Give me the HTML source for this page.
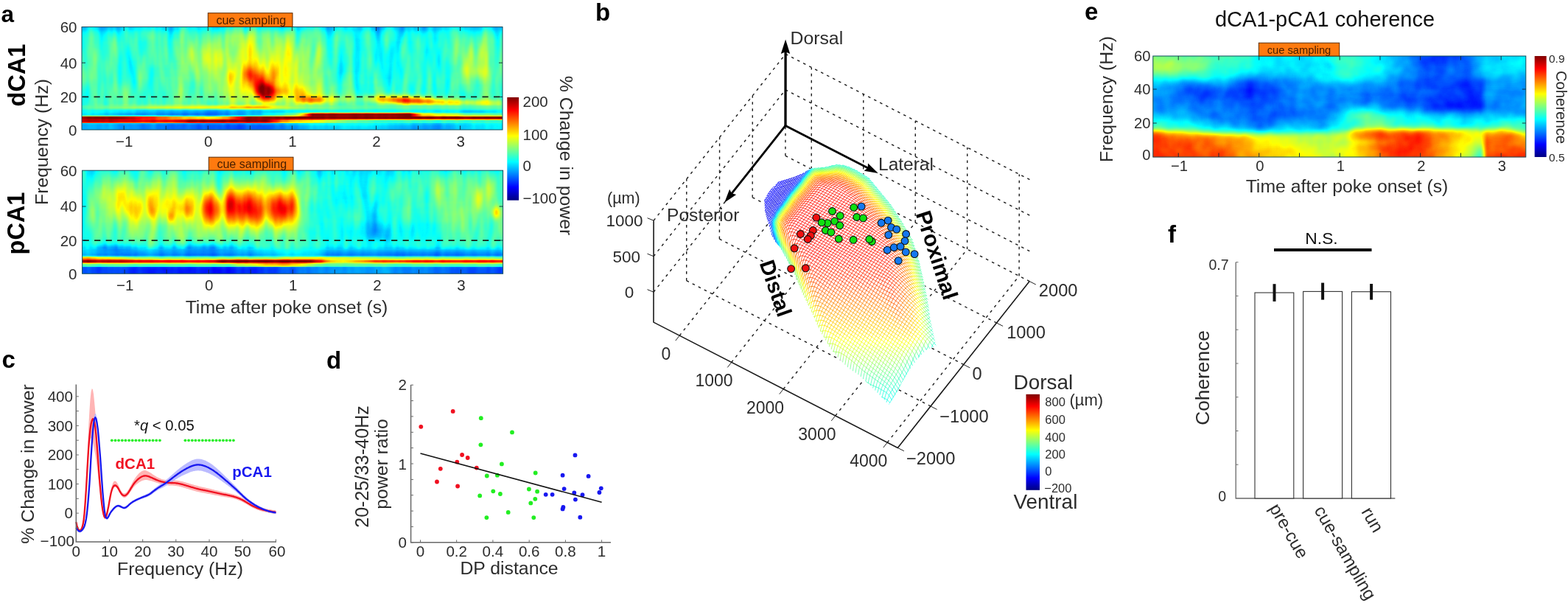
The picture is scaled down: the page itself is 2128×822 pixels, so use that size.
<!DOCTYPE html>
<html lang="en"><head><meta charset="utf-8"><title>Figure</title>
<style>
html,body{margin:0;padding:0;background:#fff}
svg{display:block}
</style></head><body>
<svg width="2128" height="822" viewBox="0 0 2128 822" font-family="'Liberation Sans', sans-serif" fill="#2c2c2c">
<defs>
<linearGradient id="haaT" gradientUnits="userSpaceOnUse" x1="111" x2="682" y1="0" y2="0"/>
<linearGradient id="haa0" href="#haaT"><stop offset=".003" stop-color="#565656"/><stop offset=".15" stop-color="#535353"/><stop offset=".283" stop-color="#5f5f5f"/><stop offset=".409" stop-color="#6a6a6a"/><stop offset=".535" stop-color="#5c5c5c"/><stop offset=".703" stop-color="#4c4c4c"/><stop offset=".864" stop-color="#515151"/><stop offset=".962" stop-color="#5e5e5e"/><stop offset=".997" stop-color="#545454"/></linearGradient>
<linearGradient id="haa1" href="#haaT"><stop offset=".003" stop-color="#5f5f5f"/><stop offset=".15" stop-color="#5d5d5d"/><stop offset=".283" stop-color="#696969"/><stop offset=".409" stop-color="#757575"/><stop offset=".528" stop-color="#686868"/><stop offset=".647" stop-color="#595959"/><stop offset=".822" stop-color="#575757"/><stop offset=".892" stop-color="#606060"/><stop offset=".962" stop-color="#696969"/><stop offset=".997" stop-color="#5e5e5e"/></linearGradient>
<linearGradient id="haa2" href="#haaT"><stop offset=".003" stop-color="#666"/><stop offset=".115" stop-color="#646464"/><stop offset=".255" stop-color="#6c6c6c"/><stop offset=".409" stop-color="#7d7d7d"/><stop offset=".479" stop-color="#767676"/><stop offset=".5" stop-color="#747474"/><stop offset=".626" stop-color="#616161"/><stop offset=".773" stop-color="#5d5d5d"/><stop offset=".864" stop-color="#626262"/><stop offset=".962" stop-color="#707070"/><stop offset=".997" stop-color="#646464"/></linearGradient>
<linearGradient id="haa3" href="#haaT"><stop offset=".003" stop-color="#696969"/><stop offset=".108" stop-color="#676767"/><stop offset=".255" stop-color="#717171"/><stop offset=".402" stop-color="#858585"/><stop offset=".472" stop-color="#7a7a7a"/><stop offset=".493" stop-color="#7d7d7d"/><stop offset=".514" stop-color="#767676"/><stop offset=".633" stop-color="#646464"/><stop offset=".78" stop-color="#616161"/><stop offset=".864" stop-color="#666"/><stop offset=".934" stop-color="#707070"/><stop offset=".962" stop-color="#747474"/><stop offset=".997" stop-color="#686868"/></linearGradient>
<linearGradient id="haa4" href="#haaT"><stop offset=".003" stop-color="#6c6c6c"/><stop offset=".108" stop-color="#6a6a6a"/><stop offset=".129" stop-color="#6c6c6c"/><stop offset=".227" stop-color="#6f6f6f"/><stop offset=".388" stop-color="#868686"/><stop offset=".402" stop-color="#8b8b8b"/><stop offset=".437" stop-color="#818181"/><stop offset=".479" stop-color="#7f7f7f"/><stop offset=".493" stop-color="#828282"/><stop offset=".514" stop-color="#7a7a7a"/><stop offset=".535" stop-color="#757575"/><stop offset=".633" stop-color="#676767"/><stop offset=".773" stop-color="#636363"/><stop offset=".857" stop-color="#666"/><stop offset=".927" stop-color="#747474"/><stop offset=".962" stop-color="#787878"/><stop offset=".997" stop-color="#6a6a6a"/></linearGradient>
<linearGradient id="haa5" href="#haaT"><stop offset=".003" stop-color="#6d6d6d"/><stop offset=".101" stop-color="#6a6a6a"/><stop offset=".122" stop-color="#717171"/><stop offset=".157" stop-color="#6c6c6c"/><stop offset=".248" stop-color="#757575"/><stop offset=".269" stop-color="#797979"/><stop offset=".388" stop-color="#898989"/><stop offset=".402" stop-color="#909090"/><stop offset=".423" stop-color="#858585"/><stop offset=".479" stop-color="#828282"/><stop offset=".493" stop-color="#868686"/><stop offset=".507" stop-color="#7c7c7c"/><stop offset=".528" stop-color="#7e7e7e"/><stop offset=".549" stop-color="#747474"/><stop offset=".661" stop-color="#666"/><stop offset=".85" stop-color="#666"/><stop offset=".878" stop-color="#6f6f6f"/><stop offset=".927" stop-color="#767676"/><stop offset=".948" stop-color="#767676"/><stop offset=".962" stop-color="#7b7b7b"/><stop offset=".997" stop-color="#6c6c6c"/></linearGradient>
<linearGradient id="haa6" href="#haaT"><stop offset=".003" stop-color="#6e6e6e"/><stop offset=".101" stop-color="#6c6c6c"/><stop offset=".122" stop-color="#747474"/><stop offset=".15" stop-color="#6c6c6c"/><stop offset=".248" stop-color="#777"/><stop offset=".262" stop-color="#7e7e7e"/><stop offset=".283" stop-color="#7c7c7c"/><stop offset=".304" stop-color="#818181"/><stop offset=".381" stop-color="#888"/><stop offset=".402" stop-color="#949494"/><stop offset=".423" stop-color="#878787"/><stop offset=".472" stop-color="#828282"/><stop offset=".493" stop-color="#8a8a8a"/><stop offset=".507" stop-color="#7e7e7e"/><stop offset=".528" stop-color="#818181"/><stop offset=".542" stop-color="#777"/><stop offset=".563" stop-color="#777"/><stop offset=".591" stop-color="#6d6d6d"/><stop offset=".745" stop-color="#656565"/><stop offset=".857" stop-color="#696969"/><stop offset=".878" stop-color="#707070"/><stop offset=".906" stop-color="#747474"/><stop offset=".927" stop-color="#787878"/><stop offset=".948" stop-color="#787878"/><stop offset=".962" stop-color="#7d7d7d"/><stop offset=".99" stop-color="#6f6f6f"/><stop offset=".997" stop-color="#6d6d6d"/></linearGradient>
<linearGradient id="haa7" href="#haaT"><stop offset=".003" stop-color="#6f6f6f"/><stop offset=".101" stop-color="#6c6c6c"/><stop offset=".122" stop-color="#777"/><stop offset=".15" stop-color="#6d6d6d"/><stop offset=".241" stop-color="#757575"/><stop offset=".262" stop-color="#828282"/><stop offset=".283" stop-color="#7e7e7e"/><stop offset=".297" stop-color="#858585"/><stop offset=".353" stop-color="#868686"/><stop offset=".388" stop-color="#8e8e8e"/><stop offset=".402" stop-color="#989898"/><stop offset=".423" stop-color="#898989"/><stop offset=".472" stop-color="#838383"/><stop offset=".486" stop-color="#8d8d8d"/><stop offset=".493" stop-color="#8c8c8c"/><stop offset=".507" stop-color="#808080"/><stop offset=".521" stop-color="#878787"/><stop offset=".542" stop-color="#787878"/><stop offset=".563" stop-color="#7a7a7a"/><stop offset=".584" stop-color="#6f6f6f"/><stop offset=".738" stop-color="#666"/><stop offset=".857" stop-color="#6b6b6b"/><stop offset=".878" stop-color="#727272"/><stop offset=".906" stop-color="#757575"/><stop offset=".927" stop-color="#7a7a7a"/><stop offset=".948" stop-color="#797979"/><stop offset=".962" stop-color="#808080"/><stop offset=".983" stop-color="#717171"/><stop offset=".997" stop-color="#6d6d6d"/></linearGradient>
<linearGradient id="haa8" href="#haaT"><stop offset=".003" stop-color="#6f6f6f"/><stop offset=".101" stop-color="#6d6d6d"/><stop offset=".122" stop-color="#787878"/><stop offset=".15" stop-color="#6e6e6e"/><stop offset=".241" stop-color="#767676"/><stop offset=".262" stop-color="#878787"/><stop offset=".276" stop-color="#7e7e7e"/><stop offset=".297" stop-color="#888"/><stop offset=".318" stop-color="#848484"/><stop offset=".381" stop-color="#8b8b8b"/><stop offset=".402" stop-color="#9a9a9a"/><stop offset=".423" stop-color="#8a8a8a"/><stop offset=".472" stop-color="#858585"/><stop offset=".486" stop-color="#8f8f8f"/><stop offset=".493" stop-color="#8e8e8e"/><stop offset=".507" stop-color="#818181"/><stop offset=".521" stop-color="#898989"/><stop offset=".528" stop-color="#878787"/><stop offset=".542" stop-color="#797979"/><stop offset=".563" stop-color="#7d7d7d"/><stop offset=".584" stop-color="#707070"/><stop offset=".738" stop-color="#666"/><stop offset=".857" stop-color="#6b6b6b"/><stop offset=".878" stop-color="#737373"/><stop offset=".899" stop-color="#737373"/><stop offset=".92" stop-color="#7d7d7d"/><stop offset=".941" stop-color="#777"/><stop offset=".962" stop-color="#828282"/><stop offset=".983" stop-color="#727272"/><stop offset=".997" stop-color="#6e6e6e"/></linearGradient>
<linearGradient id="haa9" href="#haaT"><stop offset=".003" stop-color="#707070"/><stop offset=".101" stop-color="#6d6d6d"/><stop offset=".122" stop-color="#797979"/><stop offset=".15" stop-color="#6e6e6e"/><stop offset=".241" stop-color="#777"/><stop offset=".255" stop-color="#888"/><stop offset=".262" stop-color="#8c8c8c"/><stop offset=".276" stop-color="#7f7f7f"/><stop offset=".297" stop-color="#8c8c8c"/><stop offset=".318" stop-color="#868686"/><stop offset=".332" stop-color="#8c8c8c"/><stop offset=".367" stop-color="#8a8a8a"/><stop offset=".388" stop-color="#919191"/><stop offset=".402" stop-color="#9c9c9c"/><stop offset=".423" stop-color="#8b8b8b"/><stop offset=".472" stop-color="#868686"/><stop offset=".486" stop-color="#909090"/><stop offset=".493" stop-color="#909090"/><stop offset=".507" stop-color="#828282"/><stop offset=".521" stop-color="#8c8c8c"/><stop offset=".528" stop-color="#898989"/><stop offset=".542" stop-color="#7a7a7a"/><stop offset=".563" stop-color="#7f7f7f"/><stop offset=".584" stop-color="#707070"/><stop offset=".738" stop-color="#666"/><stop offset=".85" stop-color="#696969"/><stop offset=".871" stop-color="#747474"/><stop offset=".899" stop-color="#737373"/><stop offset=".92" stop-color="#7f7f7f"/><stop offset=".941" stop-color="#787878"/><stop offset=".962" stop-color="#838383"/><stop offset=".983" stop-color="#727272"/><stop offset=".997" stop-color="#6e6e6e"/></linearGradient>
<linearGradient id="haa10" href="#haaT"><stop offset=".003" stop-color="#707070"/><stop offset=".101" stop-color="#6d6d6d"/><stop offset=".122" stop-color="#787878"/><stop offset=".15" stop-color="#6e6e6e"/><stop offset=".241" stop-color="#777"/><stop offset=".255" stop-color="#8b8b8b"/><stop offset=".262" stop-color="#909090"/><stop offset=".276" stop-color="#808080"/><stop offset=".297" stop-color="#8f8f8f"/><stop offset=".311" stop-color="#868686"/><stop offset=".332" stop-color="#909090"/><stop offset=".353" stop-color="#8a8a8a"/><stop offset=".388" stop-color="#929292"/><stop offset=".402" stop-color="#9c9c9c"/><stop offset=".423" stop-color="#8d8d8d"/><stop offset=".472" stop-color="#878787"/><stop offset=".486" stop-color="#919191"/><stop offset=".493" stop-color="#909090"/><stop offset=".507" stop-color="#838383"/><stop offset=".521" stop-color="#8d8d8d"/><stop offset=".528" stop-color="#8b8b8b"/><stop offset=".542" stop-color="#7b7b7b"/><stop offset=".563" stop-color="#818181"/><stop offset=".577" stop-color="#737373"/><stop offset=".731" stop-color="#666"/><stop offset=".85" stop-color="#696969"/><stop offset=".871" stop-color="#757575"/><stop offset=".899" stop-color="#747474"/><stop offset=".92" stop-color="#818181"/><stop offset=".941" stop-color="#787878"/><stop offset=".962" stop-color="#858585"/><stop offset=".983" stop-color="#727272"/><stop offset=".997" stop-color="#6e6e6e"/></linearGradient>
<linearGradient id="haa11" href="#haaT"><stop offset=".003" stop-color="#707070"/><stop offset=".101" stop-color="#6d6d6d"/><stop offset=".122" stop-color="#777"/><stop offset=".15" stop-color="#6e6e6e"/><stop offset=".241" stop-color="#787878"/><stop offset=".255" stop-color="#8e8e8e"/><stop offset=".262" stop-color="#929292"/><stop offset=".276" stop-color="#818181"/><stop offset=".283" stop-color="#848484"/><stop offset=".297" stop-color="#929292"/><stop offset=".311" stop-color="#888"/><stop offset=".332" stop-color="#949494"/><stop offset=".353" stop-color="#8b8b8b"/><stop offset=".388" stop-color="#939393"/><stop offset=".402" stop-color="#9c9c9c"/><stop offset=".423" stop-color="#8e8e8e"/><stop offset=".472" stop-color="#888"/><stop offset=".486" stop-color="#919191"/><stop offset=".493" stop-color="#909090"/><stop offset=".507" stop-color="#848484"/><stop offset=".521" stop-color="#8e8e8e"/><stop offset=".528" stop-color="#8b8b8b"/><stop offset=".542" stop-color="#7b7b7b"/><stop offset=".563" stop-color="#828282"/><stop offset=".577" stop-color="#737373"/><stop offset=".724" stop-color="#666"/><stop offset=".85" stop-color="#6a6a6a"/><stop offset=".871" stop-color="#767676"/><stop offset=".899" stop-color="#747474"/><stop offset=".92" stop-color="#828282"/><stop offset=".941" stop-color="#787878"/><stop offset=".962" stop-color="#868686"/><stop offset=".983" stop-color="#727272"/><stop offset=".997" stop-color="#6e6e6e"/></linearGradient>
<linearGradient id="haa12" href="#haaT"><stop offset=".003" stop-color="#707070"/><stop offset=".101" stop-color="#6d6d6d"/><stop offset=".122" stop-color="#757575"/><stop offset=".157" stop-color="#6f6f6f"/><stop offset=".241" stop-color="#787878"/><stop offset=".255" stop-color="#8f8f8f"/><stop offset=".262" stop-color="#939393"/><stop offset=".276" stop-color="#828282"/><stop offset=".283" stop-color="#848484"/><stop offset=".297" stop-color="#949494"/><stop offset=".311" stop-color="#888"/><stop offset=".332" stop-color="#979797"/><stop offset=".346" stop-color="#8c8c8c"/><stop offset=".388" stop-color="#949494"/><stop offset=".402" stop-color="#9c9c9c"/><stop offset=".423" stop-color="#8f8f8f"/><stop offset=".479" stop-color="#8c8c8c"/><stop offset=".493" stop-color="#909090"/><stop offset=".507" stop-color="#858585"/><stop offset=".521" stop-color="#8e8e8e"/><stop offset=".528" stop-color="#8b8b8b"/><stop offset=".542" stop-color="#7c7c7c"/><stop offset=".563" stop-color="#838383"/><stop offset=".577" stop-color="#737373"/><stop offset=".724" stop-color="#666"/><stop offset=".85" stop-color="#6a6a6a"/><stop offset=".871" stop-color="#777"/><stop offset=".899" stop-color="#747474"/><stop offset=".92" stop-color="#838383"/><stop offset=".941" stop-color="#797979"/><stop offset=".962" stop-color="#868686"/><stop offset=".983" stop-color="#727272"/><stop offset=".997" stop-color="#6e6e6e"/></linearGradient>
<linearGradient id="haa13" href="#haaT"><stop offset=".003" stop-color="#707070"/><stop offset=".101" stop-color="#6d6d6d"/><stop offset=".122" stop-color="#737373"/><stop offset=".164" stop-color="#6f6f6f"/><stop offset=".241" stop-color="#787878"/><stop offset=".255" stop-color="#8e8e8e"/><stop offset=".262" stop-color="#929292"/><stop offset=".276" stop-color="#828282"/><stop offset=".283" stop-color="#858585"/><stop offset=".297" stop-color="#949494"/><stop offset=".311" stop-color="#898989"/><stop offset=".318" stop-color="#8c8c8c"/><stop offset=".325" stop-color="#969696"/><stop offset=".332" stop-color="#999"/><stop offset=".346" stop-color="#8d8d8d"/><stop offset=".388" stop-color="#969696"/><stop offset=".402" stop-color="#9d9d9d"/><stop offset=".423" stop-color="#919191"/><stop offset=".479" stop-color="#8d8d8d"/><stop offset=".493" stop-color="#8f8f8f"/><stop offset=".507" stop-color="#858585"/><stop offset=".521" stop-color="#8d8d8d"/><stop offset=".528" stop-color="#8a8a8a"/><stop offset=".542" stop-color="#7c7c7c"/><stop offset=".563" stop-color="#838383"/><stop offset=".577" stop-color="#747474"/><stop offset=".724" stop-color="#666"/><stop offset=".85" stop-color="#6a6a6a"/><stop offset=".871" stop-color="#787878"/><stop offset=".899" stop-color="#747474"/><stop offset=".92" stop-color="#848484"/><stop offset=".941" stop-color="#797979"/><stop offset=".962" stop-color="#868686"/><stop offset=".983" stop-color="#727272"/><stop offset=".997" stop-color="#6e6e6e"/></linearGradient>
<linearGradient id="haa14" href="#haaT"><stop offset=".003" stop-color="#707070"/><stop offset=".108" stop-color="#6e6e6e"/><stop offset=".234" stop-color="#767676"/><stop offset=".248" stop-color="#7f7f7f"/><stop offset=".255" stop-color="#8c8c8c"/><stop offset=".262" stop-color="#909090"/><stop offset=".276" stop-color="#818181"/><stop offset=".283" stop-color="#848484"/><stop offset=".297" stop-color="#939393"/><stop offset=".311" stop-color="#898989"/><stop offset=".332" stop-color="#999"/><stop offset=".346" stop-color="#8d8d8d"/><stop offset=".381" stop-color="#959595"/><stop offset=".395" stop-color="#a0a0a0"/><stop offset=".402" stop-color="#a1a1a1"/><stop offset=".423" stop-color="#949494"/><stop offset=".465" stop-color="#939393"/><stop offset=".479" stop-color="#8e8e8e"/><stop offset=".493" stop-color="#8f8f8f"/><stop offset=".507" stop-color="#868686"/><stop offset=".521" stop-color="#8c8c8c"/><stop offset=".542" stop-color="#7c7c7c"/><stop offset=".563" stop-color="#828282"/><stop offset=".577" stop-color="#747474"/><stop offset=".724" stop-color="#666"/><stop offset=".85" stop-color="#6a6a6a"/><stop offset=".871" stop-color="#787878"/><stop offset=".899" stop-color="#747474"/><stop offset=".92" stop-color="#848484"/><stop offset=".941" stop-color="#797979"/><stop offset=".962" stop-color="#868686"/><stop offset=".983" stop-color="#727272"/><stop offset=".997" stop-color="#6f6f6f"/></linearGradient>
<linearGradient id="haa15" href="#haaT"><stop offset=".003" stop-color="#707070"/><stop offset=".108" stop-color="#6e6e6e"/><stop offset=".241" stop-color="#787878"/><stop offset=".255" stop-color="#888"/><stop offset=".262" stop-color="#8c8c8c"/><stop offset=".276" stop-color="#818181"/><stop offset=".297" stop-color="#909090"/><stop offset=".311" stop-color="#888"/><stop offset=".332" stop-color="#989898"/><stop offset=".346" stop-color="#8e8e8e"/><stop offset=".381" stop-color="#999"/><stop offset=".395" stop-color="#a8a8a8"/><stop offset=".402" stop-color="#a8a8a8"/><stop offset=".423" stop-color="#979797"/><stop offset=".451" stop-color="#979797"/><stop offset=".458" stop-color="#9c9c9c"/><stop offset=".479" stop-color="#909090"/><stop offset=".5" stop-color="#8b8b8b"/><stop offset=".514" stop-color="#888"/><stop offset=".528" stop-color="#888"/><stop offset=".542" stop-color="#7d7d7d"/><stop offset=".563" stop-color="#818181"/><stop offset=".584" stop-color="#717171"/><stop offset=".738" stop-color="#676767"/><stop offset=".85" stop-color="#6a6a6a"/><stop offset=".871" stop-color="#787878"/><stop offset=".899" stop-color="#747474"/><stop offset=".92" stop-color="#858585"/><stop offset=".941" stop-color="#7b7b7b"/><stop offset=".962" stop-color="#868686"/><stop offset=".983" stop-color="#737373"/><stop offset=".997" stop-color="#6f6f6f"/></linearGradient>
<linearGradient id="haa16" href="#haaT"><stop offset=".003" stop-color="#707070"/><stop offset=".115" stop-color="#6e6e6e"/><stop offset=".241" stop-color="#777"/><stop offset=".262" stop-color="#888"/><stop offset=".276" stop-color="#808080"/><stop offset=".297" stop-color="#8d8d8d"/><stop offset=".311" stop-color="#878787"/><stop offset=".332" stop-color="#959595"/><stop offset=".346" stop-color="#8e8e8e"/><stop offset=".374" stop-color="#979797"/><stop offset=".388" stop-color="#a8a8a8"/><stop offset=".395" stop-color="#b3b3b3"/><stop offset=".402" stop-color="#b3b3b3"/><stop offset=".416" stop-color="#9f9f9f"/><stop offset=".444" stop-color="#989898"/><stop offset=".458" stop-color="#a4a4a4"/><stop offset=".479" stop-color="#929292"/><stop offset=".514" stop-color="#888"/><stop offset=".528" stop-color="#878787"/><stop offset=".542" stop-color="#7d7d7d"/><stop offset=".563" stop-color="#7f7f7f"/><stop offset=".584" stop-color="#717171"/><stop offset=".738" stop-color="#676767"/><stop offset=".85" stop-color="#6a6a6a"/><stop offset=".871" stop-color="#787878"/><stop offset=".892" stop-color="#727272"/><stop offset=".92" stop-color="#868686"/><stop offset=".941" stop-color="#7f7f7f"/><stop offset=".962" stop-color="#878787"/><stop offset=".983" stop-color="#737373"/><stop offset=".997" stop-color="#6f6f6f"/></linearGradient>
<linearGradient id="haa17" href="#haaT"><stop offset=".003" stop-color="#707070"/><stop offset=".143" stop-color="#6e6e6e"/><stop offset=".241" stop-color="#777"/><stop offset=".262" stop-color="#848484"/><stop offset=".276" stop-color="#7f7f7f"/><stop offset=".297" stop-color="#8a8a8a"/><stop offset=".318" stop-color="#898989"/><stop offset=".332" stop-color="#919191"/><stop offset=".346" stop-color="#8f8f8f"/><stop offset=".374" stop-color="#999"/><stop offset=".381" stop-color="#a2a2a2"/><stop offset=".395" stop-color="#c1c1c1"/><stop offset=".402" stop-color="#c1c1c1"/><stop offset=".416" stop-color="#a7a7a7"/><stop offset=".437" stop-color="#9c9c9c"/><stop offset=".444" stop-color="#9c9c9c"/><stop offset=".458" stop-color="#acacac"/><stop offset=".465" stop-color="#a7a7a7"/><stop offset=".472" stop-color="#9a9a9a"/><stop offset=".514" stop-color="#898989"/><stop offset=".549" stop-color="#7d7d7d"/><stop offset=".563" stop-color="#7d7d7d"/><stop offset=".584" stop-color="#717171"/><stop offset=".738" stop-color="#676767"/><stop offset=".85" stop-color="#6a6a6a"/><stop offset=".871" stop-color="#787878"/><stop offset=".892" stop-color="#737373"/><stop offset=".92" stop-color="#888"/><stop offset=".948" stop-color="#858585"/><stop offset=".962" stop-color="#898989"/><stop offset=".983" stop-color="#747474"/><stop offset=".997" stop-color="#6f6f6f"/></linearGradient>
<linearGradient id="haa18" href="#haaT"><stop offset=".003" stop-color="#707070"/><stop offset=".143" stop-color="#6e6e6e"/><stop offset=".248" stop-color="#797979"/><stop offset=".262" stop-color="#808080"/><stop offset=".283" stop-color="#808080"/><stop offset=".297" stop-color="#878787"/><stop offset=".318" stop-color="#878787"/><stop offset=".346" stop-color="#929292"/><stop offset=".353" stop-color="#9a9a9a"/><stop offset=".367" stop-color="#969696"/><stop offset=".381" stop-color="#a6a6a6"/><stop offset=".395" stop-color="#cdcdcd"/><stop offset=".402" stop-color="#cfcfcf"/><stop offset=".416" stop-color="#b1b1b1"/><stop offset=".437" stop-color="#a2a2a2"/><stop offset=".444" stop-color="#a1a1a1"/><stop offset=".458" stop-color="#b3b3b3"/><stop offset=".465" stop-color="#adadad"/><stop offset=".472" stop-color="#9e9e9e"/><stop offset=".5" stop-color="#8f8f8f"/><stop offset=".549" stop-color="#7d7d7d"/><stop offset=".57" stop-color="#777"/><stop offset=".626" stop-color="#6c6c6c"/><stop offset=".759" stop-color="#676767"/><stop offset=".85" stop-color="#6a6a6a"/><stop offset=".871" stop-color="#777"/><stop offset=".892" stop-color="#737373"/><stop offset=".913" stop-color="#838383"/><stop offset=".927" stop-color="#8b8b8b"/><stop offset=".962" stop-color="#8a8a8a"/><stop offset=".983" stop-color="#747474"/><stop offset=".997" stop-color="#6f6f6f"/></linearGradient>
<linearGradient id="haa19" href="#haaT"><stop offset=".003" stop-color="#707070"/><stop offset=".143" stop-color="#6e6e6e"/><stop offset=".248" stop-color="#787878"/><stop offset=".304" stop-color="#858585"/><stop offset=".339" stop-color="#8c8c8c"/><stop offset=".353" stop-color="#a1a1a1"/><stop offset=".367" stop-color="#979797"/><stop offset=".374" stop-color="#9c9c9c"/><stop offset=".381" stop-color="#a9a9a9"/><stop offset=".395" stop-color="#d5d5d5"/><stop offset=".402" stop-color="#d8d8d8"/><stop offset=".416" stop-color="#bcbcbc"/><stop offset=".437" stop-color="#a9a9a9"/><stop offset=".444" stop-color="#a6a6a6"/><stop offset=".458" stop-color="#b8b8b8"/><stop offset=".465" stop-color="#b1b1b1"/><stop offset=".472" stop-color="#a1a1a1"/><stop offset=".493" stop-color="#949494"/><stop offset=".549" stop-color="#7d7d7d"/><stop offset=".612" stop-color="#6e6e6e"/><stop offset=".752" stop-color="#676767"/><stop offset=".85" stop-color="#6a6a6a"/><stop offset=".871" stop-color="#767676"/><stop offset=".899" stop-color="#767676"/><stop offset=".927" stop-color="#8b8b8b"/><stop offset=".962" stop-color="#898989"/><stop offset=".983" stop-color="#747474"/><stop offset=".997" stop-color="#6f6f6f"/></linearGradient>
<linearGradient id="haa20" href="#haaT"><stop offset=".003" stop-color="#707070"/><stop offset=".143" stop-color="#6e6e6e"/><stop offset=".248" stop-color="#777"/><stop offset=".339" stop-color="#8b8b8b"/><stop offset=".353" stop-color="#a5a5a5"/><stop offset=".367" stop-color="#979797"/><stop offset=".374" stop-color="#9c9c9c"/><stop offset=".381" stop-color="#a8a8a8"/><stop offset=".395" stop-color="#d5d5d5"/><stop offset=".402" stop-color="#dcdcdc"/><stop offset=".43" stop-color="#b8b8b8"/><stop offset=".444" stop-color="#adadad"/><stop offset=".458" stop-color="#b9b9b9"/><stop offset=".465" stop-color="#b2b2b2"/><stop offset=".472" stop-color="#a3a3a3"/><stop offset=".5" stop-color="#939393"/><stop offset=".584" stop-color="#727272"/><stop offset=".731" stop-color="#676767"/><stop offset=".85" stop-color="#6a6a6a"/><stop offset=".871" stop-color="#767676"/><stop offset=".899" stop-color="#757575"/><stop offset=".927" stop-color="#868686"/><stop offset=".962" stop-color="#868686"/><stop offset=".983" stop-color="#747474"/><stop offset=".997" stop-color="#6f6f6f"/></linearGradient>
<linearGradient id="haa21" href="#haaT"><stop offset=".003" stop-color="#707070"/><stop offset=".143" stop-color="#6e6e6e"/><stop offset=".269" stop-color="#7b7b7b"/><stop offset=".339" stop-color="#8a8a8a"/><stop offset=".353" stop-color="#a5a5a5"/><stop offset=".367" stop-color="#969696"/><stop offset=".374" stop-color="#9a9a9a"/><stop offset=".381" stop-color="#a6a6a6"/><stop offset=".395" stop-color="#cfcfcf"/><stop offset=".402" stop-color="#dadada"/><stop offset=".43" stop-color="#c5c5c5"/><stop offset=".444" stop-color="#b4b4b4"/><stop offset=".458" stop-color="#b9b9b9"/><stop offset=".479" stop-color="#9e9e9e"/><stop offset=".584" stop-color="#727272"/><stop offset=".724" stop-color="#666"/><stop offset=".85" stop-color="#6a6a6a"/><stop offset=".871" stop-color="#757575"/><stop offset=".899" stop-color="#747474"/><stop offset=".927" stop-color="#818181"/><stop offset=".962" stop-color="#818181"/><stop offset=".99" stop-color="#717171"/><stop offset=".997" stop-color="#6f6f6f"/></linearGradient>
<linearGradient id="haa22" href="#haaT"><stop offset=".003" stop-color="#707070"/><stop offset=".143" stop-color="#6d6d6d"/><stop offset=".276" stop-color="#7b7b7b"/><stop offset=".339" stop-color="#898989"/><stop offset=".353" stop-color="#a0a0a0"/><stop offset=".367" stop-color="#949494"/><stop offset=".381" stop-color="#a2a2a2"/><stop offset=".395" stop-color="#c6c6c6"/><stop offset=".402" stop-color="#d3d3d3"/><stop offset=".423" stop-color="#d8d8d8"/><stop offset=".451" stop-color="#b9b9b9"/><stop offset=".458" stop-color="#b8b8b8"/><stop offset=".479" stop-color="#a0a0a0"/><stop offset=".591" stop-color="#717171"/><stop offset=".731" stop-color="#676767"/><stop offset=".857" stop-color="#6c6c6c"/><stop offset=".878" stop-color="#737373"/><stop offset=".906" stop-color="#767676"/><stop offset=".934" stop-color="#7b7b7b"/><stop offset=".962" stop-color="#7d7d7d"/><stop offset=".997" stop-color="#6f6f6f"/></linearGradient>
<linearGradient id="haa23" href="#haaT"><stop offset=".003" stop-color="#707070"/><stop offset=".143" stop-color="#6d6d6d"/><stop offset=".276" stop-color="#7a7a7a"/><stop offset=".339" stop-color="#878787"/><stop offset=".353" stop-color="#989898"/><stop offset=".367" stop-color="#929292"/><stop offset=".381" stop-color="#9e9e9e"/><stop offset=".409" stop-color="#d4d4d4"/><stop offset=".423" stop-color="#e3e3e3"/><stop offset=".43" stop-color="#e2e2e2"/><stop offset=".458" stop-color="#bababa"/><stop offset=".479" stop-color="#a3a3a3"/><stop offset=".598" stop-color="#717171"/><stop offset=".731" stop-color="#676767"/><stop offset=".857" stop-color="#6c6c6c"/><stop offset=".878" stop-color="#737373"/><stop offset=".913" stop-color="#777"/><stop offset=".962" stop-color="#7b7b7b"/><stop offset=".997" stop-color="#6f6f6f"/></linearGradient>
<linearGradient id="haa24" href="#haaT"><stop offset=".003" stop-color="#707070"/><stop offset=".15" stop-color="#6e6e6e"/><stop offset=".276" stop-color="#7a7a7a"/><stop offset=".339" stop-color="#868686"/><stop offset=".353" stop-color="#919191"/><stop offset=".374" stop-color="#939393"/><stop offset=".388" stop-color="#a3a3a3"/><stop offset=".423" stop-color="#f0f0f0"/><stop offset=".43" stop-color="#f6f6f6"/><stop offset=".437" stop-color="#f1f1f1"/><stop offset=".458" stop-color="#c0c0c0"/><stop offset=".472" stop-color="#acacac"/><stop offset=".514" stop-color="#9a9a9a"/><stop offset=".591" stop-color="#747474"/><stop offset=".703" stop-color="#666"/><stop offset=".857" stop-color="#6b6b6b"/><stop offset=".878" stop-color="#727272"/><stop offset=".969" stop-color="#777"/><stop offset=".997" stop-color="#6f6f6f"/></linearGradient>
<linearGradient id="haa25" href="#haaT"><stop offset=".003" stop-color="#707070"/><stop offset=".15" stop-color="#6e6e6e"/><stop offset=".276" stop-color="#797979"/><stop offset=".346" stop-color="#888"/><stop offset=".381" stop-color="#969696"/><stop offset=".395" stop-color="#a7a7a7"/><stop offset=".409" stop-color="#c9c9c9"/><stop offset=".423" stop-color="#fdfdfd"/><stop offset=".437" stop-color="#fff"/><stop offset=".444" stop-color="#fafafa"/><stop offset=".458" stop-color="#ccc"/><stop offset=".472" stop-color="#b4b4b4"/><stop offset=".5" stop-color="#a1a1a1"/><stop offset=".528" stop-color="#9d9d9d"/><stop offset=".563" stop-color="#828282"/><stop offset=".619" stop-color="#6e6e6e"/><stop offset=".745" stop-color="#676767"/><stop offset=".857" stop-color="#6b6b6b"/><stop offset=".885" stop-color="#717171"/><stop offset=".962" stop-color="#797979"/><stop offset=".997" stop-color="#6f6f6f"/></linearGradient>
<linearGradient id="haa26" href="#haaT"><stop offset=".003" stop-color="#707070"/><stop offset=".15" stop-color="#6e6e6e"/><stop offset=".283" stop-color="#7a7a7a"/><stop offset=".374" stop-color="#8e8e8e"/><stop offset=".395" stop-color="#a0a0a0"/><stop offset=".402" stop-color="#adadad"/><stop offset=".409" stop-color="#c3c3c3"/><stop offset=".423" stop-color="#fff"/><stop offset=".444" stop-color="#fff"/><stop offset=".451" stop-color="#f1f1f1"/><stop offset=".458" stop-color="#d9d9d9"/><stop offset=".472" stop-color="#bfbfbf"/><stop offset=".5" stop-color="#a3a3a3"/><stop offset=".521" stop-color="#a8a8a8"/><stop offset=".535" stop-color="#9b9b9b"/><stop offset=".556" stop-color="#878787"/><stop offset=".605" stop-color="#717171"/><stop offset=".724" stop-color="#676767"/><stop offset=".857" stop-color="#6a6a6a"/><stop offset=".92" stop-color="#767676"/><stop offset=".969" stop-color="#767676"/><stop offset=".997" stop-color="#6f6f6f"/></linearGradient>
<linearGradient id="haa27" href="#haaT"><stop offset=".003" stop-color="#707070"/><stop offset=".15" stop-color="#6d6d6d"/><stop offset=".283" stop-color="#797979"/><stop offset=".374" stop-color="#8c8c8c"/><stop offset=".395" stop-color="#9a9a9a"/><stop offset=".402" stop-color="#a5a5a5"/><stop offset=".409" stop-color="#b9b9b9"/><stop offset=".423" stop-color="#fdfdfd"/><stop offset=".444" stop-color="#fff"/><stop offset=".451" stop-color="#f2f2f2"/><stop offset=".458" stop-color="#dadada"/><stop offset=".472" stop-color="#c1c1c1"/><stop offset=".5" stop-color="#a3a3a3"/><stop offset=".514" stop-color="#a8a8a8"/><stop offset=".521" stop-color="#aeaeae"/><stop offset=".528" stop-color="#ababab"/><stop offset=".549" stop-color="#8e8e8e"/><stop offset=".598" stop-color="#747474"/><stop offset=".682" stop-color="#6b6b6b"/><stop offset=".857" stop-color="#6a6a6a"/><stop offset=".955" stop-color="#787878"/><stop offset=".997" stop-color="#6f6f6f"/></linearGradient>
<linearGradient id="haa28" href="#haaT"><stop offset=".003" stop-color="#707070"/><stop offset=".15" stop-color="#6d6d6d"/><stop offset=".283" stop-color="#797979"/><stop offset=".381" stop-color="#8c8c8c"/><stop offset=".395" stop-color="#949494"/><stop offset=".402" stop-color="#9d9d9d"/><stop offset=".409" stop-color="#adadad"/><stop offset=".43" stop-color="#fff"/><stop offset=".444" stop-color="#fbfbfb"/><stop offset=".458" stop-color="#cfcfcf"/><stop offset=".472" stop-color="#b6b6b6"/><stop offset=".493" stop-color="#a1a1a1"/><stop offset=".507" stop-color="#a1a1a1"/><stop offset=".521" stop-color="#b2b2b2"/><stop offset=".528" stop-color="#b1b1b1"/><stop offset=".549" stop-color="#969696"/><stop offset=".591" stop-color="#7c7c7c"/><stop offset=".654" stop-color="#737373"/><stop offset=".745" stop-color="#7d7d7d"/><stop offset=".857" stop-color="#6c6c6c"/><stop offset=".962" stop-color="#787878"/><stop offset=".997" stop-color="#6f6f6f"/></linearGradient>
<linearGradient id="haa29" href="#haaT"><stop offset=".003" stop-color="#707070"/><stop offset=".15" stop-color="#6d6d6d"/><stop offset=".283" stop-color="#787878"/><stop offset=".388" stop-color="#8c8c8c"/><stop offset=".402" stop-color="#969696"/><stop offset=".409" stop-color="#a2a2a2"/><stop offset=".43" stop-color="#e5e5e5"/><stop offset=".437" stop-color="#eee"/><stop offset=".444" stop-color="#e7e7e7"/><stop offset=".465" stop-color="#b3b3b3"/><stop offset=".479" stop-color="#a1a1a1"/><stop offset=".5" stop-color="#9a9a9a"/><stop offset=".507" stop-color="#a0a0a0"/><stop offset=".521" stop-color="#bababa"/><stop offset=".528" stop-color="#bfbfbf"/><stop offset=".563" stop-color="#a3a3a3"/><stop offset=".591" stop-color="#8a8a8a"/><stop offset=".654" stop-color="#7c7c7c"/><stop offset=".696" stop-color="#8f8f8f"/><stop offset=".738" stop-color="#a4a4a4"/><stop offset=".773" stop-color="#a0a0a0"/><stop offset=".85" stop-color="#757575"/><stop offset=".969" stop-color="#767676"/><stop offset=".997" stop-color="#6f6f6f"/></linearGradient>
<linearGradient id="haa30" href="#haaT"><stop offset=".003" stop-color="#707070"/><stop offset=".15" stop-color="#6d6d6d"/><stop offset=".283" stop-color="#787878"/><stop offset=".395" stop-color="#8c8c8c"/><stop offset=".409" stop-color="#989898"/><stop offset=".43" stop-color="#cacaca"/><stop offset=".437" stop-color="#d3d3d3"/><stop offset=".444" stop-color="#d1d1d1"/><stop offset=".472" stop-color="#9d9d9d"/><stop offset=".486" stop-color="#949494"/><stop offset=".5" stop-color="#979797"/><stop offset=".507" stop-color="#9f9f9f"/><stop offset=".521" stop-color="#bebebe"/><stop offset=".528" stop-color="#c9c9c9"/><stop offset=".549" stop-color="#cacaca"/><stop offset=".563" stop-color="#bababa"/><stop offset=".584" stop-color="#9a9a9a"/><stop offset=".64" stop-color="#7f7f7f"/><stop offset=".661" stop-color="#7e7e7e"/><stop offset=".696" stop-color="#989898"/><stop offset=".745" stop-color="#cacaca"/><stop offset=".766" stop-color="#d1d1d1"/><stop offset=".794" stop-color="#c5c5c5"/><stop offset=".857" stop-color="#8b8b8b"/><stop offset=".906" stop-color="#818181"/><stop offset=".969" stop-color="#7d7d7d"/><stop offset=".997" stop-color="#737373"/></linearGradient>
<linearGradient id="haa31" href="#haaT"><stop offset=".003" stop-color="#707070"/><stop offset=".15" stop-color="#6d6d6d"/><stop offset=".29" stop-color="#787878"/><stop offset=".402" stop-color="#8b8b8b"/><stop offset=".423" stop-color="#9f9f9f"/><stop offset=".437" stop-color="#adadad"/><stop offset=".451" stop-color="#a8a8a8"/><stop offset=".479" stop-color="#8e8e8e"/><stop offset=".5" stop-color="#909090"/><stop offset=".514" stop-color="#a1a1a1"/><stop offset=".528" stop-color="#b8b8b8"/><stop offset=".542" stop-color="#bfbfbf"/><stop offset=".556" stop-color="#b8b8b8"/><stop offset=".591" stop-color="#898989"/><stop offset=".647" stop-color="#757575"/><stop offset=".675" stop-color="#7a7a7a"/><stop offset=".71" stop-color="#969696"/><stop offset=".759" stop-color="#cbcbcb"/><stop offset=".787" stop-color="#d5d5d5"/><stop offset=".815" stop-color="#cacaca"/><stop offset=".864" stop-color="#a8a8a8"/><stop offset=".962" stop-color="#999"/><stop offset=".997" stop-color="#848484"/></linearGradient>
<linearGradient id="haa32" href="#haaT"><stop offset=".003" stop-color="#717171"/><stop offset=".192" stop-color="#6f6f6f"/><stop offset=".381" stop-color="#7f7f7f"/><stop offset=".43" stop-color="#949494"/><stop offset=".472" stop-color="#898989"/><stop offset=".507" stop-color="#838383"/><stop offset=".542" stop-color="#8d8d8d"/><stop offset=".577" stop-color="#7e7e7e"/><stop offset=".626" stop-color="#717171"/><stop offset=".689" stop-color="#727272"/><stop offset=".794" stop-color="#9a9a9a"/><stop offset=".92" stop-color="#989898"/><stop offset=".969" stop-color="#939393"/><stop offset=".997" stop-color="#858585"/></linearGradient>
<linearGradient id="haa33" href="#haaT"><stop offset=".003" stop-color="#757575"/><stop offset=".115" stop-color="#828282"/><stop offset=".185" stop-color="#919191"/><stop offset=".346" stop-color="#a5a5a5"/><stop offset=".409" stop-color="#b9b9b9"/><stop offset=".423" stop-color="#b8b8b8"/><stop offset=".458" stop-color="#9c9c9c"/><stop offset=".507" stop-color="#878787"/><stop offset=".619" stop-color="#777"/><stop offset=".997" stop-color="#757575"/></linearGradient>
<filter id="haFa" filterUnits="userSpaceOnUse" x="105" y="30.5" width="583" height="124.4" color-interpolation-filters="sRGB"><feGaussianBlur in="SourceGraphic" stdDeviation="1 1.5" result="b"/><feTurbulence type="fractalNoise" baseFrequency="0.075 0.018" numOctaves="2" seed="4" result="n"/><feColorMatrix in="n" type="matrix" values="1 0 0 0 0 1 0 0 0 0 1 0 0 0 0 0 0 0 0 1" result="m"/><feComposite in="b" in2="m" operator="arithmetic" k1="0" k2="1" k3="0.25" k4="-0.125" result="s"/><feComponentTransfer in="s"><feFuncR type="table" tableValues="0 0 0 0 .5 1 1 1 .5"/><feFuncG type="table" tableValues="0 0 .5 1 1 1 .5 0 0"/><feFuncB type="table" tableValues=".5 1 1 1 .5 0 0 0 0"/></feComponentTransfer></filter>
<clipPath id="haCa"><rect x="111" y="36.5" width="571" height="106.7"/></clipPath>
<linearGradient id="habT" gradientUnits="userSpaceOnUse" x1="111" x2="682" y1="0" y2="0"/>
<linearGradient id="hab0" href="#habT"><stop offset=".003" stop-color="#707070"/><stop offset=".164" stop-color="#6e6e6e"/><stop offset=".325" stop-color="#7b7b7b"/><stop offset=".402" stop-color="#898989"/><stop offset=".437" stop-color="#9b9b9b"/><stop offset=".465" stop-color="#909090"/><stop offset=".493" stop-color="#878787"/><stop offset=".514" stop-color="#929292"/><stop offset=".535" stop-color="#a3a3a3"/><stop offset=".556" stop-color="#9f9f9f"/><stop offset=".591" stop-color="#7d7d7d"/><stop offset=".654" stop-color="#707070"/><stop offset=".696" stop-color="#7b7b7b"/><stop offset=".773" stop-color="#b4b4b4"/><stop offset=".808" stop-color="#bbb"/><stop offset=".871" stop-color="#a8a8a8"/><stop offset=".962" stop-color="#a1a1a1"/><stop offset=".997" stop-color="#8a8a8a"/></linearGradient>
<linearGradient id="hab1" href="#habT"><stop offset=".003" stop-color="#747474"/><stop offset=".129" stop-color="#7c7c7c"/><stop offset=".36" stop-color="#979797"/><stop offset=".423" stop-color="#a8a8a8"/><stop offset=".5" stop-color="#848484"/><stop offset=".633" stop-color="#747474"/><stop offset=".759" stop-color="#787878"/><stop offset=".969" stop-color="#7e7e7e"/><stop offset=".997" stop-color="#797979"/></linearGradient>
<linearGradient id="hab2" href="#habT"><stop offset=".003" stop-color="#757575"/><stop offset=".115" stop-color="#828282"/><stop offset=".185" stop-color="#919191"/><stop offset=".346" stop-color="#a5a5a5"/><stop offset=".409" stop-color="#b9b9b9"/><stop offset=".423" stop-color="#b8b8b8"/><stop offset=".458" stop-color="#9d9d9d"/><stop offset=".507" stop-color="#878787"/><stop offset=".619" stop-color="#777"/><stop offset=".997" stop-color="#757575"/></linearGradient>
<linearGradient id="hab3" href="#habT"><stop offset=".003" stop-color="#747474"/><stop offset=".115" stop-color="#808080"/><stop offset=".192" stop-color="#8e8e8e"/><stop offset=".346" stop-color="#a0a0a0"/><stop offset=".409" stop-color="#b3b3b3"/><stop offset=".423" stop-color="#b3b3b3"/><stop offset=".458" stop-color="#999"/><stop offset=".514" stop-color="#848484"/><stop offset=".626" stop-color="#767676"/><stop offset=".997" stop-color="#747474"/></linearGradient>
<linearGradient id="hab4" href="#habT"><stop offset=".003" stop-color="#6f6f6f"/><stop offset=".129" stop-color="#6f6f6f"/><stop offset=".346" stop-color="#7f7f7f"/><stop offset=".423" stop-color="#8b8b8b"/><stop offset=".514" stop-color="#777"/><stop offset=".71" stop-color="#6c6c6c"/><stop offset=".997" stop-color="#6c6c6c"/></linearGradient>
<linearGradient id="hab5" href="#habT"><stop offset=".003" stop-color="#686868"/><stop offset=".178" stop-color="#555"/><stop offset=".332" stop-color="#565656"/><stop offset=".556" stop-color="#666"/><stop offset=".906" stop-color="#5e5e5e"/><stop offset=".948" stop-color="#5a5a5a"/><stop offset=".997" stop-color="#616161"/></linearGradient>
<linearGradient id="hab6" href="#habT"><stop offset=".003" stop-color="#666"/><stop offset=".185" stop-color="#4c4c4c"/><stop offset=".318" stop-color="#474747"/><stop offset=".612" stop-color="#676767"/><stop offset=".892" stop-color="#5a5a5a"/><stop offset=".948" stop-color="#515151"/><stop offset=".997" stop-color="#5c5c5c"/></linearGradient>
<linearGradient id="hab7" href="#habT"><stop offset=".003" stop-color="#656565"/><stop offset=".171" stop-color="#4a4a4a"/><stop offset=".318" stop-color="#444"/><stop offset=".486" stop-color="#5d5d5d"/><stop offset=".528" stop-color="#6b6b6b"/><stop offset=".556" stop-color="#797979"/><stop offset=".682" stop-color="#7b7b7b"/><stop offset=".78" stop-color="#787878"/><stop offset=".815" stop-color="#696969"/><stop offset=".906" stop-color="#5c5c5c"/><stop offset=".948" stop-color="#555"/><stop offset=".997" stop-color="#5f5f5f"/></linearGradient>
<linearGradient id="hab8" href="#habT"><stop offset=".003" stop-color="#616161"/><stop offset=".115" stop-color="#494949"/><stop offset=".269" stop-color="#3d3d3d"/><stop offset=".332" stop-color="#414141"/><stop offset=".423" stop-color="#555"/><stop offset=".493" stop-color="#717171"/><stop offset=".507" stop-color="#797979"/><stop offset=".521" stop-color="#949494"/><stop offset=".528" stop-color="#a7a7a7"/><stop offset=".542" stop-color="#dbdbdb"/><stop offset=".549" stop-color="#efefef"/><stop offset=".78" stop-color="#f2f2f2"/><stop offset=".801" stop-color="#b3b3b3"/><stop offset=".808" stop-color="#a0a0a0"/><stop offset=".934" stop-color="#787878"/><stop offset=".997" stop-color="#727272"/></linearGradient>
<linearGradient id="hab9" href="#habT"><stop offset=".003" stop-color="#616161"/><stop offset=".115" stop-color="#494949"/><stop offset=".262" stop-color="#3d3d3d"/><stop offset=".318" stop-color="#3f3f3f"/><stop offset=".416" stop-color="#545454"/><stop offset=".486" stop-color="#707070"/><stop offset=".507" stop-color="#7e7e7e"/><stop offset=".521" stop-color="#9c9c9c"/><stop offset=".528" stop-color="#b1b1b1"/><stop offset=".542" stop-color="#ebebeb"/><stop offset=".549" stop-color="#fff"/><stop offset=".78" stop-color="#fff"/><stop offset=".787" stop-color="#ececec"/><stop offset=".808" stop-color="#a9a9a9"/><stop offset=".927" stop-color="#7f7f7f"/><stop offset=".997" stop-color="#777"/></linearGradient>
<linearGradient id="hab10" href="#habT"><stop offset=".003" stop-color="#858585"/><stop offset=".241" stop-color="#585858"/><stop offset=".311" stop-color="#565656"/><stop offset=".367" stop-color="#686868"/><stop offset=".423" stop-color="#7d7d7d"/><stop offset=".5" stop-color="#969696"/><stop offset=".514" stop-color="#a2a2a2"/><stop offset=".528" stop-color="#bdbdbd"/><stop offset=".549" stop-color="#f5f5f5"/><stop offset=".78" stop-color="#f8f8f8"/><stop offset=".808" stop-color="#b7b7b7"/><stop offset=".941" stop-color="#989898"/><stop offset=".997" stop-color="#949494"/></linearGradient>
<linearGradient id="hab11" href="#habT"><stop offset=".003" stop-color="#fbfbfb"/><stop offset=".094" stop-color="#f5f5f5"/><stop offset=".15" stop-color="#d4d4d4"/><stop offset=".255" stop-color="#a6a6a6"/><stop offset=".297" stop-color="#9f9f9f"/><stop offset=".332" stop-color="#a8a8a8"/><stop offset=".36" stop-color="#c5c5c5"/><stop offset=".381" stop-color="#eaeaea"/><stop offset=".402" stop-color="#fbfbfb"/><stop offset=".997" stop-color="#fbfbfb"/></linearGradient>
<linearGradient id="hab12" href="#habT"><stop offset=".003" stop-color="#fff"/><stop offset=".094" stop-color="#fff"/><stop offset=".15" stop-color="#ddd"/><stop offset=".248" stop-color="#aeaeae"/><stop offset=".297" stop-color="#a5a5a5"/><stop offset=".332" stop-color="#aeaeae"/><stop offset=".36" stop-color="#ccc"/><stop offset=".381" stop-color="#f4f4f4"/><stop offset=".388" stop-color="#fdfdfd"/><stop offset=".997" stop-color="#fff"/></linearGradient>
<linearGradient id="hab13" href="#habT"><stop offset=".003" stop-color="#f5f5f5"/><stop offset=".094" stop-color="#efefef"/><stop offset=".178" stop-color="#cbcbcb"/><stop offset=".241" stop-color="#b9b9b9"/><stop offset=".304" stop-color="#b7b7b7"/><stop offset=".332" stop-color="#bcbcbc"/><stop offset=".367" stop-color="#dbdbdb"/><stop offset=".388" stop-color="#f3f3f3"/><stop offset=".409" stop-color="#f9f9f9"/><stop offset=".444" stop-color="#f7f7f7"/><stop offset=".5" stop-color="#e6e6e6"/><stop offset=".724" stop-color="#d5d5d5"/><stop offset=".997" stop-color="#d5d5d5"/></linearGradient>
<linearGradient id="hab14" href="#habT"><stop offset=".003" stop-color="#f1f1f1"/><stop offset=".192" stop-color="#ddd"/><stop offset=".234" stop-color="#e6e6e6"/><stop offset=".262" stop-color="#fafafa"/><stop offset=".437" stop-color="#fcfcfc"/><stop offset=".451" stop-color="#e5e5e5"/><stop offset=".465" stop-color="#cdcdcd"/><stop offset=".493" stop-color="#afafaf"/><stop offset=".57" stop-color="#9a9a9a"/><stop offset=".633" stop-color="#7d7d7d"/><stop offset=".717" stop-color="#6c6c6c"/><stop offset=".997" stop-color="#6d6d6d"/></linearGradient>
<linearGradient id="hab15" href="#habT"><stop offset=".003" stop-color="#f8f8f8"/><stop offset=".185" stop-color="#e3e3e3"/><stop offset=".234" stop-color="#ededed"/><stop offset=".255" stop-color="#fff"/><stop offset=".437" stop-color="#fff"/><stop offset=".444" stop-color="#fafafa"/><stop offset=".465" stop-color="#d2d2d2"/><stop offset=".493" stop-color="#b1b1b1"/><stop offset=".57" stop-color="#9b9b9b"/><stop offset=".633" stop-color="#7c7c7c"/><stop offset=".71" stop-color="#6b6b6b"/><stop offset=".997" stop-color="#6b6b6b"/></linearGradient>
<linearGradient id="hab16" href="#habT"><stop offset=".003" stop-color="#d2d2d2"/><stop offset=".192" stop-color="#c1c1c1"/><stop offset=".234" stop-color="#c8c8c8"/><stop offset=".262" stop-color="#d8d8d8"/><stop offset=".437" stop-color="#dbdbdb"/><stop offset=".451" stop-color="#c9c9c9"/><stop offset=".472" stop-color="#b0b0b0"/><stop offset=".493" stop-color="#9f9f9f"/><stop offset=".57" stop-color="#909090"/><stop offset=".64" stop-color="#777"/><stop offset=".724" stop-color="#6a6a6a"/><stop offset=".997" stop-color="#6b6b6b"/></linearGradient>
<linearGradient id="hab17" href="#habT"><stop offset=".003" stop-color="#565656"/><stop offset=".332" stop-color="#444"/><stop offset=".479" stop-color="#4f4f4f"/><stop offset=".549" stop-color="#626262"/><stop offset=".675" stop-color="#646464"/><stop offset=".801" stop-color="#535353"/><stop offset=".857" stop-color="#535353"/><stop offset=".941" stop-color="#606060"/><stop offset=".997" stop-color="#636363"/></linearGradient>
<linearGradient id="hab18" href="#habT"><stop offset=".003" stop-color="#4f4f4f"/><stop offset=".255" stop-color="#3c3c3c"/><stop offset=".353" stop-color="#393939"/><stop offset=".451" stop-color="#414141"/><stop offset=".5" stop-color="#4d4d4d"/><stop offset=".549" stop-color="#5e5e5e"/><stop offset=".668" stop-color="#636363"/><stop offset=".787" stop-color="#505050"/><stop offset=".85" stop-color="#4d4d4d"/><stop offset=".934" stop-color="#5b5b5b"/><stop offset=".997" stop-color="#606060"/></linearGradient>
<linearGradient id="hab19" href="#habT"><stop offset=".003" stop-color="#4f4f4f"/><stop offset=".234" stop-color="#3c3c3c"/><stop offset=".339" stop-color="#353535"/><stop offset=".437" stop-color="#3a3a3a"/><stop offset=".493" stop-color="#454545"/><stop offset=".549" stop-color="#585858"/><stop offset=".668" stop-color="#5e5e5e"/><stop offset=".78" stop-color="#4c4c4c"/><stop offset=".85" stop-color="#494949"/><stop offset=".934" stop-color="#595959"/><stop offset=".997" stop-color="#5f5f5f"/></linearGradient>
<linearGradient id="hab20" href="#habT"><stop offset=".003" stop-color="#4f4f4f"/><stop offset=".227" stop-color="#3c3c3c"/><stop offset=".332" stop-color="#333"/><stop offset=".437" stop-color="#383838"/><stop offset=".493" stop-color="#434343"/><stop offset=".549" stop-color="#555"/><stop offset=".668" stop-color="#5b5b5b"/><stop offset=".78" stop-color="#4a4a4a"/><stop offset=".85" stop-color="#484848"/><stop offset=".934" stop-color="#585858"/><stop offset=".997" stop-color="#5e5e5e"/></linearGradient>
<linearGradient id="hab21" href="#habT"><stop offset=".003" stop-color="#4f4f4f"/><stop offset=".22" stop-color="#3d3d3d"/><stop offset=".332" stop-color="#333"/><stop offset=".437" stop-color="#383838"/><stop offset=".493" stop-color="#424242"/><stop offset=".549" stop-color="#555"/><stop offset=".668" stop-color="#5a5a5a"/><stop offset=".78" stop-color="#494949"/><stop offset=".85" stop-color="#474747"/><stop offset=".934" stop-color="#585858"/><stop offset=".997" stop-color="#5e5e5e"/></linearGradient>
<linearGradient id="hab22" href="#habT"><stop offset=".003" stop-color="#4f4f4f"/><stop offset=".22" stop-color="#3d3d3d"/><stop offset=".332" stop-color="#333"/><stop offset=".437" stop-color="#383838"/><stop offset=".493" stop-color="#424242"/><stop offset=".549" stop-color="#555"/><stop offset=".668" stop-color="#5a5a5a"/><stop offset=".78" stop-color="#494949"/><stop offset=".85" stop-color="#474747"/><stop offset=".934" stop-color="#585858"/><stop offset=".997" stop-color="#5e5e5e"/></linearGradient>
<filter id="haFb" filterUnits="userSpaceOnUse" x="105" y="130.9" width="583" height="57.1" color-interpolation-filters="sRGB"><feGaussianBlur in="SourceGraphic" stdDeviation="0.6 0.75" result="b"/><feTurbulence type="fractalNoise" baseFrequency="0.075 0.018" numOctaves="2" seed="4" result="n"/><feColorMatrix in="n" type="matrix" values="1 0 0 0 0 1 0 0 0 0 1 0 0 0 0 0 0 0 0 1" result="m"/><feComposite in="b" in2="m" operator="arithmetic" k1="0" k2="1" k3="0.1" k4="-0.05" result="s"/><feComponentTransfer in="s"><feFuncR type="table" tableValues="0 0 0 0 .5 1 1 1 .5"/><feFuncG type="table" tableValues="0 0 .5 1 1 1 .5 0 0"/><feFuncB type="table" tableValues=".5 1 1 1 .5 0 0 0 0"/></feComponentTransfer></filter>
<clipPath id="haCb"><rect x="111" y="142.9" width="571" height="33.1"/></clipPath>
<linearGradient id="hbaT" gradientUnits="userSpaceOnUse" x1="111.6" x2="682.6" y1="0" y2="0"/>
<linearGradient id="hba0" href="#hbaT"><stop offset=".003" stop-color="#5f5f5f"/><stop offset=".136" stop-color="#6a6a6a"/><stop offset=".423" stop-color="#6b6b6b"/><stop offset=".514" stop-color="#676767"/><stop offset=".584" stop-color="#5b5b5b"/><stop offset=".724" stop-color="#595959"/><stop offset=".843" stop-color="#666"/><stop offset=".983" stop-color="#656565"/><stop offset=".997" stop-color="#636363"/></linearGradient>
<linearGradient id="hba1" href="#hbaT"><stop offset=".003" stop-color="#626262"/><stop offset=".108" stop-color="#6e6e6e"/><stop offset=".367" stop-color="#717171"/><stop offset=".507" stop-color="#6d6d6d"/><stop offset=".577" stop-color="#5e5e5e"/><stop offset=".724" stop-color="#5c5c5c"/><stop offset=".836" stop-color="#686868"/><stop offset=".857" stop-color="#6e6e6e"/><stop offset=".892" stop-color="#6b6b6b"/><stop offset=".976" stop-color="#6c6c6c"/><stop offset=".997" stop-color="#676767"/></linearGradient>
<linearGradient id="hba2" href="#hbaT"><stop offset=".003" stop-color="#656565"/><stop offset=".066" stop-color="#6f6f6f"/><stop offset=".339" stop-color="#767676"/><stop offset=".36" stop-color="#777"/><stop offset=".5" stop-color="#737373"/><stop offset=".57" stop-color="#616161"/><stop offset=".724" stop-color="#5f5f5f"/><stop offset=".829" stop-color="#696969"/><stop offset=".85" stop-color="#757575"/><stop offset=".878" stop-color="#6d6d6d"/><stop offset=".962" stop-color="#707070"/><stop offset=".976" stop-color="#717171"/><stop offset=".997" stop-color="#6a6a6a"/></linearGradient>
<linearGradient id="hba3" href="#hbaT"><stop offset=".003" stop-color="#676767"/><stop offset=".045" stop-color="#6f6f6f"/><stop offset=".059" stop-color="#747474"/><stop offset=".087" stop-color="#747474"/><stop offset=".318" stop-color="#777"/><stop offset=".339" stop-color="#7a7a7a"/><stop offset=".353" stop-color="#7e7e7e"/><stop offset=".381" stop-color="#787878"/><stop offset=".423" stop-color="#777"/><stop offset=".486" stop-color="#787878"/><stop offset=".577" stop-color="#636363"/><stop offset=".724" stop-color="#616161"/><stop offset=".829" stop-color="#6b6b6b"/><stop offset=".85" stop-color="#7c7c7c"/><stop offset=".878" stop-color="#6f6f6f"/><stop offset=".962" stop-color="#747474"/><stop offset=".969" stop-color="#787878"/><stop offset=".997" stop-color="#6b6b6b"/></linearGradient>
<linearGradient id="hba4" href="#hbaT"><stop offset=".003" stop-color="#686868"/><stop offset=".045" stop-color="#727272"/><stop offset=".059" stop-color="#797979"/><stop offset=".08" stop-color="#767676"/><stop offset=".108" stop-color="#797979"/><stop offset=".311" stop-color="#7c7c7c"/><stop offset=".332" stop-color="#7b7b7b"/><stop offset=".353" stop-color="#858585"/><stop offset=".374" stop-color="#7c7c7c"/><stop offset=".402" stop-color="#808080"/><stop offset=".437" stop-color="#797979"/><stop offset=".479" stop-color="#7e7e7e"/><stop offset=".507" stop-color="#787878"/><stop offset=".563" stop-color="#656565"/><stop offset=".717" stop-color="#616161"/><stop offset=".752" stop-color="#666"/><stop offset=".829" stop-color="#6d6d6d"/><stop offset=".85" stop-color="#828282"/><stop offset=".878" stop-color="#717171"/><stop offset=".934" stop-color="#747474"/><stop offset=".948" stop-color="#777"/><stop offset=".962" stop-color="#797979"/><stop offset=".969" stop-color="#7e7e7e"/><stop offset=".99" stop-color="#6e6e6e"/><stop offset=".997" stop-color="#6d6d6d"/></linearGradient>
<linearGradient id="hba5" href="#hbaT"><stop offset=".003" stop-color="#696969"/><stop offset=".045" stop-color="#747474"/><stop offset=".059" stop-color="#7e7e7e"/><stop offset=".08" stop-color="#7a7a7a"/><stop offset=".094" stop-color="#808080"/><stop offset=".15" stop-color="#7d7d7d"/><stop offset=".29" stop-color="#818181"/><stop offset=".311" stop-color="#818181"/><stop offset=".332" stop-color="#7e7e7e"/><stop offset=".346" stop-color="#8c8c8c"/><stop offset=".353" stop-color="#8d8d8d"/><stop offset=".374" stop-color="#818181"/><stop offset=".402" stop-color="#868686"/><stop offset=".437" stop-color="#7c7c7c"/><stop offset=".472" stop-color="#878787"/><stop offset=".507" stop-color="#7c7c7c"/><stop offset=".549" stop-color="#696969"/><stop offset=".71" stop-color="#616161"/><stop offset=".745" stop-color="#6a6a6a"/><stop offset=".794" stop-color="#696969"/><stop offset=".829" stop-color="#6f6f6f"/><stop offset=".85" stop-color="#888"/><stop offset=".871" stop-color="#747474"/><stop offset=".927" stop-color="#747474"/><stop offset=".941" stop-color="#7d7d7d"/><stop offset=".955" stop-color="#797979"/><stop offset=".969" stop-color="#848484"/><stop offset=".976" stop-color="#808080"/><stop offset=".99" stop-color="#6f6f6f"/><stop offset=".997" stop-color="#6e6e6e"/></linearGradient>
<linearGradient id="hba6" href="#hbaT"><stop offset=".003" stop-color="#6a6a6a"/><stop offset=".038" stop-color="#727272"/><stop offset=".052" stop-color="#808080"/><stop offset=".059" stop-color="#828282"/><stop offset=".073" stop-color="#7b7b7b"/><stop offset=".094" stop-color="#878787"/><stop offset=".115" stop-color="#7f7f7f"/><stop offset=".185" stop-color="#818181"/><stop offset=".262" stop-color="#818181"/><stop offset=".29" stop-color="#868686"/><stop offset=".304" stop-color="#8b8b8b"/><stop offset=".325" stop-color="#808080"/><stop offset=".332" stop-color="#818181"/><stop offset=".346" stop-color="#949494"/><stop offset=".353" stop-color="#969696"/><stop offset=".374" stop-color="#888"/><stop offset=".402" stop-color="#8e8e8e"/><stop offset=".43" stop-color="#818181"/><stop offset=".444" stop-color="#858585"/><stop offset=".472" stop-color="#8f8f8f"/><stop offset=".5" stop-color="#878787"/><stop offset=".528" stop-color="#717171"/><stop offset=".577" stop-color="#656565"/><stop offset=".717" stop-color="#636363"/><stop offset=".745" stop-color="#6c6c6c"/><stop offset=".78" stop-color="#686868"/><stop offset=".829" stop-color="#707070"/><stop offset=".85" stop-color="#8d8d8d"/><stop offset=".871" stop-color="#767676"/><stop offset=".927" stop-color="#757575"/><stop offset=".941" stop-color="#838383"/><stop offset=".955" stop-color="#7d7d7d"/><stop offset=".969" stop-color="#8a8a8a"/><stop offset=".976" stop-color="#848484"/><stop offset=".983" stop-color="#777"/><stop offset=".997" stop-color="#6f6f6f"/></linearGradient>
<linearGradient id="hba7" href="#hbaT"><stop offset=".003" stop-color="#6b6b6b"/><stop offset=".038" stop-color="#737373"/><stop offset=".052" stop-color="#848484"/><stop offset=".059" stop-color="#868686"/><stop offset=".073" stop-color="#7f7f7f"/><stop offset=".094" stop-color="#909090"/><stop offset=".115" stop-color="#838383"/><stop offset=".178" stop-color="#868686"/><stop offset=".234" stop-color="#878787"/><stop offset=".255" stop-color="#888"/><stop offset=".283" stop-color="#868686"/><stop offset=".297" stop-color="#929292"/><stop offset=".304" stop-color="#939393"/><stop offset=".325" stop-color="#858585"/><stop offset=".332" stop-color="#858585"/><stop offset=".346" stop-color="#9e9e9e"/><stop offset=".353" stop-color="#a1a1a1"/><stop offset=".367" stop-color="#929292"/><stop offset=".381" stop-color="#8f8f8f"/><stop offset=".395" stop-color="#999"/><stop offset=".402" stop-color="#989898"/><stop offset=".43" stop-color="#858585"/><stop offset=".437" stop-color="#858585"/><stop offset=".451" stop-color="#929292"/><stop offset=".472" stop-color="#9a9a9a"/><stop offset=".486" stop-color="#909090"/><stop offset=".5" stop-color="#909090"/><stop offset=".521" stop-color="#767676"/><stop offset=".57" stop-color="#666"/><stop offset=".717" stop-color="#646464"/><stop offset=".745" stop-color="#6e6e6e"/><stop offset=".773" stop-color="#686868"/><stop offset=".829" stop-color="#717171"/><stop offset=".85" stop-color="#8f8f8f"/><stop offset=".857" stop-color="#8a8a8a"/><stop offset=".871" stop-color="#777"/><stop offset=".927" stop-color="#777"/><stop offset=".941" stop-color="#898989"/><stop offset=".948" stop-color="#898989"/><stop offset=".955" stop-color="#808080"/><stop offset=".969" stop-color="#8e8e8e"/><stop offset=".976" stop-color="#878787"/><stop offset=".983" stop-color="#787878"/><stop offset=".997" stop-color="#6f6f6f"/></linearGradient>
<linearGradient id="hba8" href="#hbaT"><stop offset=".003" stop-color="#6b6b6b"/><stop offset=".038" stop-color="#757575"/><stop offset=".052" stop-color="#878787"/><stop offset=".059" stop-color="#8a8a8a"/><stop offset=".073" stop-color="#838383"/><stop offset=".094" stop-color="#989898"/><stop offset=".108" stop-color="#898989"/><stop offset=".157" stop-color="#8b8b8b"/><stop offset=".171" stop-color="#8e8e8e"/><stop offset=".206" stop-color="#898989"/><stop offset=".234" stop-color="#8c8c8c"/><stop offset=".248" stop-color="#919191"/><stop offset=".276" stop-color="#888"/><stop offset=".29" stop-color="#939393"/><stop offset=".297" stop-color="#9c9c9c"/><stop offset=".304" stop-color="#9e9e9e"/><stop offset=".318" stop-color="#8d8d8d"/><stop offset=".332" stop-color="#8a8a8a"/><stop offset=".346" stop-color="#a9a9a9"/><stop offset=".353" stop-color="#acacac"/><stop offset=".367" stop-color="#9c9c9c"/><stop offset=".381" stop-color="#989898"/><stop offset=".395" stop-color="#a5a5a5"/><stop offset=".402" stop-color="#a4a4a4"/><stop offset=".416" stop-color="#949494"/><stop offset=".437" stop-color="#8a8a8a"/><stop offset=".451" stop-color="#9c9c9c"/><stop offset=".472" stop-color="#a5a5a5"/><stop offset=".486" stop-color="#9a9a9a"/><stop offset=".5" stop-color="#9a9a9a"/><stop offset=".521" stop-color="#787878"/><stop offset=".563" stop-color="#676767"/><stop offset=".717" stop-color="#646464"/><stop offset=".738" stop-color="#707070"/><stop offset=".773" stop-color="#696969"/><stop offset=".829" stop-color="#727272"/><stop offset=".85" stop-color="#909090"/><stop offset=".857" stop-color="#8b8b8b"/><stop offset=".871" stop-color="#797979"/><stop offset=".927" stop-color="#787878"/><stop offset=".941" stop-color="#8f8f8f"/><stop offset=".948" stop-color="#8e8e8e"/><stop offset=".955" stop-color="#848484"/><stop offset=".962" stop-color="#868686"/><stop offset=".969" stop-color="#909090"/><stop offset=".976" stop-color="#898989"/><stop offset=".983" stop-color="#797979"/><stop offset=".997" stop-color="#707070"/></linearGradient>
<linearGradient id="hba9" href="#hbaT"><stop offset=".003" stop-color="#6c6c6c"/><stop offset=".038" stop-color="#767676"/><stop offset=".052" stop-color="#898989"/><stop offset=".059" stop-color="#8c8c8c"/><stop offset=".073" stop-color="#878787"/><stop offset=".094" stop-color="#a0a0a0"/><stop offset=".108" stop-color="#8e8e8e"/><stop offset=".129" stop-color="#8e8e8e"/><stop offset=".157" stop-color="#909090"/><stop offset=".171" stop-color="#949494"/><stop offset=".192" stop-color="#8e8e8e"/><stop offset=".227" stop-color="#8e8e8e"/><stop offset=".248" stop-color="#999"/><stop offset=".269" stop-color="#8b8b8b"/><stop offset=".283" stop-color="#909090"/><stop offset=".297" stop-color="#a8a8a8"/><stop offset=".304" stop-color="#aaa"/><stop offset=".318" stop-color="#959595"/><stop offset=".332" stop-color="#8f8f8f"/><stop offset=".339" stop-color="#9d9d9d"/><stop offset=".346" stop-color="#b3b3b3"/><stop offset=".353" stop-color="#b8b8b8"/><stop offset=".367" stop-color="#a7a7a7"/><stop offset=".381" stop-color="#a2a2a2"/><stop offset=".395" stop-color="#b2b2b2"/><stop offset=".402" stop-color="#b0b0b0"/><stop offset=".416" stop-color="#9e9e9e"/><stop offset=".437" stop-color="#909090"/><stop offset=".451" stop-color="#a8a8a8"/><stop offset=".465" stop-color="#acacac"/><stop offset=".472" stop-color="#b2b2b2"/><stop offset=".486" stop-color="#a4a4a4"/><stop offset=".5" stop-color="#a5a5a5"/><stop offset=".514" stop-color="#848484"/><stop offset=".528" stop-color="#747474"/><stop offset=".57" stop-color="#666"/><stop offset=".717" stop-color="#646464"/><stop offset=".738" stop-color="#717171"/><stop offset=".773" stop-color="#696969"/><stop offset=".829" stop-color="#727272"/><stop offset=".85" stop-color="#8e8e8e"/><stop offset=".871" stop-color="#7a7a7a"/><stop offset=".927" stop-color="#7a7a7a"/><stop offset=".941" stop-color="#939393"/><stop offset=".948" stop-color="#939393"/><stop offset=".955" stop-color="#868686"/><stop offset=".962" stop-color="#878787"/><stop offset=".969" stop-color="#909090"/><stop offset=".976" stop-color="#898989"/><stop offset=".983" stop-color="#7a7a7a"/><stop offset=".997" stop-color="#707070"/></linearGradient>
<linearGradient id="hba10" href="#hbaT"><stop offset=".003" stop-color="#6c6c6c"/><stop offset=".038" stop-color="#787878"/><stop offset=".052" stop-color="#8a8a8a"/><stop offset=".059" stop-color="#8e8e8e"/><stop offset=".073" stop-color="#8b8b8b"/><stop offset=".094" stop-color="#a4a4a4"/><stop offset=".108" stop-color="#939393"/><stop offset=".122" stop-color="#909090"/><stop offset=".136" stop-color="#979797"/><stop offset=".15" stop-color="#919191"/><stop offset=".171" stop-color="#9b9b9b"/><stop offset=".185" stop-color="#929292"/><stop offset=".227" stop-color="#939393"/><stop offset=".241" stop-color="#a0a0a0"/><stop offset=".248" stop-color="#a1a1a1"/><stop offset=".269" stop-color="#8f8f8f"/><stop offset=".283" stop-color="#959595"/><stop offset=".297" stop-color="#b5b5b5"/><stop offset=".304" stop-color="#b7b7b7"/><stop offset=".318" stop-color="#9e9e9e"/><stop offset=".332" stop-color="#959595"/><stop offset=".339" stop-color="#a4a4a4"/><stop offset=".346" stop-color="#bebebe"/><stop offset=".353" stop-color="#c4c4c4"/><stop offset=".367" stop-color="#b3b3b3"/><stop offset=".381" stop-color="#aeaeae"/><stop offset=".395" stop-color="#bfbfbf"/><stop offset=".402" stop-color="#bdbdbd"/><stop offset=".409" stop-color="#b0b0b0"/><stop offset=".423" stop-color="#a7a7a7"/><stop offset=".43" stop-color="#9b9b9b"/><stop offset=".437" stop-color="#979797"/><stop offset=".451" stop-color="#b4b4b4"/><stop offset=".465" stop-color="#b8b8b8"/><stop offset=".472" stop-color="#bebebe"/><stop offset=".486" stop-color="#b0b0b0"/><stop offset=".5" stop-color="#b1b1b1"/><stop offset=".514" stop-color="#898989"/><stop offset=".521" stop-color="#7b7b7b"/><stop offset=".556" stop-color="#686868"/><stop offset=".703" stop-color="#626262"/><stop offset=".724" stop-color="#686868"/><stop offset=".738" stop-color="#727272"/><stop offset=".773" stop-color="#696969"/><stop offset=".829" stop-color="#727272"/><stop offset=".85" stop-color="#8b8b8b"/><stop offset=".871" stop-color="#7a7a7a"/><stop offset=".927" stop-color="#7b7b7b"/><stop offset=".941" stop-color="#969696"/><stop offset=".948" stop-color="#959595"/><stop offset=".955" stop-color="#878787"/><stop offset=".962" stop-color="#868686"/><stop offset=".969" stop-color="#8d8d8d"/><stop offset=".976" stop-color="#878787"/><stop offset=".983" stop-color="#797979"/><stop offset=".997" stop-color="#707070"/></linearGradient>
<linearGradient id="hba11" href="#hbaT"><stop offset=".003" stop-color="#6d6d6d"/><stop offset=".038" stop-color="#797979"/><stop offset=".052" stop-color="#8b8b8b"/><stop offset=".059" stop-color="#8f8f8f"/><stop offset=".073" stop-color="#8f8f8f"/><stop offset=".094" stop-color="#a6a6a6"/><stop offset=".115" stop-color="#949494"/><stop offset=".136" stop-color="#9e9e9e"/><stop offset=".15" stop-color="#969696"/><stop offset=".164" stop-color="#a0a0a0"/><stop offset=".171" stop-color="#a0a0a0"/><stop offset=".185" stop-color="#969696"/><stop offset=".22" stop-color="#959595"/><stop offset=".241" stop-color="#a7a7a7"/><stop offset=".248" stop-color="#a9a9a9"/><stop offset=".262" stop-color="#979797"/><stop offset=".276" stop-color="#929292"/><stop offset=".283" stop-color="#9a9a9a"/><stop offset=".297" stop-color="#c1c1c1"/><stop offset=".304" stop-color="#c4c4c4"/><stop offset=".318" stop-color="#a7a7a7"/><stop offset=".325" stop-color="#a4a4a4"/><stop offset=".332" stop-color="#9b9b9b"/><stop offset=".339" stop-color="#ababab"/><stop offset=".346" stop-color="#c7c7c7"/><stop offset=".353" stop-color="#cecece"/><stop offset=".367" stop-color="#bfbfbf"/><stop offset=".381" stop-color="#b9b9b9"/><stop offset=".395" stop-color="#cbcbcb"/><stop offset=".402" stop-color="#c9c9c9"/><stop offset=".409" stop-color="#bbb"/><stop offset=".423" stop-color="#b3b3b3"/><stop offset=".43" stop-color="#a4a4a4"/><stop offset=".437" stop-color="#9e9e9e"/><stop offset=".451" stop-color="#c0c0c0"/><stop offset=".458" stop-color="#bebebe"/><stop offset=".472" stop-color="#c9c9c9"/><stop offset=".486" stop-color="#bababa"/><stop offset=".5" stop-color="#bdbdbd"/><stop offset=".507" stop-color="#a8a8a8"/><stop offset=".514" stop-color="#8d8d8d"/><stop offset=".521" stop-color="#7d7d7d"/><stop offset=".549" stop-color="#6b6b6b"/><stop offset=".633" stop-color="#626262"/><stop offset=".717" stop-color="#646464"/><stop offset=".738" stop-color="#727272"/><stop offset=".773" stop-color="#696969"/><stop offset=".829" stop-color="#727272"/><stop offset=".85" stop-color="#878787"/><stop offset=".878" stop-color="#7b7b7b"/><stop offset=".927" stop-color="#7c7c7c"/><stop offset=".941" stop-color="#969696"/><stop offset=".948" stop-color="#969696"/><stop offset=".955" stop-color="#878787"/><stop offset=".962" stop-color="#848484"/><stop offset=".969" stop-color="#898989"/><stop offset=".976" stop-color="#848484"/><stop offset=".99" stop-color="#727272"/><stop offset=".997" stop-color="#707070"/></linearGradient>
<linearGradient id="hba12" href="#hbaT"><stop offset=".003" stop-color="#6d6d6d"/><stop offset=".038" stop-color="#7a7a7a"/><stop offset=".059" stop-color="#8f8f8f"/><stop offset=".073" stop-color="#939393"/><stop offset=".094" stop-color="#a6a6a6"/><stop offset=".115" stop-color="#989898"/><stop offset=".122" stop-color="#989898"/><stop offset=".136" stop-color="#a4a4a4"/><stop offset=".15" stop-color="#999"/><stop offset=".164" stop-color="#a5a5a5"/><stop offset=".171" stop-color="#a5a5a5"/><stop offset=".185" stop-color="#9a9a9a"/><stop offset=".199" stop-color="#9d9d9d"/><stop offset=".22" stop-color="#999"/><stop offset=".241" stop-color="#aeaeae"/><stop offset=".248" stop-color="#b0b0b0"/><stop offset=".262" stop-color="#9a9a9a"/><stop offset=".276" stop-color="#959595"/><stop offset=".283" stop-color="#9e9e9e"/><stop offset=".297" stop-color="#ccc"/><stop offset=".304" stop-color="#cfcfcf"/><stop offset=".311" stop-color="#bdbdbd"/><stop offset=".318" stop-color="#b1b1b1"/><stop offset=".325" stop-color="#afafaf"/><stop offset=".332" stop-color="#a1a1a1"/><stop offset=".339" stop-color="#b1b1b1"/><stop offset=".346" stop-color="#cfcfcf"/><stop offset=".353" stop-color="#d6d6d6"/><stop offset=".367" stop-color="#cbcbcb"/><stop offset=".381" stop-color="#c4c4c4"/><stop offset=".388" stop-color="#cacaca"/><stop offset=".395" stop-color="#d6d6d6"/><stop offset=".402" stop-color="#d3d3d3"/><stop offset=".409" stop-color="#c5c5c5"/><stop offset=".423" stop-color="#bfbfbf"/><stop offset=".43" stop-color="#aeaeae"/><stop offset=".437" stop-color="#a5a5a5"/><stop offset=".451" stop-color="#cbcbcb"/><stop offset=".458" stop-color="#c8c8c8"/><stop offset=".472" stop-color="#d3d3d3"/><stop offset=".486" stop-color="#c5c5c5"/><stop offset=".5" stop-color="#c7c7c7"/><stop offset=".507" stop-color="#b1b1b1"/><stop offset=".514" stop-color="#929292"/><stop offset=".521" stop-color="#7e7e7e"/><stop offset=".542" stop-color="#6e6e6e"/><stop offset=".584" stop-color="#646464"/><stop offset=".717" stop-color="#646464"/><stop offset=".738" stop-color="#717171"/><stop offset=".773" stop-color="#696969"/><stop offset=".829" stop-color="#727272"/><stop offset=".85" stop-color="#838383"/><stop offset=".878" stop-color="#7c7c7c"/><stop offset=".927" stop-color="#7d7d7d"/><stop offset=".941" stop-color="#959595"/><stop offset=".948" stop-color="#949494"/><stop offset=".955" stop-color="#858585"/><stop offset=".962" stop-color="#818181"/><stop offset=".969" stop-color="#858585"/><stop offset=".99" stop-color="#737373"/><stop offset=".997" stop-color="#717171"/></linearGradient>
<linearGradient id="hba13" href="#hbaT"><stop offset=".003" stop-color="#6d6d6d"/><stop offset=".038" stop-color="#7b7b7b"/><stop offset=".059" stop-color="#8e8e8e"/><stop offset=".066" stop-color="#8f8f8f"/><stop offset=".08" stop-color="#a1a1a1"/><stop offset=".101" stop-color="#a4a4a4"/><stop offset=".122" stop-color="#9a9a9a"/><stop offset=".136" stop-color="#a9a9a9"/><stop offset=".15" stop-color="#9c9c9c"/><stop offset=".164" stop-color="#aaa"/><stop offset=".171" stop-color="#aaa"/><stop offset=".185" stop-color="#9d9d9d"/><stop offset=".199" stop-color="#a1a1a1"/><stop offset=".213" stop-color="#9b9b9b"/><stop offset=".234" stop-color="#a9a9a9"/><stop offset=".241" stop-color="#b2b2b2"/><stop offset=".248" stop-color="#b5b5b5"/><stop offset=".262" stop-color="#9e9e9e"/><stop offset=".269" stop-color="#989898"/><stop offset=".276" stop-color="#989898"/><stop offset=".283" stop-color="#a2a2a2"/><stop offset=".297" stop-color="#d6d6d6"/><stop offset=".304" stop-color="#d9d9d9"/><stop offset=".311" stop-color="#c5c5c5"/><stop offset=".318" stop-color="#bababa"/><stop offset=".325" stop-color="#b8b8b8"/><stop offset=".332" stop-color="#a6a6a6"/><stop offset=".339" stop-color="#b5b5b5"/><stop offset=".346" stop-color="#d4d4d4"/><stop offset=".353" stop-color="#dcdcdc"/><stop offset=".367" stop-color="#d3d3d3"/><stop offset=".381" stop-color="#cdcdcd"/><stop offset=".395" stop-color="#e0e0e0"/><stop offset=".402" stop-color="#dcdcdc"/><stop offset=".409" stop-color="#cecece"/><stop offset=".423" stop-color="#c9c9c9"/><stop offset=".43" stop-color="#b6b6b6"/><stop offset=".437" stop-color="#ababab"/><stop offset=".451" stop-color="#d3d3d3"/><stop offset=".458" stop-color="#cfcfcf"/><stop offset=".472" stop-color="#dbdbdb"/><stop offset=".486" stop-color="#cdcdcd"/><stop offset=".5" stop-color="#d0d0d0"/><stop offset=".507" stop-color="#b7b7b7"/><stop offset=".514" stop-color="#959595"/><stop offset=".521" stop-color="#7f7f7f"/><stop offset=".535" stop-color="#717171"/><stop offset=".577" stop-color="#646464"/><stop offset=".71" stop-color="#626262"/><stop offset=".745" stop-color="#707070"/><stop offset=".773" stop-color="#696969"/><stop offset=".829" stop-color="#727272"/><stop offset=".85" stop-color="#808080"/><stop offset=".927" stop-color="#7d7d7d"/><stop offset=".941" stop-color="#919191"/><stop offset=".948" stop-color="#909090"/><stop offset=".955" stop-color="#838383"/><stop offset=".962" stop-color="#7e7e7e"/><stop offset=".976" stop-color="#7f7f7f"/><stop offset=".997" stop-color="#717171"/></linearGradient>
<linearGradient id="hba14" href="#hbaT"><stop offset=".003" stop-color="#6d6d6d"/><stop offset=".038" stop-color="#7b7b7b"/><stop offset=".066" stop-color="#909090"/><stop offset=".08" stop-color="#a4a4a4"/><stop offset=".108" stop-color="#a4a4a4"/><stop offset=".122" stop-color="#9c9c9c"/><stop offset=".136" stop-color="#acacac"/><stop offset=".15" stop-color="#9e9e9e"/><stop offset=".164" stop-color="#afafaf"/><stop offset=".171" stop-color="#afafaf"/><stop offset=".185" stop-color="#a0a0a0"/><stop offset=".199" stop-color="#a4a4a4"/><stop offset=".213" stop-color="#9d9d9d"/><stop offset=".248" stop-color="#b9b9b9"/><stop offset=".262" stop-color="#a1a1a1"/><stop offset=".269" stop-color="#999"/><stop offset=".276" stop-color="#9a9a9a"/><stop offset=".283" stop-color="#a5a5a5"/><stop offset=".297" stop-color="#dcdcdc"/><stop offset=".304" stop-color="#dfdfdf"/><stop offset=".311" stop-color="#cbcbcb"/><stop offset=".318" stop-color="#c1c1c1"/><stop offset=".325" stop-color="#c0c0c0"/><stop offset=".332" stop-color="#aaa"/><stop offset=".339" stop-color="#b8b8b8"/><stop offset=".346" stop-color="#d8d8d8"/><stop offset=".353" stop-color="#e0e0e0"/><stop offset=".36" stop-color="#dadada"/><stop offset=".374" stop-color="#dadada"/><stop offset=".381" stop-color="#d4d4d4"/><stop offset=".395" stop-color="#e8e8e8"/><stop offset=".402" stop-color="#e2e2e2"/><stop offset=".409" stop-color="#d4d4d4"/><stop offset=".423" stop-color="#d1d1d1"/><stop offset=".43" stop-color="#bdbdbd"/><stop offset=".437" stop-color="#b0b0b0"/><stop offset=".451" stop-color="#d8d8d8"/><stop offset=".458" stop-color="#d4d4d4"/><stop offset=".472" stop-color="#e0e0e0"/><stop offset=".486" stop-color="#d4d4d4"/><stop offset=".5" stop-color="#d5d5d5"/><stop offset=".507" stop-color="#bcbcbc"/><stop offset=".514" stop-color="#989898"/><stop offset=".521" stop-color="#808080"/><stop offset=".535" stop-color="#727272"/><stop offset=".57" stop-color="#646464"/><stop offset=".703" stop-color="#616161"/><stop offset=".745" stop-color="#6e6e6e"/><stop offset=".773" stop-color="#696969"/><stop offset=".836" stop-color="#767676"/><stop offset=".857" stop-color="#7e7e7e"/><stop offset=".927" stop-color="#7d7d7d"/><stop offset=".941" stop-color="#8c8c8c"/><stop offset=".948" stop-color="#8b8b8b"/><stop offset=".955" stop-color="#808080"/><stop offset=".962" stop-color="#7c7c7c"/><stop offset=".983" stop-color="#818181"/><stop offset=".997" stop-color="#737373"/></linearGradient>
<linearGradient id="hba15" href="#hbaT"><stop offset=".003" stop-color="#6d6d6d"/><stop offset=".038" stop-color="#7c7c7c"/><stop offset=".066" stop-color="#909090"/><stop offset=".08" stop-color="#a4a4a4"/><stop offset=".094" stop-color="#9f9f9f"/><stop offset=".108" stop-color="#a6a6a6"/><stop offset=".122" stop-color="#9d9d9d"/><stop offset=".136" stop-color="#aeaeae"/><stop offset=".15" stop-color="#9f9f9f"/><stop offset=".157" stop-color="#a6a6a6"/><stop offset=".164" stop-color="#b4b4b4"/><stop offset=".171" stop-color="#b4b4b4"/><stop offset=".178" stop-color="#a7a7a7"/><stop offset=".185" stop-color="#a0a0a0"/><stop offset=".199" stop-color="#a6a6a6"/><stop offset=".213" stop-color="#a0a0a0"/><stop offset=".248" stop-color="#bbb"/><stop offset=".255" stop-color="#b4b4b4"/><stop offset=".262" stop-color="#a3a3a3"/><stop offset=".269" stop-color="#9a9a9a"/><stop offset=".276" stop-color="#9a9a9a"/><stop offset=".283" stop-color="#a6a6a6"/><stop offset=".297" stop-color="#e0e0e0"/><stop offset=".304" stop-color="#e3e3e3"/><stop offset=".311" stop-color="#cfcfcf"/><stop offset=".318" stop-color="#c4c4c4"/><stop offset=".325" stop-color="#c4c4c4"/><stop offset=".332" stop-color="#acacac"/><stop offset=".339" stop-color="#b9b9b9"/><stop offset=".346" stop-color="#d9d9d9"/><stop offset=".353" stop-color="#e1e1e1"/><stop offset=".36" stop-color="#dcdcdc"/><stop offset=".374" stop-color="#dedede"/><stop offset=".381" stop-color="#d8d8d8"/><stop offset=".395" stop-color="#ededed"/><stop offset=".402" stop-color="#e6e6e6"/><stop offset=".409" stop-color="#d7d7d7"/><stop offset=".423" stop-color="#d7d7d7"/><stop offset=".437" stop-color="#b3b3b3"/><stop offset=".451" stop-color="#dadada"/><stop offset=".458" stop-color="#d6d6d6"/><stop offset=".472" stop-color="#e3e3e3"/><stop offset=".486" stop-color="#d8d8d8"/><stop offset=".5" stop-color="#d7d7d7"/><stop offset=".507" stop-color="#bebebe"/><stop offset=".514" stop-color="#999"/><stop offset=".521" stop-color="#818181"/><stop offset=".535" stop-color="#717171"/><stop offset=".57" stop-color="#646464"/><stop offset=".696" stop-color="#606060"/><stop offset=".731" stop-color="#696969"/><stop offset=".752" stop-color="#6b6b6b"/><stop offset=".815" stop-color="#6f6f6f"/><stop offset=".871" stop-color="#7e7e7e"/><stop offset=".913" stop-color="#7f7f7f"/><stop offset=".927" stop-color="#7d7d7d"/><stop offset=".941" stop-color="#888"/><stop offset=".948" stop-color="#868686"/><stop offset=".962" stop-color="#797979"/><stop offset=".969" stop-color="#7c7c7c"/><stop offset=".983" stop-color="#8f8f8f"/><stop offset=".99" stop-color="#868686"/><stop offset=".997" stop-color="#767676"/></linearGradient>
<linearGradient id="hba16" href="#hbaT"><stop offset=".003" stop-color="#6d6d6d"/><stop offset=".045" stop-color="#808080"/><stop offset=".066" stop-color="#8f8f8f"/><stop offset=".08" stop-color="#a3a3a3"/><stop offset=".094" stop-color="#9d9d9d"/><stop offset=".108" stop-color="#a6a6a6"/><stop offset=".122" stop-color="#9c9c9c"/><stop offset=".136" stop-color="#acacac"/><stop offset=".15" stop-color="#9e9e9e"/><stop offset=".157" stop-color="#a7a7a7"/><stop offset=".164" stop-color="#b7b7b7"/><stop offset=".171" stop-color="#b8b8b8"/><stop offset=".178" stop-color="#a8a8a8"/><stop offset=".185" stop-color="#a0a0a0"/><stop offset=".206" stop-color="#a5a5a5"/><stop offset=".22" stop-color="#a4a4a4"/><stop offset=".248" stop-color="#b9b9b9"/><stop offset=".255" stop-color="#b5b5b5"/><stop offset=".262" stop-color="#a3a3a3"/><stop offset=".269" stop-color="#9a9a9a"/><stop offset=".276" stop-color="#9a9a9a"/><stop offset=".283" stop-color="#a6a6a6"/><stop offset=".297" stop-color="#e0e0e0"/><stop offset=".304" stop-color="#e3e3e3"/><stop offset=".311" stop-color="#cfcfcf"/><stop offset=".318" stop-color="#c5c5c5"/><stop offset=".325" stop-color="#c4c4c4"/><stop offset=".332" stop-color="#acacac"/><stop offset=".339" stop-color="#b8b8b8"/><stop offset=".346" stop-color="#d7d7d7"/><stop offset=".353" stop-color="#e0e0e0"/><stop offset=".36" stop-color="#dcdcdc"/><stop offset=".374" stop-color="#dfdfdf"/><stop offset=".381" stop-color="#d8d8d8"/><stop offset=".395" stop-color="#ededed"/><stop offset=".402" stop-color="#e6e6e6"/><stop offset=".409" stop-color="#d8d8d8"/><stop offset=".423" stop-color="#d9d9d9"/><stop offset=".437" stop-color="#b4b4b4"/><stop offset=".451" stop-color="#dadada"/><stop offset=".458" stop-color="#d5d5d5"/><stop offset=".472" stop-color="#e2e2e2"/><stop offset=".486" stop-color="#d7d7d7"/><stop offset=".5" stop-color="#d7d7d7"/><stop offset=".507" stop-color="#bebebe"/><stop offset=".514" stop-color="#989898"/><stop offset=".521" stop-color="#808080"/><stop offset=".535" stop-color="#717171"/><stop offset=".57" stop-color="#636363"/><stop offset=".689" stop-color="#606060"/><stop offset=".745" stop-color="#6b6b6b"/><stop offset=".801" stop-color="#6d6d6d"/><stop offset=".899" stop-color="#818181"/><stop offset=".934" stop-color="#7f7f7f"/><stop offset=".948" stop-color="#828282"/><stop offset=".962" stop-color="#787878"/><stop offset=".969" stop-color="#7b7b7b"/><stop offset=".983" stop-color="#a0a0a0"/><stop offset=".99" stop-color="#939393"/><stop offset=".997" stop-color="#7a7a7a"/></linearGradient>
<linearGradient id="hba17" href="#hbaT"><stop offset=".003" stop-color="#6d6d6d"/><stop offset=".045" stop-color="#7f7f7f"/><stop offset=".066" stop-color="#8e8e8e"/><stop offset=".08" stop-color="#9f9f9f"/><stop offset=".094" stop-color="#9a9a9a"/><stop offset=".108" stop-color="#a3a3a3"/><stop offset=".122" stop-color="#9b9b9b"/><stop offset=".136" stop-color="#a9a9a9"/><stop offset=".15" stop-color="#9d9d9d"/><stop offset=".157" stop-color="#a5a5a5"/><stop offset=".164" stop-color="#b6b6b6"/><stop offset=".171" stop-color="#b6b6b6"/><stop offset=".178" stop-color="#a6a6a6"/><stop offset=".185" stop-color="#9e9e9e"/><stop offset=".206" stop-color="#ababab"/><stop offset=".22" stop-color="#a4a4a4"/><stop offset=".241" stop-color="#acacac"/><stop offset=".248" stop-color="#b4b4b4"/><stop offset=".255" stop-color="#b1b1b1"/><stop offset=".262" stop-color="#a1a1a1"/><stop offset=".269" stop-color="#989898"/><stop offset=".276" stop-color="#999"/><stop offset=".283" stop-color="#a5a5a5"/><stop offset=".297" stop-color="#ddd"/><stop offset=".304" stop-color="#e0e0e0"/><stop offset=".311" stop-color="#ccc"/><stop offset=".318" stop-color="#c2c2c2"/><stop offset=".325" stop-color="#c1c1c1"/><stop offset=".332" stop-color="#aaa"/><stop offset=".339" stop-color="#b5b5b5"/><stop offset=".346" stop-color="#d3d3d3"/><stop offset=".353" stop-color="#dcdcdc"/><stop offset=".36" stop-color="#d9d9d9"/><stop offset=".374" stop-color="#ddd"/><stop offset=".381" stop-color="#d6d6d6"/><stop offset=".395" stop-color="#e8e8e8"/><stop offset=".402" stop-color="#e3e3e3"/><stop offset=".409" stop-color="#d6d6d6"/><stop offset=".423" stop-color="#d9d9d9"/><stop offset=".437" stop-color="#b2b2b2"/><stop offset=".451" stop-color="#d6d6d6"/><stop offset=".458" stop-color="#d2d2d2"/><stop offset=".472" stop-color="#dedede"/><stop offset=".486" stop-color="#d2d2d2"/><stop offset=".5" stop-color="#d3d3d3"/><stop offset=".507" stop-color="#bbb"/><stop offset=".514" stop-color="#979797"/><stop offset=".521" stop-color="#808080"/><stop offset=".535" stop-color="#717171"/><stop offset=".57" stop-color="#636363"/><stop offset=".682" stop-color="#5f5f5f"/><stop offset=".752" stop-color="#696969"/><stop offset=".836" stop-color="#747474"/><stop offset=".899" stop-color="#818181"/><stop offset=".934" stop-color="#7e7e7e"/><stop offset=".948" stop-color="#7e7e7e"/><stop offset=".962" stop-color="#777"/><stop offset=".969" stop-color="#7a7a7a"/><stop offset=".983" stop-color="#a9a9a9"/><stop offset=".99" stop-color="#9a9a9a"/><stop offset=".997" stop-color="#7c7c7c"/></linearGradient>
<linearGradient id="hba18" href="#hbaT"><stop offset=".003" stop-color="#6d6d6d"/><stop offset=".045" stop-color="#7e7e7e"/><stop offset=".073" stop-color="#939393"/><stop offset=".08" stop-color="#9a9a9a"/><stop offset=".094" stop-color="#969696"/><stop offset=".108" stop-color="#9e9e9e"/><stop offset=".122" stop-color="#989898"/><stop offset=".136" stop-color="#a4a4a4"/><stop offset=".15" stop-color="#9a9a9a"/><stop offset=".157" stop-color="#a1a1a1"/><stop offset=".164" stop-color="#aeaeae"/><stop offset=".171" stop-color="#afafaf"/><stop offset=".178" stop-color="#a1a1a1"/><stop offset=".185" stop-color="#9b9b9b"/><stop offset=".199" stop-color="#a3a3a3"/><stop offset=".206" stop-color="#b1b1b1"/><stop offset=".213" stop-color="#b1b1b1"/><stop offset=".22" stop-color="#a3a3a3"/><stop offset=".241" stop-color="#a5a5a5"/><stop offset=".248" stop-color="#ababab"/><stop offset=".255" stop-color="#a9a9a9"/><stop offset=".269" stop-color="#969696"/><stop offset=".276" stop-color="#979797"/><stop offset=".283" stop-color="#a2a2a2"/><stop offset=".297" stop-color="#d7d7d7"/><stop offset=".304" stop-color="#dadada"/><stop offset=".311" stop-color="#c7c7c7"/><stop offset=".318" stop-color="#bcbcbc"/><stop offset=".325" stop-color="#bababa"/><stop offset=".332" stop-color="#a5a5a5"/><stop offset=".339" stop-color="#b0b0b0"/><stop offset=".346" stop-color="#cdcdcd"/><stop offset=".353" stop-color="#d6d6d6"/><stop offset=".36" stop-color="#d4d4d4"/><stop offset=".374" stop-color="#d8d8d8"/><stop offset=".381" stop-color="#d1d1d1"/><stop offset=".388" stop-color="#d4d4d4"/><stop offset=".395" stop-color="#dfdfdf"/><stop offset=".402" stop-color="#dcdcdc"/><stop offset=".409" stop-color="#d1d1d1"/><stop offset=".423" stop-color="#d6d6d6"/><stop offset=".437" stop-color="#afafaf"/><stop offset=".451" stop-color="#d0d0d0"/><stop offset=".458" stop-color="#ccc"/><stop offset=".472" stop-color="#d6d6d6"/><stop offset=".486" stop-color="#cacaca"/><stop offset=".5" stop-color="#cdcdcd"/><stop offset=".507" stop-color="#b5b5b5"/><stop offset=".514" stop-color="#949494"/><stop offset=".521" stop-color="#7f7f7f"/><stop offset=".535" stop-color="#717171"/><stop offset=".577" stop-color="#626262"/><stop offset=".696" stop-color="#5f5f5f"/><stop offset=".836" stop-color="#747474"/><stop offset=".899" stop-color="#818181"/><stop offset=".955" stop-color="#787878"/><stop offset=".969" stop-color="#797979"/><stop offset=".983" stop-color="#a4a4a4"/><stop offset=".99" stop-color="#979797"/><stop offset=".997" stop-color="#7b7b7b"/></linearGradient>
<linearGradient id="hba19" href="#hbaT"><stop offset=".003" stop-color="#6d6d6d"/><stop offset=".052" stop-color="#818181"/><stop offset=".08" stop-color="#949494"/><stop offset=".094" stop-color="#939393"/><stop offset=".108" stop-color="#989898"/><stop offset=".122" stop-color="#959595"/><stop offset=".136" stop-color="#9e9e9e"/><stop offset=".15" stop-color="#969696"/><stop offset=".164" stop-color="#a4a4a4"/><stop offset=".171" stop-color="#a4a4a4"/><stop offset=".185" stop-color="#979797"/><stop offset=".199" stop-color="#9f9f9f"/><stop offset=".206" stop-color="#b1b1b1"/><stop offset=".213" stop-color="#b2b2b2"/><stop offset=".22" stop-color="#a0a0a0"/><stop offset=".241" stop-color="#9e9e9e"/><stop offset=".255" stop-color="#9f9f9f"/><stop offset=".269" stop-color="#939393"/><stop offset=".276" stop-color="#949494"/><stop offset=".283" stop-color="#9e9e9e"/><stop offset=".297" stop-color="#cecece"/><stop offset=".304" stop-color="#d2d2d2"/><stop offset=".311" stop-color="#bfbfbf"/><stop offset=".318" stop-color="#b3b3b3"/><stop offset=".325" stop-color="#b1b1b1"/><stop offset=".332" stop-color="#a0a0a0"/><stop offset=".339" stop-color="#aaa"/><stop offset=".346" stop-color="#c5c5c5"/><stop offset=".353" stop-color="#cecece"/><stop offset=".36" stop-color="#ccc"/><stop offset=".374" stop-color="#d1d1d1"/><stop offset=".381" stop-color="#c9c9c9"/><stop offset=".388" stop-color="#cacaca"/><stop offset=".395" stop-color="#d5d5d5"/><stop offset=".402" stop-color="#d3d3d3"/><stop offset=".409" stop-color="#cacaca"/><stop offset=".423" stop-color="#d0d0d0"/><stop offset=".437" stop-color="#aaa"/><stop offset=".451" stop-color="#c7c7c7"/><stop offset=".458" stop-color="#c3c3c3"/><stop offset=".472" stop-color="#ccc"/><stop offset=".486" stop-color="#c0c0c0"/><stop offset=".5" stop-color="#c4c4c4"/><stop offset=".507" stop-color="#aeaeae"/><stop offset=".514" stop-color="#909090"/><stop offset=".521" stop-color="#7d7d7d"/><stop offset=".542" stop-color="#6c6c6c"/><stop offset=".584" stop-color="#616161"/><stop offset=".703" stop-color="#5f5f5f"/><stop offset=".843" stop-color="#757575"/><stop offset=".906" stop-color="#7f7f7f"/><stop offset=".969" stop-color="#777"/><stop offset=".983" stop-color="#949494"/><stop offset=".99" stop-color="#8b8b8b"/><stop offset=".997" stop-color="#787878"/></linearGradient>
<linearGradient id="hba20" href="#hbaT"><stop offset=".003" stop-color="#6d6d6d"/><stop offset=".059" stop-color="#828282"/><stop offset=".08" stop-color="#8f8f8f"/><stop offset=".129" stop-color="#949494"/><stop offset=".136" stop-color="#989898"/><stop offset=".15" stop-color="#929292"/><stop offset=".171" stop-color="#9a9a9a"/><stop offset=".185" stop-color="#929292"/><stop offset=".199" stop-color="#999"/><stop offset=".206" stop-color="#aaa"/><stop offset=".213" stop-color="#aaa"/><stop offset=".22" stop-color="#9a9a9a"/><stop offset=".255" stop-color="#969696"/><stop offset=".276" stop-color="#919191"/><stop offset=".283" stop-color="#999"/><stop offset=".297" stop-color="#c3c3c3"/><stop offset=".304" stop-color="#c6c6c6"/><stop offset=".318" stop-color="#aaa"/><stop offset=".325" stop-color="#a7a7a7"/><stop offset=".332" stop-color="#9a9a9a"/><stop offset=".339" stop-color="#a4a4a4"/><stop offset=".346" stop-color="#bbb"/><stop offset=".353" stop-color="#c4c4c4"/><stop offset=".374" stop-color="#c7c7c7"/><stop offset=".381" stop-color="#bfbfbf"/><stop offset=".388" stop-color="#c0c0c0"/><stop offset=".395" stop-color="#c9c9c9"/><stop offset=".409" stop-color="#c1c1c1"/><stop offset=".423" stop-color="#c8c8c8"/><stop offset=".437" stop-color="#a3a3a3"/><stop offset=".451" stop-color="#bcbcbc"/><stop offset=".465" stop-color="#bababa"/><stop offset=".472" stop-color="#c0c0c0"/><stop offset=".486" stop-color="#b5b5b5"/><stop offset=".5" stop-color="#b9b9b9"/><stop offset=".514" stop-color="#8b8b8b"/><stop offset=".521" stop-color="#7b7b7b"/><stop offset=".549" stop-color="#686868"/><stop offset=".619" stop-color="#5d5d5d"/><stop offset=".724" stop-color="#616161"/><stop offset=".85" stop-color="#767676"/><stop offset=".906" stop-color="#7e7e7e"/><stop offset=".969" stop-color="#757575"/><stop offset=".983" stop-color="#838383"/><stop offset=".997" stop-color="#747474"/></linearGradient>
<linearGradient id="hba21" href="#hbaT"><stop offset=".003" stop-color="#6d6d6d"/><stop offset=".066" stop-color="#838383"/><stop offset=".101" stop-color="#8c8c8c"/><stop offset=".143" stop-color="#8f8f8f"/><stop offset=".178" stop-color="#8f8f8f"/><stop offset=".199" stop-color="#929292"/><stop offset=".206" stop-color="#9d9d9d"/><stop offset=".213" stop-color="#9e9e9e"/><stop offset=".22" stop-color="#939393"/><stop offset=".276" stop-color="#8e8e8e"/><stop offset=".283" stop-color="#949494"/><stop offset=".297" stop-color="#b7b7b7"/><stop offset=".304" stop-color="#bababa"/><stop offset=".318" stop-color="#a0a0a0"/><stop offset=".332" stop-color="#939393"/><stop offset=".339" stop-color="#9d9d9d"/><stop offset=".346" stop-color="#b1b1b1"/><stop offset=".353" stop-color="#b8b8b8"/><stop offset=".374" stop-color="#bbb"/><stop offset=".381" stop-color="#b4b4b4"/><stop offset=".388" stop-color="#b4b4b4"/><stop offset=".395" stop-color="#bdbdbd"/><stop offset=".409" stop-color="#b6b6b6"/><stop offset=".423" stop-color="#bdbdbd"/><stop offset=".437" stop-color="#9c9c9c"/><stop offset=".451" stop-color="#b0b0b0"/><stop offset=".465" stop-color="#afafaf"/><stop offset=".472" stop-color="#b4b4b4"/><stop offset=".486" stop-color="#a9a9a9"/><stop offset=".5" stop-color="#adadad"/><stop offset=".514" stop-color="#878787"/><stop offset=".521" stop-color="#797979"/><stop offset=".556" stop-color="#656565"/><stop offset=".654" stop-color="#5a5a5a"/><stop offset=".745" stop-color="#626262"/><stop offset=".864" stop-color="#787878"/><stop offset=".913" stop-color="#7c7c7c"/><stop offset=".976" stop-color="#767676"/><stop offset=".99" stop-color="#767676"/><stop offset=".997" stop-color="#727272"/></linearGradient>
<linearGradient id="hba22" href="#hbaT"><stop offset=".003" stop-color="#6c6c6c"/><stop offset=".101" stop-color="#888"/><stop offset=".199" stop-color="#8c8c8c"/><stop offset=".213" stop-color="#929292"/><stop offset=".234" stop-color="#8b8b8b"/><stop offset=".276" stop-color="#8a8a8a"/><stop offset=".283" stop-color="#8f8f8f"/><stop offset=".297" stop-color="#ababab"/><stop offset=".304" stop-color="#adadad"/><stop offset=".318" stop-color="#979797"/><stop offset=".332" stop-color="#8e8e8e"/><stop offset=".339" stop-color="#969696"/><stop offset=".346" stop-color="#a6a6a6"/><stop offset=".353" stop-color="#acacac"/><stop offset=".374" stop-color="#aeaeae"/><stop offset=".381" stop-color="#a8a8a8"/><stop offset=".388" stop-color="#a9a9a9"/><stop offset=".395" stop-color="#b0b0b0"/><stop offset=".409" stop-color="#aaa"/><stop offset=".423" stop-color="#b1b1b1"/><stop offset=".437" stop-color="#959595"/><stop offset=".451" stop-color="#a4a4a4"/><stop offset=".465" stop-color="#a3a3a3"/><stop offset=".472" stop-color="#a7a7a7"/><stop offset=".486" stop-color="#9e9e9e"/><stop offset=".5" stop-color="#a0a0a0"/><stop offset=".521" stop-color="#777"/><stop offset=".563" stop-color="#616161"/><stop offset=".675" stop-color="#575757"/><stop offset=".822" stop-color="#6b6b6b"/><stop offset=".906" stop-color="#7b7b7b"/><stop offset=".997" stop-color="#717171"/></linearGradient>
<linearGradient id="hba23" href="#hbaT"><stop offset=".003" stop-color="#6c6c6c"/><stop offset=".101" stop-color="#848484"/><stop offset=".255" stop-color="#878787"/><stop offset=".283" stop-color="#8b8b8b"/><stop offset=".297" stop-color="#9f9f9f"/><stop offset=".304" stop-color="#a1a1a1"/><stop offset=".318" stop-color="#8f8f8f"/><stop offset=".332" stop-color="#898989"/><stop offset=".346" stop-color="#9c9c9c"/><stop offset=".353" stop-color="#a1a1a1"/><stop offset=".374" stop-color="#a2a2a2"/><stop offset=".388" stop-color="#9e9e9e"/><stop offset=".402" stop-color="#a3a3a3"/><stop offset=".409" stop-color="#9f9f9f"/><stop offset=".423" stop-color="#a5a5a5"/><stop offset=".437" stop-color="#8f8f8f"/><stop offset=".451" stop-color="#999"/><stop offset=".472" stop-color="#9c9c9c"/><stop offset=".486" stop-color="#949494"/><stop offset=".5" stop-color="#959595"/><stop offset=".521" stop-color="#757575"/><stop offset=".57" stop-color="#5f5f5f"/><stop offset=".682" stop-color="#545454"/><stop offset=".829" stop-color="#6b6b6b"/><stop offset=".906" stop-color="#7a7a7a"/><stop offset=".997" stop-color="#707070"/></linearGradient>
<linearGradient id="hba24" href="#hbaT"><stop offset=".003" stop-color="#6c6c6c"/><stop offset=".108" stop-color="#818181"/><stop offset=".283" stop-color="#878787"/><stop offset=".297" stop-color="#959595"/><stop offset=".304" stop-color="#969696"/><stop offset=".325" stop-color="#878787"/><stop offset=".332" stop-color="#858585"/><stop offset=".353" stop-color="#979797"/><stop offset=".388" stop-color="#949494"/><stop offset=".402" stop-color="#989898"/><stop offset=".416" stop-color="#989898"/><stop offset=".423" stop-color="#9a9a9a"/><stop offset=".437" stop-color="#898989"/><stop offset=".458" stop-color="#8e8e8e"/><stop offset=".479" stop-color="#8f8f8f"/><stop offset=".5" stop-color="#8c8c8c"/><stop offset=".521" stop-color="#737373"/><stop offset=".57" stop-color="#5e5e5e"/><stop offset=".689" stop-color="#525252"/><stop offset=".836" stop-color="#6b6b6b"/><stop offset=".906" stop-color="#787878"/><stop offset=".997" stop-color="#707070"/></linearGradient>
<linearGradient id="hba25" href="#hbaT"><stop offset=".003" stop-color="#6c6c6c"/><stop offset=".115" stop-color="#7e7e7e"/><stop offset=".283" stop-color="#838383"/><stop offset=".304" stop-color="#8e8e8e"/><stop offset=".325" stop-color="#828282"/><stop offset=".339" stop-color="#868686"/><stop offset=".353" stop-color="#8f8f8f"/><stop offset=".388" stop-color="#8c8c8c"/><stop offset=".423" stop-color="#909090"/><stop offset=".437" stop-color="#848484"/><stop offset=".479" stop-color="#888"/><stop offset=".5" stop-color="#848484"/><stop offset=".528" stop-color="#6e6e6e"/><stop offset=".577" stop-color="#5d5d5d"/><stop offset=".696" stop-color="#505050"/><stop offset=".906" stop-color="#777"/><stop offset=".997" stop-color="#707070"/></linearGradient>
<linearGradient id="hba26" href="#hbaT"><stop offset=".003" stop-color="#6c6c6c"/><stop offset=".122" stop-color="#7c7c7c"/><stop offset=".283" stop-color="#808080"/><stop offset=".304" stop-color="#878787"/><stop offset=".332" stop-color="#7f7f7f"/><stop offset=".353" stop-color="#888"/><stop offset=".423" stop-color="#888"/><stop offset=".437" stop-color="#808080"/><stop offset=".479" stop-color="#828282"/><stop offset=".507" stop-color="#7a7a7a"/><stop offset=".563" stop-color="#606060"/><stop offset=".689" stop-color="#515151"/><stop offset=".829" stop-color="#686868"/><stop offset=".913" stop-color="#757575"/><stop offset=".997" stop-color="#707070"/></linearGradient>
<linearGradient id="hba27" href="#hbaT"><stop offset=".003" stop-color="#6c6c6c"/><stop offset=".129" stop-color="#7a7a7a"/><stop offset=".29" stop-color="#808080"/><stop offset=".311" stop-color="#808080"/><stop offset=".339" stop-color="#7f7f7f"/><stop offset=".374" stop-color="#828282"/><stop offset=".43" stop-color="#808080"/><stop offset=".5" stop-color="#7b7b7b"/><stop offset=".57" stop-color="#606060"/><stop offset=".703" stop-color="#535353"/><stop offset=".913" stop-color="#757575"/><stop offset=".997" stop-color="#707070"/></linearGradient>
<linearGradient id="hba28" href="#hbaT"><stop offset=".003" stop-color="#6c6c6c"/><stop offset=".143" stop-color="#787878"/><stop offset=".318" stop-color="#7b7b7b"/><stop offset=".43" stop-color="#7c7c7c"/><stop offset=".507" stop-color="#767676"/><stop offset=".577" stop-color="#616161"/><stop offset=".71" stop-color="#585858"/><stop offset=".913" stop-color="#747474"/><stop offset=".997" stop-color="#707070"/></linearGradient>
<linearGradient id="hba29" href="#hbaT"><stop offset=".003" stop-color="#6b6b6b"/><stop offset=".206" stop-color="#757575"/><stop offset=".5" stop-color="#757575"/><stop offset=".584" stop-color="#636363"/><stop offset=".717" stop-color="#5d5d5d"/><stop offset=".92" stop-color="#727272"/><stop offset=".997" stop-color="#6f6f6f"/></linearGradient>
<linearGradient id="hba30" href="#hbaT"><stop offset=".003" stop-color="#6a6a6a"/><stop offset=".094" stop-color="#696969"/><stop offset=".178" stop-color="#727272"/><stop offset=".325" stop-color="#6a6a6a"/><stop offset=".472" stop-color="#747474"/><stop offset=".535" stop-color="#6c6c6c"/><stop offset=".654" stop-color="#616161"/><stop offset=".773" stop-color="#656565"/><stop offset=".927" stop-color="#707070"/><stop offset=".997" stop-color="#6d6d6d"/></linearGradient>
<linearGradient id="hba31" href="#hbaT"><stop offset=".003" stop-color="#676767"/><stop offset=".08" stop-color="#555"/><stop offset=".157" stop-color="#6d6d6d"/><stop offset=".304" stop-color="#575757"/><stop offset=".437" stop-color="#717171"/><stop offset=".514" stop-color="#707070"/><stop offset=".598" stop-color="#626262"/><stop offset=".738" stop-color="#616161"/><stop offset=".927" stop-color="#6e6e6e"/><stop offset=".997" stop-color="#6b6b6b"/></linearGradient>
<linearGradient id="hba32" href="#hbaT"><stop offset=".003" stop-color="#616161"/><stop offset=".073" stop-color="#444"/><stop offset=".101" stop-color="#494949"/><stop offset=".143" stop-color="#616161"/><stop offset=".178" stop-color="#5e5e5e"/><stop offset=".297" stop-color="#464646"/><stop offset=".353" stop-color="#515151"/><stop offset=".437" stop-color="#6a6a6a"/><stop offset=".507" stop-color="#6e6e6e"/><stop offset=".598" stop-color="#5d5d5d"/><stop offset=".752" stop-color="#5b5b5b"/><stop offset=".934" stop-color="#656565"/><stop offset=".997" stop-color="#636363"/></linearGradient>
<linearGradient id="hba33" href="#hbaT"><stop offset=".003" stop-color="#575757"/><stop offset=".087" stop-color="#414141"/><stop offset=".115" stop-color="#474747"/><stop offset=".15" stop-color="#515151"/><stop offset=".297" stop-color="#424242"/><stop offset=".388" stop-color="#4f4f4f"/><stop offset=".507" stop-color="#646464"/><stop offset=".556" stop-color="#5c5c5c"/><stop offset=".584" stop-color="#4e4e4e"/><stop offset=".836" stop-color="#494949"/><stop offset=".997" stop-color="#4d4d4d"/></linearGradient>
<filter id="hbFa" filterUnits="userSpaceOnUse" x="105.6" y="225.2" width="583" height="124.4" color-interpolation-filters="sRGB"><feGaussianBlur in="SourceGraphic" stdDeviation="1 1.5" result="b"/><feTurbulence type="fractalNoise" baseFrequency="0.075 0.018" numOctaves="2" seed="9" result="n"/><feColorMatrix in="n" type="matrix" values="1 0 0 0 0 1 0 0 0 0 1 0 0 0 0 0 0 0 0 1" result="m"/><feComposite in="b" in2="m" operator="arithmetic" k1="0" k2="1" k3="0.22" k4="-0.11" result="s"/><feComponentTransfer in="s"><feFuncR type="table" tableValues="0 0 0 0 .5 1 1 1 .5"/><feFuncG type="table" tableValues="0 0 .5 1 1 1 .5 0 0"/><feFuncB type="table" tableValues=".5 1 1 1 .5 0 0 0 0"/></feComponentTransfer></filter>
<clipPath id="hbCa"><rect x="111.6" y="231.2" width="571" height="106.7"/></clipPath>
<linearGradient id="hbbT" gradientUnits="userSpaceOnUse" x1="111.6" x2="682.6" y1="0" y2="0"/>
<linearGradient id="hbb0" href="#hbbT"><stop offset=".003" stop-color="#646464"/><stop offset=".073" stop-color="#4a4a4a"/><stop offset=".101" stop-color="#505050"/><stop offset=".15" stop-color="#676767"/><stop offset=".241" stop-color="#565656"/><stop offset=".297" stop-color="#4b4b4b"/><stop offset=".353" stop-color="#575757"/><stop offset=".43" stop-color="#6d6d6d"/><stop offset=".507" stop-color="#707070"/><stop offset=".605" stop-color="#5f5f5f"/><stop offset=".745" stop-color="#5e5e5e"/><stop offset=".927" stop-color="#6a6a6a"/><stop offset=".997" stop-color="#686868"/></linearGradient>
<linearGradient id="hbb1" href="#hbbT"><stop offset=".003" stop-color="#5b5b5b"/><stop offset=".08" stop-color="#404040"/><stop offset=".108" stop-color="#474747"/><stop offset=".143" stop-color="#585858"/><stop offset=".304" stop-color="#434343"/><stop offset=".402" stop-color="#595959"/><stop offset=".507" stop-color="#696969"/><stop offset=".556" stop-color="#606060"/><stop offset=".591" stop-color="#555"/><stop offset=".815" stop-color="#525252"/><stop offset=".955" stop-color="#585858"/><stop offset=".997" stop-color="#575757"/></linearGradient>
<linearGradient id="hbb2" href="#hbbT"><stop offset=".003" stop-color="#585858"/><stop offset=".08" stop-color="#414141"/><stop offset=".108" stop-color="#454545"/><stop offset=".143" stop-color="#535353"/><stop offset=".304" stop-color="#424242"/><stop offset=".395" stop-color="#525252"/><stop offset=".507" stop-color="#656565"/><stop offset=".556" stop-color="#5d5d5d"/><stop offset=".584" stop-color="#505050"/><stop offset=".836" stop-color="#4c4c4c"/><stop offset=".997" stop-color="#505050"/></linearGradient>
<linearGradient id="hbb3" href="#hbbT"><stop offset=".003" stop-color="#565656"/><stop offset=".087" stop-color="#404040"/><stop offset=".115" stop-color="#464646"/><stop offset=".15" stop-color="#4f4f4f"/><stop offset=".297" stop-color="#414141"/><stop offset=".388" stop-color="#4d4d4d"/><stop offset=".507" stop-color="#636363"/><stop offset=".556" stop-color="#5b5b5b"/><stop offset=".584" stop-color="#4c4c4c"/><stop offset=".836" stop-color="#464646"/><stop offset=".997" stop-color="#4b4b4b"/></linearGradient>
<linearGradient id="hbb4" href="#hbbT"><stop offset=".003" stop-color="#545454"/><stop offset=".094" stop-color="#3f3f3f"/><stop offset=".15" stop-color="#4c4c4c"/><stop offset=".297" stop-color="#404040"/><stop offset=".388" stop-color="#4a4a4a"/><stop offset=".507" stop-color="#616161"/><stop offset=".556" stop-color="#595959"/><stop offset=".584" stop-color="#494949"/><stop offset=".829" stop-color="#414141"/><stop offset=".997" stop-color="#474747"/></linearGradient>
<linearGradient id="hbb5" href="#hbbT"><stop offset=".003" stop-color="#505050"/><stop offset=".094" stop-color="#3c3c3c"/><stop offset=".15" stop-color="#484848"/><stop offset=".297" stop-color="#3c3c3c"/><stop offset=".388" stop-color="#464646"/><stop offset=".507" stop-color="#5d5d5d"/><stop offset=".549" stop-color="#5a5a5a"/><stop offset=".584" stop-color="#454545"/><stop offset=".829" stop-color="#3d3d3d"/><stop offset=".997" stop-color="#424242"/></linearGradient>
<linearGradient id="hbb6" href="#hbbT"><stop offset=".003" stop-color="#4f4f4f"/><stop offset=".101" stop-color="#3a3a3a"/><stop offset=".143" stop-color="#474747"/><stop offset=".297" stop-color="#3b3b3b"/><stop offset=".388" stop-color="#444"/><stop offset=".507" stop-color="#5c5c5c"/><stop offset=".549" stop-color="#595959"/><stop offset=".584" stop-color="#444"/><stop offset=".829" stop-color="#3b3b3b"/><stop offset=".997" stop-color="#404040"/></linearGradient>
<linearGradient id="hbb7" href="#hbbT"><stop offset=".003" stop-color="#636363"/><stop offset=".101" stop-color="#4e4e4e"/><stop offset=".15" stop-color="#565656"/><stop offset=".311" stop-color="#4e4e4e"/><stop offset=".423" stop-color="#595959"/><stop offset=".514" stop-color="#686868"/><stop offset=".556" stop-color="#636363"/><stop offset=".591" stop-color="#565656"/><stop offset=".822" stop-color="#4c4c4c"/><stop offset=".997" stop-color="#505050"/></linearGradient>
<linearGradient id="hbb8" href="#hbbT"><stop offset=".003" stop-color="#adadad"/><stop offset=".108" stop-color="#868686"/><stop offset=".241" stop-color="#7c7c7c"/><stop offset=".458" stop-color="#818181"/><stop offset=".507" stop-color="#959595"/><stop offset=".57" stop-color="#9a9a9a"/><stop offset=".661" stop-color="#8b8b8b"/><stop offset=".71" stop-color="#7f7f7f"/><stop offset=".997" stop-color="#7c7c7c"/></linearGradient>
<linearGradient id="hbb9" href="#hbbT"><stop offset=".003" stop-color="#b7b7b7"/><stop offset=".108" stop-color="#8d8d8d"/><stop offset=".227" stop-color="#818181"/><stop offset=".458" stop-color="#878787"/><stop offset=".507" stop-color="#9c9c9c"/><stop offset=".57" stop-color="#a3a3a3"/><stop offset=".661" stop-color="#929292"/><stop offset=".71" stop-color="#868686"/><stop offset=".997" stop-color="#818181"/></linearGradient>
<linearGradient id="hbb10" href="#hbbT"><stop offset=".003" stop-color="#d1d1d1"/><stop offset=".171" stop-color="#b1b1b1"/><stop offset=".29" stop-color="#ababab"/><stop offset=".346" stop-color="#c1c1c1"/><stop offset=".479" stop-color="#c7c7c7"/><stop offset=".542" stop-color="#ccc"/><stop offset=".57" stop-color="#b9b9b9"/><stop offset=".591" stop-color="#a3a3a3"/><stop offset=".626" stop-color="#9b9b9b"/><stop offset=".717" stop-color="#a7a7a7"/><stop offset=".997" stop-color="#acacac"/></linearGradient>
<linearGradient id="hbb11" href="#hbbT"><stop offset=".003" stop-color="#f7f7f7"/><stop offset=".136" stop-color="#e6e6e6"/><stop offset=".29" stop-color="#d7d7d7"/><stop offset=".339" stop-color="#fff"/><stop offset=".542" stop-color="#fff"/><stop offset=".57" stop-color="#d8d8d8"/><stop offset=".591" stop-color="#b1b1b1"/><stop offset=".619" stop-color="#a3a3a3"/><stop offset=".668" stop-color="#b7b7b7"/><stop offset=".696" stop-color="#cbcbcb"/><stop offset=".787" stop-color="#d4d4d4"/><stop offset=".997" stop-color="#d9d9d9"/></linearGradient>
<linearGradient id="hbb12" href="#hbbT"><stop offset=".003" stop-color="#f8f8f8"/><stop offset=".136" stop-color="#e6e6e6"/><stop offset=".29" stop-color="#d8d8d8"/><stop offset=".332" stop-color="#fcfcfc"/><stop offset=".542" stop-color="#fff"/><stop offset=".563" stop-color="#e5e5e5"/><stop offset=".591" stop-color="#b1b1b1"/><stop offset=".619" stop-color="#a3a3a3"/><stop offset=".668" stop-color="#b8b8b8"/><stop offset=".696" stop-color="#cbcbcb"/><stop offset=".787" stop-color="#d5d5d5"/><stop offset=".997" stop-color="#dadada"/></linearGradient>
<linearGradient id="hbb13" href="#hbbT"><stop offset=".003" stop-color="#c0c0c0"/><stop offset=".29" stop-color="#afafaf"/><stop offset=".346" stop-color="#c8c8c8"/><stop offset=".472" stop-color="#d8d8d8"/><stop offset=".535" stop-color="#d0d0d0"/><stop offset=".57" stop-color="#afafaf"/><stop offset=".591" stop-color="#989898"/><stop offset=".626" stop-color="#909090"/><stop offset=".675" stop-color="#9d9d9d"/><stop offset=".71" stop-color="#a5a5a5"/><stop offset=".92" stop-color="#adadad"/><stop offset=".997" stop-color="#afafaf"/></linearGradient>
<linearGradient id="hbb14" href="#hbbT"><stop offset=".003" stop-color="#787878"/><stop offset=".339" stop-color="#767676"/><stop offset=".437" stop-color="#acacac"/><stop offset=".465" stop-color="#b4b4b4"/><stop offset=".5" stop-color="#b0b0b0"/><stop offset=".542" stop-color="#909090"/><stop offset=".563" stop-color="#7e7e7e"/><stop offset=".738" stop-color="#737373"/><stop offset=".997" stop-color="#757575"/></linearGradient>
<linearGradient id="hbb15" href="#hbbT"><stop offset=".003" stop-color="#777"/><stop offset=".339" stop-color="#757575"/><stop offset=".437" stop-color="#aeaeae"/><stop offset=".465" stop-color="#b6b6b6"/><stop offset=".5" stop-color="#b1b1b1"/><stop offset=".542" stop-color="#919191"/><stop offset=".563" stop-color="#7f7f7f"/><stop offset=".738" stop-color="#737373"/><stop offset=".997" stop-color="#757575"/></linearGradient>
<linearGradient id="hbb16" href="#hbbT"><stop offset=".003" stop-color="#676767"/><stop offset=".346" stop-color="#676767"/><stop offset=".451" stop-color="#8e8e8e"/><stop offset=".507" stop-color="#8c8c8c"/><stop offset=".563" stop-color="#707070"/><stop offset=".808" stop-color="#676767"/><stop offset=".997" stop-color="#666"/></linearGradient>
<linearGradient id="hbb17" href="#hbbT"><stop offset=".003" stop-color="#373737"/><stop offset=".332" stop-color="#292929"/><stop offset=".423" stop-color="#313131"/><stop offset=".577" stop-color="#4a4a4a"/><stop offset=".731" stop-color="#494949"/><stop offset=".934" stop-color="#383838"/><stop offset=".997" stop-color="#383838"/></linearGradient>
<linearGradient id="hbb18" href="#hbbT"><stop offset=".003" stop-color="#333"/><stop offset=".325" stop-color="#232323"/><stop offset=".423" stop-color="#2c2c2c"/><stop offset=".577" stop-color="#484848"/><stop offset=".724" stop-color="#474747"/><stop offset=".927" stop-color="#333"/><stop offset=".997" stop-color="#333"/></linearGradient>
<linearGradient id="hbb19" href="#hbbT"><stop offset=".003" stop-color="#333"/><stop offset=".325" stop-color="#222"/><stop offset=".423" stop-color="#2b2b2b"/><stop offset=".577" stop-color="#484848"/><stop offset=".724" stop-color="#474747"/><stop offset=".927" stop-color="#333"/><stop offset=".997" stop-color="#333"/></linearGradient>
<linearGradient id="hbb20" href="#hbbT"><stop offset=".003" stop-color="#333"/><stop offset=".325" stop-color="#222"/><stop offset=".423" stop-color="#2b2b2b"/><stop offset=".577" stop-color="#484848"/><stop offset=".724" stop-color="#474747"/><stop offset=".927" stop-color="#333"/><stop offset=".997" stop-color="#333"/></linearGradient>
<linearGradient id="hbb21" href="#hbbT"><stop offset=".003" stop-color="#333"/><stop offset=".325" stop-color="#222"/><stop offset=".423" stop-color="#2b2b2b"/><stop offset=".577" stop-color="#484848"/><stop offset=".724" stop-color="#474747"/><stop offset=".927" stop-color="#333"/><stop offset=".997" stop-color="#333"/></linearGradient>
<linearGradient id="hbb22" href="#hbbT"><stop offset=".003" stop-color="#333"/><stop offset=".325" stop-color="#222"/><stop offset=".423" stop-color="#2b2b2b"/><stop offset=".577" stop-color="#484848"/><stop offset=".724" stop-color="#474747"/><stop offset=".927" stop-color="#333"/><stop offset=".997" stop-color="#333"/></linearGradient>
<filter id="hbFb" filterUnits="userSpaceOnUse" x="105.6" y="325.6" width="583" height="57.6" color-interpolation-filters="sRGB"><feGaussianBlur in="SourceGraphic" stdDeviation="0.6 0.75" result="b"/><feTurbulence type="fractalNoise" baseFrequency="0.075 0.018" numOctaves="2" seed="9" result="n"/><feColorMatrix in="n" type="matrix" values="1 0 0 0 0 1 0 0 0 0 1 0 0 0 0 0 0 0 0 1" result="m"/><feComposite in="b" in2="m" operator="arithmetic" k1="0" k2="1" k3="0.088" k4="-0.044" result="s"/><feComponentTransfer in="s"><feFuncR type="table" tableValues="0 0 0 0 .5 1 1 1 .5"/><feFuncG type="table" tableValues="0 0 .5 1 1 1 .5 0 0"/><feFuncB type="table" tableValues=".5 1 1 1 .5 0 0 0 0"/></feComponentTransfer></filter>
<clipPath id="hbCb"><rect x="111.6" y="337.6" width="571" height="33.6"/></clipPath>
<linearGradient id="cbA" x1="0" y1="0" x2="0" y2="1"><stop offset="0" stop-color="#800000"/><stop offset="0.0625" stop-color="#bf0000"/><stop offset="0.125" stop-color="#f00"/><stop offset="0.1875" stop-color="#ff4000"/><stop offset="0.25" stop-color="#ff8000"/><stop offset="0.3125" stop-color="#ffbf00"/><stop offset="0.375" stop-color="#ff0"/><stop offset="0.4375" stop-color="#bfff40"/><stop offset="0.5" stop-color="#80ff80"/><stop offset="0.5625" stop-color="#40ffbf"/><stop offset="0.625" stop-color="#0ff"/><stop offset="0.6875" stop-color="#00bfff"/><stop offset="0.75" stop-color="#0080ff"/><stop offset="0.8125" stop-color="#0040ff"/><stop offset="0.875" stop-color="#00f"/><stop offset="0.9375" stop-color="#0000bf"/><stop offset="1" stop-color="#000080"/></linearGradient>
<linearGradient id="msT" gradientUnits="userSpaceOnUse" x1="1028" x2="1278" y1="0" y2="0"/>
<linearGradient id="ms0" href="#msT"><stop offset=".01" stop-color="#212121"/><stop offset=".15" stop-color="#1e1e1e"/><stop offset=".19" stop-color="#1b1b1b"/><stop offset=".23" stop-color="#212121"/><stop offset=".25" stop-color="#2d2d2d"/><stop offset=".27" stop-color="#505050"/><stop offset=".29" stop-color="#636363"/><stop offset=".99" stop-color="#696969"/></linearGradient>
<linearGradient id="ms1" href="#msT"><stop offset=".01" stop-color="#212121"/><stop offset=".15" stop-color="#1e1e1e"/><stop offset=".17" stop-color="#191919"/><stop offset=".25" stop-color="#242424"/><stop offset=".31" stop-color="#656565"/><stop offset=".97" stop-color="#696969"/><stop offset=".99" stop-color="#6a6a6a"/></linearGradient>
<linearGradient id="ms2" href="#msT"><stop offset=".01" stop-color="#212121"/><stop offset=".15" stop-color="#1e1e1e"/><stop offset=".19" stop-color="#1a1a1a"/><stop offset=".25" stop-color="#222"/><stop offset=".27" stop-color="#2d2d2d"/><stop offset=".29" stop-color="#505050"/><stop offset=".31" stop-color="#656565"/><stop offset=".37" stop-color="#646464"/><stop offset=".43" stop-color="#777"/><stop offset=".47" stop-color="#6f6f6f"/><stop offset=".49" stop-color="#666"/><stop offset=".91" stop-color="#686868"/><stop offset=".99" stop-color="#6a6a6a"/></linearGradient>
<linearGradient id="ms3" href="#msT"><stop offset=".01" stop-color="#212121"/><stop offset=".15" stop-color="#202020"/><stop offset=".19" stop-color="#191919"/><stop offset=".27" stop-color="#242424"/><stop offset=".29" stop-color="#5e5e5e"/><stop offset=".31" stop-color="#787878"/><stop offset=".39" stop-color="#868686"/><stop offset=".43" stop-color="#909090"/><stop offset=".47" stop-color="#878787"/><stop offset=".53" stop-color="#666"/><stop offset=".99" stop-color="#6a6a6a"/></linearGradient>
<linearGradient id="ms4" href="#msT"><stop offset=".01" stop-color="#212121"/><stop offset=".15" stop-color="#212121"/><stop offset=".19" stop-color="#171717"/><stop offset=".25" stop-color="#212121"/><stop offset=".27" stop-color="#414141"/><stop offset=".29" stop-color="#7d7d7d"/><stop offset=".31" stop-color="#969696"/><stop offset=".43" stop-color="#a6a6a6"/><stop offset=".47" stop-color="#9c9c9c"/><stop offset=".53" stop-color="#797979"/><stop offset=".55" stop-color="#6a6a6a"/><stop offset=".59" stop-color="#646464"/><stop offset=".99" stop-color="#6a6a6a"/></linearGradient>
<linearGradient id="ms5" href="#msT"><stop offset=".01" stop-color="#212121"/><stop offset=".17" stop-color="#1e1e1e"/><stop offset=".19" stop-color="#181818"/><stop offset=".23" stop-color="#202020"/><stop offset=".25" stop-color="#2a2a2a"/><stop offset=".27" stop-color="#747474"/><stop offset=".31" stop-color="#aaa"/><stop offset=".35" stop-color="#b2b2b2"/><stop offset=".43" stop-color="#b8b8b8"/><stop offset=".47" stop-color="#adadad"/><stop offset=".53" stop-color="#8c8c8c"/><stop offset=".57" stop-color="#6e6e6e"/><stop offset=".59" stop-color="#656565"/><stop offset=".99" stop-color="#6b6b6b"/></linearGradient>
<linearGradient id="ms6" href="#msT"><stop offset=".01" stop-color="#212121"/><stop offset=".17" stop-color="#1e1e1e"/><stop offset=".19" stop-color="#181818"/><stop offset=".23" stop-color="#212121"/><stop offset=".25" stop-color="#5e5e5e"/><stop offset=".27" stop-color="#898989"/><stop offset=".29" stop-color="#a5a5a5"/><stop offset=".31" stop-color="#b9b9b9"/><stop offset=".33" stop-color="#c3c3c3"/><stop offset=".43" stop-color="#c6c6c6"/><stop offset=".49" stop-color="#b3b3b3"/><stop offset=".57" stop-color="#818181"/><stop offset=".61" stop-color="#656565"/><stop offset=".99" stop-color="#6b6b6b"/></linearGradient>
<linearGradient id="ms7" href="#msT"><stop offset=".01" stop-color="#212121"/><stop offset=".15" stop-color="#202020"/><stop offset=".17" stop-color="#191919"/><stop offset=".21" stop-color="#202020"/><stop offset=".23" stop-color="#353535"/><stop offset=".25" stop-color="#7b7b7b"/><stop offset=".27" stop-color="#9b9b9b"/><stop offset=".29" stop-color="#b3b3b3"/><stop offset=".31" stop-color="#c5c5c5"/><stop offset=".33" stop-color="#cfcfcf"/><stop offset=".45" stop-color="#cecece"/><stop offset=".51" stop-color="#b6b6b6"/><stop offset=".59" stop-color="#848484"/><stop offset=".61" stop-color="#6f6f6f"/><stop offset=".63" stop-color="#656565"/><stop offset=".99" stop-color="#6c6c6c"/></linearGradient>
<linearGradient id="ms8" href="#msT"><stop offset=".01" stop-color="#212121"/><stop offset=".13" stop-color="#212121"/><stop offset=".17" stop-color="#181818"/><stop offset=".21" stop-color="#242424"/><stop offset=".23" stop-color="#6b6b6b"/><stop offset=".25" stop-color="#8f8f8f"/><stop offset=".27" stop-color="#aaa"/><stop offset=".29" stop-color="#bfbfbf"/><stop offset=".33" stop-color="#d6d6d6"/><stop offset=".45" stop-color="#d6d6d6"/><stop offset=".51" stop-color="#c1c1c1"/><stop offset=".57" stop-color="#a1a1a1"/><stop offset=".63" stop-color="#686868"/><stop offset=".73" stop-color="#666"/><stop offset=".99" stop-color="#6c6c6c"/></linearGradient>
<linearGradient id="ms9" href="#msT"><stop offset=".01" stop-color="#212121"/><stop offset=".13" stop-color="#1e1e1e"/><stop offset=".15" stop-color="#181818"/><stop offset=".19" stop-color="#212121"/><stop offset=".23" stop-color="#848484"/><stop offset=".27" stop-color="#b8b8b8"/><stop offset=".31" stop-color="#d4d4d4"/><stop offset=".35" stop-color="#dcdcdc"/><stop offset=".47" stop-color="#d7d7d7"/><stop offset=".55" stop-color="#b9b9b9"/><stop offset=".59" stop-color="#9d9d9d"/><stop offset=".65" stop-color="#656565"/><stop offset=".99" stop-color="#6e6e6e"/></linearGradient>
<linearGradient id="ms10" href="#msT"><stop offset=".01" stop-color="#212121"/><stop offset=".11" stop-color="#202020"/><stop offset=".13" stop-color="#1a1a1a"/><stop offset=".17" stop-color="#202020"/><stop offset=".19" stop-color="#353535"/><stop offset=".21" stop-color="#797979"/><stop offset=".25" stop-color="#b1b1b1"/><stop offset=".29" stop-color="#d0d0d0"/><stop offset=".33" stop-color="#dcdcdc"/><stop offset=".47" stop-color="#dbdbdb"/><stop offset=".55" stop-color="#c2c2c2"/><stop offset=".61" stop-color="#979797"/><stop offset=".65" stop-color="#6f6f6f"/><stop offset=".67" stop-color="#666"/><stop offset=".99" stop-color="#6e6e6e"/></linearGradient>
<linearGradient id="ms11" href="#msT"><stop offset=".01" stop-color="#212121"/><stop offset=".11" stop-color="#1d1d1d"/><stop offset=".13" stop-color="#181818"/><stop offset=".17" stop-color="#242424"/><stop offset=".19" stop-color="#6d6d6d"/><stop offset=".21" stop-color="#8f8f8f"/><stop offset=".23" stop-color="#aaa"/><stop offset=".27" stop-color="#cdcdcd"/><stop offset=".31" stop-color="#dbdbdb"/><stop offset=".49" stop-color="#dbdbdb"/><stop offset=".55" stop-color="#c9c9c9"/><stop offset=".61" stop-color="#a2a2a2"/><stop offset=".67" stop-color="#696969"/><stop offset=".99" stop-color="#6e6e6e"/></linearGradient>
<linearGradient id="ms12" href="#msT"><stop offset=".01" stop-color="#212121"/><stop offset=".09" stop-color="#202020"/><stop offset=".11" stop-color="#191919"/><stop offset=".15" stop-color="#212121"/><stop offset=".17" stop-color="#4d4d4d"/><stop offset=".19" stop-color="#848484"/><stop offset=".21" stop-color="#a2a2a2"/><stop offset=".25" stop-color="#c9c9c9"/><stop offset=".29" stop-color="#dadada"/><stop offset=".51" stop-color="#dadada"/><stop offset=".57" stop-color="#c5c5c5"/><stop offset=".63" stop-color="#9d9d9d"/><stop offset=".69" stop-color="#686868"/><stop offset=".99" stop-color="#6f6f6f"/></linearGradient>
<linearGradient id="ms13" href="#msT"><stop offset=".01" stop-color="#212121"/><stop offset=".07" stop-color="#212121"/><stop offset=".11" stop-color="#181818"/><stop offset=".15" stop-color="#282828"/><stop offset=".17" stop-color="#747474"/><stop offset=".19" stop-color="#979797"/><stop offset=".21" stop-color="#b1b1b1"/><stop offset=".23" stop-color="#c5c5c5"/><stop offset=".27" stop-color="#d9d9d9"/><stop offset=".43" stop-color="#ddd"/><stop offset=".53" stop-color="#d9d9d9"/><stop offset=".59" stop-color="#c2c2c2"/><stop offset=".65" stop-color="#989898"/><stop offset=".69" stop-color="#707070"/><stop offset=".71" stop-color="#686868"/><stop offset=".99" stop-color="#6f6f6f"/></linearGradient>
<linearGradient id="ms14" href="#msT"><stop offset=".01" stop-color="#212121"/><stop offset=".07" stop-color="#1f1f1f"/><stop offset=".09" stop-color="#181818"/><stop offset=".13" stop-color="#212121"/><stop offset=".15" stop-color="#585858"/><stop offset=".17" stop-color="#888"/><stop offset=".19" stop-color="#a7a7a7"/><stop offset=".21" stop-color="#bebebe"/><stop offset=".23" stop-color="#cdcdcd"/><stop offset=".27" stop-color="#dcdcdc"/><stop offset=".53" stop-color="#dbdbdb"/><stop offset=".59" stop-color="#c8c8c8"/><stop offset=".65" stop-color="#a3a3a3"/><stop offset=".71" stop-color="#6b6b6b"/><stop offset=".99" stop-color="#6f6f6f"/></linearGradient>
<linearGradient id="ms15" href="#msT"><stop offset=".01" stop-color="#212121"/><stop offset=".05" stop-color="#212121"/><stop offset=".09" stop-color="#191919"/><stop offset=".11" stop-color="#202020"/><stop offset=".13" stop-color="#2e2e2e"/><stop offset=".15" stop-color="#797979"/><stop offset=".17" stop-color="#9a9a9a"/><stop offset=".19" stop-color="#b4b4b4"/><stop offset=".21" stop-color="#c7c7c7"/><stop offset=".25" stop-color="#dbdbdb"/><stop offset=".53" stop-color="#ddd"/><stop offset=".59" stop-color="#cecece"/><stop offset=".65" stop-color="#adadad"/><stop offset=".73" stop-color="#6a6a6a"/><stop offset=".99" stop-color="#6f6f6f"/></linearGradient>
<linearGradient id="ms16" href="#msT"><stop offset=".01" stop-color="#212121"/><stop offset=".05" stop-color="#1f1f1f"/><stop offset=".07" stop-color="#181818"/><stop offset=".11" stop-color="#222"/><stop offset=".13" stop-color="#666"/><stop offset=".15" stop-color="#8d8d8d"/><stop offset=".17" stop-color="#aaa"/><stop offset=".19" stop-color="#c0c0c0"/><stop offset=".23" stop-color="#d9d9d9"/><stop offset=".31" stop-color="#ddd"/><stop offset=".55" stop-color="#dcdcdc"/><stop offset=".61" stop-color="#cbcbcb"/><stop offset=".67" stop-color="#a9a9a9"/><stop offset=".71" stop-color="#868686"/><stop offset=".73" stop-color="#707070"/><stop offset=".77" stop-color="#6c6c6c"/><stop offset=".99" stop-color="#6f6f6f"/></linearGradient>
<linearGradient id="ms17" href="#msT"><stop offset=".01" stop-color="#212121"/><stop offset=".07" stop-color="#1a1a1a"/><stop offset=".09" stop-color="#212121"/><stop offset=".11" stop-color="#414141"/><stop offset=".13" stop-color="#808080"/><stop offset=".15" stop-color="#a0a0a0"/><stop offset=".19" stop-color="#c9c9c9"/><stop offset=".23" stop-color="#dcdcdc"/><stop offset=".57" stop-color="#dbdbdb"/><stop offset=".63" stop-color="#c8c8c8"/><stop offset=".69" stop-color="#a3a3a3"/><stop offset=".75" stop-color="#6d6d6d"/><stop offset=".99" stop-color="#6f6f6f"/></linearGradient>
<linearGradient id="ms18" href="#msT"><stop offset=".01" stop-color="#1e1e1e"/><stop offset=".05" stop-color="#181818"/><stop offset=".09" stop-color="#222"/><stop offset=".11" stop-color="#6e6e6e"/><stop offset=".13" stop-color="#949494"/><stop offset=".15" stop-color="#afafaf"/><stop offset=".17" stop-color="#c3c3c3"/><stop offset=".21" stop-color="#dadada"/><stop offset=".35" stop-color="#dedede"/><stop offset=".57" stop-color="#dcdcdc"/><stop offset=".63" stop-color="#cecece"/><stop offset=".69" stop-color="#acacac"/><stop offset=".75" stop-color="#737373"/><stop offset=".77" stop-color="#6d6d6d"/><stop offset=".99" stop-color="#6f6f6f"/></linearGradient>
<linearGradient id="ms19" href="#msT"><stop offset=".01" stop-color="#191919"/><stop offset=".05" stop-color="#181818"/><stop offset=".07" stop-color="#202020"/><stop offset=".09" stop-color="#343434"/><stop offset=".11" stop-color="#808080"/><stop offset=".13" stop-color="#a3a3a3"/><stop offset=".15" stop-color="#bcbcbc"/><stop offset=".17" stop-color="#cdcdcd"/><stop offset=".21" stop-color="#dcdcdc"/><stop offset=".59" stop-color="#dcdcdc"/><stop offset=".65" stop-color="#cbcbcb"/><stop offset=".71" stop-color="#a5a5a5"/><stop offset=".77" stop-color="#6e6e6e"/><stop offset=".99" stop-color="#6f6f6f"/></linearGradient>
<linearGradient id="ms20" href="#msT"><stop offset=".01" stop-color="#181818"/><stop offset=".07" stop-color="#212121"/><stop offset=".09" stop-color="#5f5f5f"/><stop offset=".11" stop-color="#8f8f8f"/><stop offset=".13" stop-color="#aeaeae"/><stop offset=".15" stop-color="#c5c5c5"/><stop offset=".17" stop-color="#d4d4d4"/><stop offset=".21" stop-color="#dedede"/><stop offset=".61" stop-color="#dbdbdb"/><stop offset=".67" stop-color="#c7c7c7"/><stop offset=".73" stop-color="#9d9d9d"/><stop offset=".77" stop-color="#757575"/><stop offset=".79" stop-color="#6f6f6f"/><stop offset=".99" stop-color="#6f6f6f"/></linearGradient>
<linearGradient id="ms21" href="#msT"><stop offset=".01" stop-color="#1d1d1d"/><stop offset=".07" stop-color="#212121"/><stop offset=".09" stop-color="#6c6c6c"/><stop offset=".11" stop-color="#989898"/><stop offset=".13" stop-color="#b7b7b7"/><stop offset=".15" stop-color="#cbcbcb"/><stop offset=".17" stop-color="#d8d8d8"/><stop offset=".21" stop-color="#dedede"/><stop offset=".61" stop-color="#dcdcdc"/><stop offset=".67" stop-color="#cbcbcb"/><stop offset=".73" stop-color="#a6a6a6"/><stop offset=".79" stop-color="#6f6f6f"/><stop offset=".99" stop-color="#6f6f6f"/></linearGradient>
<linearGradient id="ms22" href="#msT"><stop offset=".01" stop-color="#1f1f1f"/><stop offset=".07" stop-color="#212121"/><stop offset=".09" stop-color="#666"/><stop offset=".11" stop-color="#959595"/><stop offset=".13" stop-color="#b5b5b5"/><stop offset=".15" stop-color="#cbcbcb"/><stop offset=".17" stop-color="#d8d8d8"/><stop offset=".21" stop-color="#dedede"/><stop offset=".63" stop-color="#dadada"/><stop offset=".69" stop-color="#c7c7c7"/><stop offset=".75" stop-color="#9e9e9e"/><stop offset=".79" stop-color="#757575"/><stop offset=".83" stop-color="#6f6f6f"/><stop offset=".99" stop-color="#707070"/></linearGradient>
<linearGradient id="ms23" href="#msT"><stop offset=".01" stop-color="#202020"/><stop offset=".07" stop-color="#212121"/><stop offset=".09" stop-color="#5e5e5e"/><stop offset=".11" stop-color="#929292"/><stop offset=".13" stop-color="#b3b3b3"/><stop offset=".15" stop-color="#cacaca"/><stop offset=".17" stop-color="#d7d7d7"/><stop offset=".21" stop-color="#ddd"/><stop offset=".63" stop-color="#dcdcdc"/><stop offset=".69" stop-color="#cbcbcb"/><stop offset=".75" stop-color="#a6a6a6"/><stop offset=".81" stop-color="#6f6f6f"/><stop offset=".99" stop-color="#6f6f6f"/></linearGradient>
<linearGradient id="ms24" href="#msT"><stop offset=".01" stop-color="#202020"/><stop offset=".07" stop-color="#212121"/><stop offset=".09" stop-color="#535353"/><stop offset=".11" stop-color="#8f8f8f"/><stop offset=".13" stop-color="#b0b0b0"/><stop offset=".15" stop-color="#c8c8c8"/><stop offset=".17" stop-color="#d5d5d5"/><stop offset=".21" stop-color="#ddd"/><stop offset=".65" stop-color="#dadada"/><stop offset=".71" stop-color="#c6c6c6"/><stop offset=".77" stop-color="#9d9d9d"/><stop offset=".81" stop-color="#747474"/><stop offset=".87" stop-color="#6f6f6f"/><stop offset=".99" stop-color="#6f6f6f"/></linearGradient>
<linearGradient id="ms25" href="#msT"><stop offset=".01" stop-color="#212121"/><stop offset=".07" stop-color="#212121"/><stop offset=".09" stop-color="#414141"/><stop offset=".11" stop-color="#878787"/><stop offset=".13" stop-color="#a9a9a9"/><stop offset=".15" stop-color="#c2c2c2"/><stop offset=".17" stop-color="#d2d2d2"/><stop offset=".21" stop-color="#ddd"/><stop offset=".65" stop-color="#dbdbdb"/><stop offset=".71" stop-color="#cbcbcb"/><stop offset=".77" stop-color="#a5a5a5"/><stop offset=".81" stop-color="#7e7e7e"/><stop offset=".83" stop-color="#707070"/><stop offset=".99" stop-color="#6f6f6f"/></linearGradient>
<linearGradient id="ms26" href="#msT"><stop offset=".01" stop-color="#212121"/><stop offset=".07" stop-color="#212121"/><stop offset=".09" stop-color="#282828"/><stop offset=".11" stop-color="#7a7a7a"/><stop offset=".13" stop-color="#9f9f9f"/><stop offset=".15" stop-color="#bababa"/><stop offset=".17" stop-color="#cdcdcd"/><stop offset=".19" stop-color="#d8d8d8"/><stop offset=".25" stop-color="#ddd"/><stop offset=".67" stop-color="#d9d9d9"/><stop offset=".73" stop-color="#c5c5c5"/><stop offset=".79" stop-color="#9b9b9b"/><stop offset=".83" stop-color="#737373"/><stop offset=".99" stop-color="#6f6f6f"/></linearGradient>
<linearGradient id="ms27" href="#msT"><stop offset=".01" stop-color="#212121"/><stop offset=".09" stop-color="#222"/><stop offset=".11" stop-color="#686868"/><stop offset=".13" stop-color="#949494"/><stop offset=".15" stop-color="#b2b2b2"/><stop offset=".17" stop-color="#c8c8c8"/><stop offset=".19" stop-color="#d5d5d5"/><stop offset=".23" stop-color="#ddd"/><stop offset=".67" stop-color="#dbdbdb"/><stop offset=".73" stop-color="#cacaca"/><stop offset=".79" stop-color="#a3a3a3"/><stop offset=".83" stop-color="#7c7c7c"/><stop offset=".85" stop-color="#6f6f6f"/><stop offset=".99" stop-color="#6f6f6f"/></linearGradient>
<linearGradient id="ms28" href="#msT"><stop offset=".01" stop-color="#212121"/><stop offset=".09" stop-color="#232323"/><stop offset=".11" stop-color="#474747"/><stop offset=".13" stop-color="#888"/><stop offset=".15" stop-color="#a9a9a9"/><stop offset=".17" stop-color="#c1c1c1"/><stop offset=".19" stop-color="#d0d0d0"/><stop offset=".23" stop-color="#dcdcdc"/><stop offset=".67" stop-color="#dbdbdb"/><stop offset=".73" stop-color="#cecece"/><stop offset=".79" stop-color="#ababab"/><stop offset=".85" stop-color="#707070"/><stop offset=".99" stop-color="#6f6f6f"/></linearGradient>
<linearGradient id="ms29" href="#msT"><stop offset=".01" stop-color="#222"/><stop offset=".07" stop-color="#232323"/><stop offset=".11" stop-color="#464646"/><stop offset=".13" stop-color="#7a7a7a"/><stop offset=".15" stop-color="#9d9d9d"/><stop offset=".17" stop-color="#b8b8b8"/><stop offset=".19" stop-color="#cacaca"/><stop offset=".21" stop-color="#d6d6d6"/><stop offset=".25" stop-color="#dcdcdc"/><stop offset=".69" stop-color="#dadada"/><stop offset=".75" stop-color="#c9c9c9"/><stop offset=".79" stop-color="#b0b0b0"/><stop offset=".85" stop-color="#727272"/><stop offset=".99" stop-color="#6f6f6f"/></linearGradient>
<linearGradient id="ms30" href="#msT"><stop offset=".01" stop-color="#222"/><stop offset=".05" stop-color="#232323"/><stop offset=".09" stop-color="#3e3e3e"/><stop offset=".11" stop-color="#666"/><stop offset=".13" stop-color="#6a6a6a"/><stop offset=".15" stop-color="#8f8f8f"/><stop offset=".17" stop-color="#adadad"/><stop offset=".19" stop-color="#c3c3c3"/><stop offset=".21" stop-color="#d1d1d1"/><stop offset=".25" stop-color="#dcdcdc"/><stop offset=".69" stop-color="#dbdbdb"/><stop offset=".75" stop-color="#ccc"/><stop offset=".79" stop-color="#b4b4b4"/><stop offset=".83" stop-color="#8e8e8e"/><stop offset=".85" stop-color="#777"/><stop offset=".87" stop-color="#6f6f6f"/><stop offset=".99" stop-color="#6f6f6f"/></linearGradient>
<linearGradient id="ms31" href="#msT"><stop offset=".01" stop-color="#232323"/><stop offset=".03" stop-color="#232323"/><stop offset=".05" stop-color="#333"/><stop offset=".07" stop-color="#383838"/><stop offset=".09" stop-color="#666"/><stop offset=".13" stop-color="#676767"/><stop offset=".15" stop-color="#7f7f7f"/><stop offset=".17" stop-color="#a0a0a0"/><stop offset=".19" stop-color="#bababa"/><stop offset=".21" stop-color="#ccc"/><stop offset=".23" stop-color="#d7d7d7"/><stop offset=".29" stop-color="#dcdcdc"/><stop offset=".71" stop-color="#d9d9d9"/><stop offset=".77" stop-color="#c4c4c4"/><stop offset=".81" stop-color="#a7a7a7"/><stop offset=".85" stop-color="#7d7d7d"/><stop offset=".87" stop-color="#707070"/><stop offset=".99" stop-color="#6f6f6f"/></linearGradient>
<linearGradient id="ms32" href="#msT"><stop offset=".01" stop-color="#232323"/><stop offset=".03" stop-color="#333"/><stop offset=".05" stop-color="#333"/><stop offset=".07" stop-color="#666"/><stop offset=".13" stop-color="#686868"/><stop offset=".15" stop-color="#707070"/><stop offset=".17" stop-color="#949494"/><stop offset=".19" stop-color="#b1b1b1"/><stop offset=".21" stop-color="#c6c6c6"/><stop offset=".23" stop-color="#d3d3d3"/><stop offset=".27" stop-color="#dbdbdb"/><stop offset=".71" stop-color="#dadada"/><stop offset=".77" stop-color="#c7c7c7"/><stop offset=".81" stop-color="#ababab"/><stop offset=".87" stop-color="#6f6f6f"/><stop offset=".99" stop-color="#6f6f6f"/></linearGradient>
<linearGradient id="ms33" href="#msT"><stop offset=".01" stop-color="#333"/><stop offset=".03" stop-color="#333"/><stop offset=".05" stop-color="#666"/><stop offset=".15" stop-color="#6b6b6b"/><stop offset=".19" stop-color="#a7a7a7"/><stop offset=".21" stop-color="#bebebe"/><stop offset=".23" stop-color="#cecece"/><stop offset=".27" stop-color="#dbdbdb"/><stop offset=".71" stop-color="#dadada"/><stop offset=".77" stop-color="#c9c9c9"/><stop offset=".81" stop-color="#b0b0b0"/><stop offset=".85" stop-color="#898989"/><stop offset=".87" stop-color="#717171"/><stop offset=".99" stop-color="#6f6f6f"/></linearGradient>
<linearGradient id="ms34" href="#msT"><stop offset=".01" stop-color="#333"/><stop offset=".03" stop-color="#666"/><stop offset=".15" stop-color="#6d6d6d"/><stop offset=".17" stop-color="#797979"/><stop offset=".19" stop-color="#9b9b9b"/><stop offset=".21" stop-color="#b5b5b5"/><stop offset=".23" stop-color="#c8c8c8"/><stop offset=".25" stop-color="#d4d4d4"/><stop offset=".29" stop-color="#dadada"/><stop offset=".71" stop-color="#dadada"/><stop offset=".77" stop-color="#cbcbcb"/><stop offset=".81" stop-color="#b3b3b3"/><stop offset=".85" stop-color="#8e8e8e"/><stop offset=".87" stop-color="#777"/><stop offset=".89" stop-color="#6f6f6f"/><stop offset=".99" stop-color="#6f6f6f"/></linearGradient>
<linearGradient id="ms35" href="#msT"><stop offset=".01" stop-color="#666"/><stop offset=".17" stop-color="#6f6f6f"/><stop offset=".21" stop-color="#acacac"/><stop offset=".23" stop-color="#c1c1c1"/><stop offset=".25" stop-color="#cfcfcf"/><stop offset=".29" stop-color="#d8d8d8"/><stop offset=".71" stop-color="#d9d9d9"/><stop offset=".77" stop-color="#ccc"/><stop offset=".81" stop-color="#b6b6b6"/><stop offset=".85" stop-color="#929292"/><stop offset=".87" stop-color="#7b7b7b"/><stop offset=".89" stop-color="#6f6f6f"/><stop offset=".99" stop-color="#6f6f6f"/></linearGradient>
<linearGradient id="ms36" href="#msT"><stop offset=".01" stop-color="#686868"/><stop offset=".17" stop-color="#717171"/><stop offset=".19" stop-color="#818181"/><stop offset=".21" stop-color="#a1a1a1"/><stop offset=".23" stop-color="#b9b9b9"/><stop offset=".25" stop-color="#cacaca"/><stop offset=".29" stop-color="#d7d7d7"/><stop offset=".73" stop-color="#d6d6d6"/><stop offset=".79" stop-color="#c4c4c4"/><stop offset=".83" stop-color="#a9a9a9"/><stop offset=".89" stop-color="#6f6f6f"/><stop offset=".99" stop-color="#6f6f6f"/></linearGradient>
<linearGradient id="ms37" href="#msT"><stop offset=".01" stop-color="#6a6a6a"/><stop offset=".19" stop-color="#767676"/><stop offset=".21" stop-color="#979797"/><stop offset=".23" stop-color="#b0b0b0"/><stop offset=".25" stop-color="#c3c3c3"/><stop offset=".27" stop-color="#cfcfcf"/><stop offset=".31" stop-color="#d6d6d6"/><stop offset=".73" stop-color="#d6d6d6"/><stop offset=".79" stop-color="#c5c5c5"/><stop offset=".83" stop-color="#ababab"/><stop offset=".89" stop-color="#707070"/><stop offset=".99" stop-color="#6f6f6f"/></linearGradient>
<linearGradient id="ms38" href="#msT"><stop offset=".01" stop-color="#6a6a6a"/><stop offset=".19" stop-color="#747474"/><stop offset=".21" stop-color="#8a8a8a"/><stop offset=".23" stop-color="#a7a7a7"/><stop offset=".25" stop-color="#bdbdbd"/><stop offset=".27" stop-color="#cbcbcb"/><stop offset=".31" stop-color="#d4d4d4"/><stop offset=".73" stop-color="#d5d5d5"/><stop offset=".79" stop-color="#c6c6c6"/><stop offset=".83" stop-color="#aeaeae"/><stop offset=".89" stop-color="#717171"/><stop offset=".99" stop-color="#6f6f6f"/></linearGradient>
<linearGradient id="ms39" href="#msT"><stop offset=".01" stop-color="#6e6e6e"/><stop offset=".19" stop-color="#767676"/><stop offset=".21" stop-color="#808080"/><stop offset=".23" stop-color="#a0a0a0"/><stop offset=".25" stop-color="#b7b7b7"/><stop offset=".27" stop-color="#c7c7c7"/><stop offset=".31" stop-color="#d3d3d3"/><stop offset=".67" stop-color="#d6d6d6"/><stop offset=".75" stop-color="#d2d2d2"/><stop offset=".81" stop-color="#bdbdbd"/><stop offset=".85" stop-color="#a0a0a0"/><stop offset=".89" stop-color="#747474"/><stop offset=".93" stop-color="#6f6f6f"/><stop offset=".99" stop-color="#6f6f6f"/></linearGradient>
<linearGradient id="ms40" href="#msT"><stop offset=".01" stop-color="#6e6e6e"/><stop offset=".21" stop-color="#797979"/><stop offset=".25" stop-color="#b1b1b1"/><stop offset=".27" stop-color="#c3c3c3"/><stop offset=".29" stop-color="#cdcdcd"/><stop offset=".37" stop-color="#d2d2d2"/><stop offset=".67" stop-color="#d4d4d4"/><stop offset=".73" stop-color="#d5d5d5"/><stop offset=".79" stop-color="#c8c8c8"/><stop offset=".83" stop-color="#b3b3b3"/><stop offset=".87" stop-color="#909090"/><stop offset=".89" stop-color="#797979"/><stop offset=".91" stop-color="#6f6f6f"/><stop offset=".99" stop-color="#6f6f6f"/></linearGradient>
<linearGradient id="ms41" href="#msT"><stop offset=".01" stop-color="#717171"/><stop offset=".21" stop-color="#7a7a7a"/><stop offset=".23" stop-color="#8e8e8e"/><stop offset=".25" stop-color="#aaa"/><stop offset=".27" stop-color="#bdbdbd"/><stop offset=".29" stop-color="#c9c9c9"/><stop offset=".33" stop-color="#d0d0d0"/><stop offset=".67" stop-color="#d2d2d2"/><stop offset=".73" stop-color="#d4d4d4"/><stop offset=".79" stop-color="#c8c8c8"/><stop offset=".83" stop-color="#b4b4b4"/><stop offset=".87" stop-color="#939393"/><stop offset=".89" stop-color="#7d7d7d"/><stop offset=".91" stop-color="#6f6f6f"/><stop offset=".99" stop-color="#6f6f6f"/></linearGradient>
<linearGradient id="ms42" href="#msT"><stop offset=".01" stop-color="#727272"/><stop offset=".21" stop-color="#7c7c7c"/><stop offset=".23" stop-color="#858585"/><stop offset=".25" stop-color="#a2a2a2"/><stop offset=".27" stop-color="#b8b8b8"/><stop offset=".29" stop-color="#c5c5c5"/><stop offset=".33" stop-color="#cdcdcd"/><stop offset=".67" stop-color="#d0d0d0"/><stop offset=".73" stop-color="#d4d4d4"/><stop offset=".81" stop-color="#c0c0c0"/><stop offset=".85" stop-color="#a8a8a8"/><stop offset=".91" stop-color="#707070"/><stop offset=".99" stop-color="#6f6f6f"/></linearGradient>
<linearGradient id="ms43" href="#msT"><stop offset=".01" stop-color="#737373"/><stop offset=".23" stop-color="#7f7f7f"/><stop offset=".27" stop-color="#b1b1b1"/><stop offset=".29" stop-color="#c0c0c0"/><stop offset=".33" stop-color="#cbcbcb"/><stop offset=".67" stop-color="#cdcdcd"/><stop offset=".73" stop-color="#d3d3d3"/><stop offset=".81" stop-color="#c0c0c0"/><stop offset=".85" stop-color="#aaa"/><stop offset=".91" stop-color="#707070"/><stop offset=".99" stop-color="#6f6f6f"/></linearGradient>
<linearGradient id="ms44" href="#msT"><stop offset=".01" stop-color="#757575"/><stop offset=".23" stop-color="#818181"/><stop offset=".25" stop-color="#939393"/><stop offset=".27" stop-color="#ababab"/><stop offset=".29" stop-color="#bbb"/><stop offset=".33" stop-color="#c8c8c8"/><stop offset=".67" stop-color="#cacaca"/><stop offset=".73" stop-color="#d2d2d2"/><stop offset=".81" stop-color="#c0c0c0"/><stop offset=".85" stop-color="#ababab"/><stop offset=".89" stop-color="#888"/><stop offset=".91" stop-color="#717171"/><stop offset=".99" stop-color="#6f6f6f"/></linearGradient>
<linearGradient id="ms45" href="#msT"><stop offset=".01" stop-color="#777"/><stop offset=".23" stop-color="#828282"/><stop offset=".25" stop-color="#8a8a8a"/><stop offset=".27" stop-color="#a4a4a4"/><stop offset=".29" stop-color="#b6b6b6"/><stop offset=".33" stop-color="#c5c5c5"/><stop offset=".67" stop-color="#c7c7c7"/><stop offset=".73" stop-color="#d0d0d0"/><stop offset=".81" stop-color="#c0c0c0"/><stop offset=".85" stop-color="#adadad"/><stop offset=".89" stop-color="#8b8b8b"/><stop offset=".91" stop-color="#757575"/><stop offset=".95" stop-color="#6f6f6f"/><stop offset=".99" stop-color="#6f6f6f"/></linearGradient>
<linearGradient id="ms46" href="#msT"><stop offset=".01" stop-color="#7a7a7a"/><stop offset=".25" stop-color="#858585"/><stop offset=".29" stop-color="#b0b0b0"/><stop offset=".31" stop-color="#bcbcbc"/><stop offset=".35" stop-color="#c3c3c3"/><stop offset=".69" stop-color="#c6c6c6"/><stop offset=".73" stop-color="#cfcfcf"/><stop offset=".81" stop-color="#c0c0c0"/><stop offset=".85" stop-color="#afafaf"/><stop offset=".89" stop-color="#8f8f8f"/><stop offset=".91" stop-color="#787878"/><stop offset=".93" stop-color="#6f6f6f"/><stop offset=".99" stop-color="#6f6f6f"/></linearGradient>
<linearGradient id="ms47" href="#msT"><stop offset=".01" stop-color="#7c7c7c"/><stop offset=".25" stop-color="#878787"/><stop offset=".27" stop-color="#939393"/><stop offset=".29" stop-color="#a9a9a9"/><stop offset=".31" stop-color="#b7b7b7"/><stop offset=".35" stop-color="#c1c1c1"/><stop offset=".69" stop-color="#c3c3c3"/><stop offset=".75" stop-color="#cdcdcd"/><stop offset=".83" stop-color="#b9b9b9"/><stop offset=".87" stop-color="#a3a3a3"/><stop offset=".91" stop-color="#7c7c7c"/><stop offset=".93" stop-color="#6f6f6f"/><stop offset=".99" stop-color="#6e6e6e"/></linearGradient>
<linearGradient id="ms48" href="#msT"><stop offset=".01" stop-color="#7d7d7d"/><stop offset=".27" stop-color="#8b8b8b"/><stop offset=".29" stop-color="#a2a2a2"/><stop offset=".31" stop-color="#b2b2b2"/><stop offset=".35" stop-color="#bebebe"/><stop offset=".69" stop-color="#c0c0c0"/><stop offset=".75" stop-color="#cbcbcb"/><stop offset=".85" stop-color="#b1b1b1"/><stop offset=".89" stop-color="#949494"/><stop offset=".93" stop-color="#6e6e6e"/><stop offset=".99" stop-color="#6e6e6e"/></linearGradient>
<linearGradient id="ms49" href="#msT"><stop offset=".01" stop-color="#7f7f7f"/><stop offset=".27" stop-color="#8b8b8b"/><stop offset=".31" stop-color="#acacac"/><stop offset=".33" stop-color="#b7b7b7"/><stop offset=".39" stop-color="#bcbcbc"/><stop offset=".69" stop-color="#bdbdbd"/><stop offset=".75" stop-color="#c9c9c9"/><stop offset=".85" stop-color="#b1b1b1"/><stop offset=".89" stop-color="#969696"/><stop offset=".93" stop-color="#6e6e6e"/><stop offset=".99" stop-color="#6e6e6e"/></linearGradient>
<linearGradient id="ms50" href="#msT"><stop offset=".01" stop-color="#818181"/><stop offset=".27" stop-color="#8c8c8c"/><stop offset=".29" stop-color="#939393"/><stop offset=".31" stop-color="#a7a7a7"/><stop offset=".33" stop-color="#b3b3b3"/><stop offset=".37" stop-color="#bababa"/><stop offset=".71" stop-color="#bdbdbd"/><stop offset=".75" stop-color="#c6c6c6"/><stop offset=".81" stop-color="#bcbcbc"/><stop offset=".85" stop-color="#b1b1b1"/><stop offset=".89" stop-color="#979797"/><stop offset=".93" stop-color="#6d6d6d"/><stop offset=".99" stop-color="#6d6d6d"/></linearGradient>
<linearGradient id="ms51" href="#msT"><stop offset=".01" stop-color="#828282"/><stop offset=".29" stop-color="#8e8e8e"/><stop offset=".33" stop-color="#afafaf"/><stop offset=".37" stop-color="#b7b7b7"/><stop offset=".71" stop-color="#b9b9b9"/><stop offset=".77" stop-color="#c3c3c3"/><stop offset=".85" stop-color="#b0b0b0"/><stop offset=".89" stop-color="#989898"/><stop offset=".93" stop-color="#6e6e6e"/><stop offset=".99" stop-color="#6c6c6c"/></linearGradient>
<linearGradient id="ms52" href="#msT"><stop offset=".01" stop-color="#838383"/><stop offset=".29" stop-color="#8d8d8d"/><stop offset=".33" stop-color="#a9a9a9"/><stop offset=".37" stop-color="#b5b5b5"/><stop offset=".71" stop-color="#b6b6b6"/><stop offset=".77" stop-color="#c0c0c0"/><stop offset=".85" stop-color="#b0b0b0"/><stop offset=".89" stop-color="#999"/><stop offset=".93" stop-color="#707070"/><stop offset=".99" stop-color="#6c6c6c"/></linearGradient>
<linearGradient id="ms53" href="#msT"><stop offset=".01" stop-color="#848484"/><stop offset=".27" stop-color="#8d8d8d"/><stop offset=".31" stop-color="#919191"/><stop offset=".33" stop-color="#a3a3a3"/><stop offset=".35" stop-color="#aeaeae"/><stop offset=".43" stop-color="#b2b2b2"/><stop offset=".73" stop-color="#b5b5b5"/><stop offset=".77" stop-color="#bdbdbd"/><stop offset=".85" stop-color="#afafaf"/><stop offset=".89" stop-color="#9a9a9a"/><stop offset=".93" stop-color="#727272"/><stop offset=".95" stop-color="#6b6b6b"/><stop offset=".99" stop-color="#6b6b6b"/></linearGradient>
<linearGradient id="ms54" href="#msT"><stop offset=".01" stop-color="#868686"/><stop offset=".23" stop-color="#8d8d8d"/><stop offset=".31" stop-color="#8c8c8c"/><stop offset=".35" stop-color="#aaa"/><stop offset=".39" stop-color="#b0b0b0"/><stop offset=".73" stop-color="#b2b2b2"/><stop offset=".79" stop-color="#bababa"/><stop offset=".87" stop-color="#a7a7a7"/><stop offset=".91" stop-color="#8b8b8b"/><stop offset=".93" stop-color="#757575"/><stop offset=".95" stop-color="#6b6b6b"/><stop offset=".99" stop-color="#6b6b6b"/></linearGradient>
<linearGradient id="ms55" href="#msT"><stop offset=".01" stop-color="#878787"/><stop offset=".19" stop-color="#8d8d8d"/><stop offset=".31" stop-color="#8c8c8c"/><stop offset=".35" stop-color="#a5a5a5"/><stop offset=".39" stop-color="#aeaeae"/><stop offset=".73" stop-color="#afafaf"/><stop offset=".79" stop-color="#b7b7b7"/><stop offset=".87" stop-color="#a7a7a7"/><stop offset=".91" stop-color="#8d8d8d"/><stop offset=".93" stop-color="#787878"/><stop offset=".95" stop-color="#6a6a6a"/><stop offset=".99" stop-color="#6a6a6a"/></linearGradient>
<linearGradient id="ms56" href="#msT"><stop offset=".01" stop-color="#898989"/><stop offset=".17" stop-color="#8d8d8d"/><stop offset=".31" stop-color="#8b8b8b"/><stop offset=".33" stop-color="#8e8e8e"/><stop offset=".35" stop-color="#9f9f9f"/><stop offset=".37" stop-color="#a9a9a9"/><stop offset=".75" stop-color="#aeaeae"/><stop offset=".81" stop-color="#b2b2b2"/><stop offset=".87" stop-color="#a6a6a6"/><stop offset=".91" stop-color="#8f8f8f"/><stop offset=".95" stop-color="#6a6a6a"/><stop offset=".99" stop-color="#6a6a6a"/></linearGradient>
<linearGradient id="ms57" href="#msT"><stop offset=".01" stop-color="#8b8b8b"/><stop offset=".33" stop-color="#8a8a8a"/><stop offset=".37" stop-color="#a3a3a3"/><stop offset=".41" stop-color="#a9a9a9"/><stop offset=".75" stop-color="#ababab"/><stop offset=".81" stop-color="#b0b0b0"/><stop offset=".87" stop-color="#a6a6a6"/><stop offset=".91" stop-color="#909090"/><stop offset=".95" stop-color="#696969"/><stop offset=".99" stop-color="#696969"/></linearGradient>
<linearGradient id="ms58" href="#msT"><stop offset=".01" stop-color="#8c8c8c"/><stop offset=".33" stop-color="#8a8a8a"/><stop offset=".35" stop-color="#8f8f8f"/><stop offset=".37" stop-color="#9e9e9e"/><stop offset=".41" stop-color="#a7a7a7"/><stop offset=".77" stop-color="#aaa"/><stop offset=".83" stop-color="#ababab"/><stop offset=".89" stop-color="#9d9d9d"/><stop offset=".93" stop-color="#808080"/><stop offset=".95" stop-color="#6b6b6b"/><stop offset=".99" stop-color="#686868"/></linearGradient>
<linearGradient id="ms59" href="#msT"><stop offset=".01" stop-color="#8e8e8e"/><stop offset=".35" stop-color="#898989"/><stop offset=".39" stop-color="#a0a0a0"/><stop offset=".47" stop-color="#a5a5a5"/><stop offset=".79" stop-color="#a9a9a9"/><stop offset=".87" stop-color="#a3a3a3"/><stop offset=".91" stop-color="#929292"/><stop offset=".95" stop-color="#6d6d6d"/><stop offset=".99" stop-color="#676767"/></linearGradient>
<linearGradient id="ms60" href="#msT"><stop offset=".01" stop-color="#8d8d8d"/><stop offset=".35" stop-color="#888"/><stop offset=".41" stop-color="#a1a1a1"/><stop offset=".85" stop-color="#a4a4a4"/><stop offset=".89" stop-color="#9c9c9c"/><stop offset=".93" stop-color="#848484"/><stop offset=".95" stop-color="#707070"/><stop offset=".97" stop-color="#676767"/><stop offset=".99" stop-color="#676767"/></linearGradient>
<linearGradient id="ms61" href="#msT"><stop offset=".01" stop-color="#8d8d8d"/><stop offset=".37" stop-color="#878787"/><stop offset=".41" stop-color="#9c9c9c"/><stop offset=".83" stop-color="#a2a2a2"/><stop offset=".91" stop-color="#909090"/><stop offset=".93" stop-color="#868686"/><stop offset=".97" stop-color="#666"/><stop offset=".99" stop-color="#666"/></linearGradient>
<linearGradient id="ms62" href="#msT"><stop offset=".01" stop-color="#8c8c8c"/><stop offset=".37" stop-color="#868686"/><stop offset=".43" stop-color="#9c9c9c"/><stop offset=".83" stop-color="#9e9e9e"/><stop offset=".93" stop-color="#7e7e7e"/><stop offset=".97" stop-color="#656565"/><stop offset=".99" stop-color="#656565"/></linearGradient>
<linearGradient id="ms63" href="#msT"><stop offset=".01" stop-color="#8c8c8c"/><stop offset=".39" stop-color="#848484"/><stop offset=".43" stop-color="#979797"/><stop offset=".81" stop-color="#9b9b9b"/><stop offset=".87" stop-color="#8c8c8c"/><stop offset=".95" stop-color="#676767"/><stop offset=".99" stop-color="#646464"/></linearGradient>
<linearGradient id="ms64" href="#msT"><stop offset=".01" stop-color="#8b8b8b"/><stop offset=".39" stop-color="#828282"/><stop offset=".45" stop-color="#969696"/><stop offset=".81" stop-color="#969696"/><stop offset=".87" stop-color="#838383"/><stop offset=".91" stop-color="#6a6a6a"/><stop offset=".97" stop-color="#646464"/><stop offset=".99" stop-color="#646464"/></linearGradient>
<linearGradient id="ms65" href="#msT"><stop offset=".01" stop-color="#8b8b8b"/><stop offset=".41" stop-color="#818181"/><stop offset=".47" stop-color="#949494"/><stop offset=".79" stop-color="#949494"/><stop offset=".85" stop-color="#848484"/><stop offset=".91" stop-color="#666"/><stop offset=".99" stop-color="#646464"/></linearGradient>
<linearGradient id="ms66" href="#msT"><stop offset=".01" stop-color="#8b8b8b"/><stop offset=".43" stop-color="#808080"/><stop offset=".47" stop-color="#8f8f8f"/><stop offset=".79" stop-color="#909090"/><stop offset=".85" stop-color="#7b7b7b"/><stop offset=".89" stop-color="#676767"/><stop offset=".99" stop-color="#646464"/></linearGradient>
<linearGradient id="ms67" href="#msT"><stop offset=".01" stop-color="#8a8a8a"/><stop offset=".41" stop-color="#7f7f7f"/><stop offset=".45" stop-color="#818181"/><stop offset=".51" stop-color="#8e8e8e"/><stop offset=".77" stop-color="#8d8d8d"/><stop offset=".83" stop-color="#7d7d7d"/><stop offset=".87" stop-color="#676767"/><stop offset=".99" stop-color="#646464"/></linearGradient>
<linearGradient id="ms68" href="#msT"><stop offset=".01" stop-color="#8a8a8a"/><stop offset=".45" stop-color="#7c7c7c"/><stop offset=".53" stop-color="#8b8b8b"/><stop offset=".77" stop-color="#898989"/><stop offset=".83" stop-color="#767676"/><stop offset=".85" stop-color="#6b6b6b"/><stop offset=".99" stop-color="#646464"/></linearGradient>
<linearGradient id="ms69" href="#msT"><stop offset=".01" stop-color="#8a8a8a"/><stop offset=".47" stop-color="#7a7a7a"/><stop offset=".53" stop-color="#868686"/><stop offset=".77" stop-color="#848484"/><stop offset=".85" stop-color="#686868"/><stop offset=".99" stop-color="#646464"/></linearGradient>
<linearGradient id="ms70" href="#msT"><stop offset=".01" stop-color="#8a8a8a"/><stop offset=".49" stop-color="#787878"/><stop offset=".57" stop-color="#838383"/><stop offset=".75" stop-color="#828282"/><stop offset=".81" stop-color="#727272"/><stop offset=".83" stop-color="#6a6a6a"/><stop offset=".99" stop-color="#646464"/></linearGradient>
<linearGradient id="ms71" href="#msT"><stop offset=".01" stop-color="#898989"/><stop offset=".51" stop-color="#767676"/><stop offset=".61" stop-color="#808080"/><stop offset=".75" stop-color="#7e7e7e"/><stop offset=".83" stop-color="#696969"/><stop offset=".99" stop-color="#666"/></linearGradient>
<linearGradient id="ms72" href="#msT"><stop offset=".01" stop-color="#898989"/><stop offset=".55" stop-color="#767676"/><stop offset=".65" stop-color="#7d7d7d"/><stop offset=".75" stop-color="#7a7a7a"/><stop offset=".81" stop-color="#696969"/><stop offset=".99" stop-color="#676767"/></linearGradient>
<linearGradient id="ms73" href="#msT"><stop offset=".01" stop-color="#888"/><stop offset=".57" stop-color="#747474"/><stop offset=".69" stop-color="#7a7a7a"/><stop offset=".77" stop-color="#727272"/><stop offset=".81" stop-color="#686868"/><stop offset=".99" stop-color="#676767"/></linearGradient>
<linearGradient id="ms74" href="#msT"><stop offset=".01" stop-color="#878787"/><stop offset=".55" stop-color="#717171"/><stop offset=".71" stop-color="#777"/><stop offset=".81" stop-color="#686868"/><stop offset=".99" stop-color="#686868"/></linearGradient>
<linearGradient id="ms75" href="#msT"><stop offset=".01" stop-color="#868686"/><stop offset=".49" stop-color="#747474"/><stop offset=".61" stop-color="#707070"/><stop offset=".73" stop-color="#727272"/><stop offset=".81" stop-color="#686868"/><stop offset=".99" stop-color="#686868"/></linearGradient>
<linearGradient id="ms76" href="#msT"><stop offset=".01" stop-color="#858585"/><stop offset=".51" stop-color="#737373"/><stop offset=".63" stop-color="#6e6e6e"/><stop offset=".73" stop-color="#6f6f6f"/><stop offset=".81" stop-color="#686868"/><stop offset=".99" stop-color="#686868"/></linearGradient>
<linearGradient id="ms77" href="#msT"><stop offset=".01" stop-color="#838383"/><stop offset=".35" stop-color="#797979"/><stop offset=".65" stop-color="#6c6c6c"/><stop offset=".73" stop-color="#6c6c6c"/><stop offset=".81" stop-color="#686868"/><stop offset=".99" stop-color="#686868"/></linearGradient>
<linearGradient id="ms78" href="#msT"><stop offset=".01" stop-color="#838383"/><stop offset=".47" stop-color="#737373"/><stop offset=".65" stop-color="#696969"/><stop offset=".75" stop-color="#686868"/><stop offset=".99" stop-color="#686868"/></linearGradient>
<linearGradient id="ms79" href="#msT"><stop offset=".01" stop-color="#838383"/><stop offset=".47" stop-color="#737373"/><stop offset=".67" stop-color="#676767"/><stop offset=".99" stop-color="#686868"/></linearGradient>
<linearGradient id="ms80" href="#msT"><stop offset=".01" stop-color="#838383"/><stop offset=".45" stop-color="#737373"/><stop offset=".73" stop-color="#656565"/><stop offset=".99" stop-color="#686868"/></linearGradient>
<linearGradient id="ms81" href="#msT"><stop offset=".01" stop-color="#838383"/><stop offset=".45" stop-color="#737373"/><stop offset=".73" stop-color="#646464"/><stop offset=".99" stop-color="#686868"/></linearGradient>
<linearGradient id="ms82" href="#msT"><stop offset=".01" stop-color="#838383"/><stop offset=".43" stop-color="#737373"/><stop offset=".73" stop-color="#636363"/><stop offset=".99" stop-color="#686868"/></linearGradient>
<linearGradient id="ms83" href="#msT"><stop offset=".01" stop-color="#828282"/><stop offset=".41" stop-color="#747474"/><stop offset=".69" stop-color="#626262"/><stop offset=".99" stop-color="#676767"/></linearGradient>
<linearGradient id="ms84" href="#msT"><stop offset=".01" stop-color="#818181"/><stop offset=".41" stop-color="#737373"/><stop offset=".69" stop-color="#626262"/><stop offset=".99" stop-color="#676767"/></linearGradient>
<filter id="msF" filterUnits="userSpaceOnUse" x="1028" y="216" width="250" height="340" color-interpolation-filters="sRGB"><feGaussianBlur in="SourceGraphic" stdDeviation="1.5 2" result="b"/><feComponentTransfer in="b"><feFuncR type="table" tableValues="0 0 0 0 .5 1 1 1 .5"/><feFuncG type="table" tableValues="0 0 .5 1 1 1 .5 0 0"/><feFuncB type="table" tableValues=".5 1 1 1 .5 0 0 0 0"/></feComponentTransfer></filter>
<mask id="meshm" maskUnits="userSpaceOnUse" x="1028" y="216" width="250" height="340"><path d="M1040.8 265.1l8.3-11.2M1039.8 266.3l0.1-0.2M1037.2 272.9l7-8.5l13.4-18.2M1037.8 275.8l8-10l15.7-21M1037.8 279.2l27.1-35.4M1037.8 282.9l30.6-40.1M1038.2 286l22.6-30.1l11-14.1M1038.8 289l6.8-9.8l29.6-38.4M1039.6 291.6l7.6-11.2l31.4-40.6M1040.2 294.3l8.6-12.5l17.8-23.6l12.5-15.4l3.5-5M1040.8 297.3l9.4-14.1l17.8-23.4l13.3-16.6l5.2-7.2M1041.8 300.3l10.2-16.1l17.7-23.4l13.5-16.8l7.6-10.2M1042.8 304l3.1-6.8l7.2-11.4l18-24l12.1-14.9l11.6-15.1M1043.9 307.9l3.4-9.6l6.9-11.5l17.8-24l11.8-14.4l14.6-18.6M1045 311.5l1.2-3.3l2.1-9l6.6-11.4l18.1-24.6l27.8-34.5M1046.2 315.2l1.4-5l1.8-10.4l6.1-11l18.7-25.5l11.6-13.9l8.5-11.1l8.6-10.1M1047.3 319.3l1.3-6.1l1.7-13l6-11l18.5-24.9l11.6-14l8.8-11.5l7-8.1l4.5-2.9M1049 322l2.1-20.8l1.2-3l4.9-8.5l18.6-24.9l24.4-30.3l4-3.8l7.8-3.5M1050.8 325.3l0-10.1l1.3-13.4l1.4-3.6l4.8-7.9l18.5-24.9l25.3-31.2l3.7-2.7l11.7-4.7M1122.9 226.1l0.6-0.3M1052.4 328.4l-0.6-12.6l1.3-13l1.5-4l4.8-8l18.4-24.7l25.1-30.9l3.4-2.4l12.1-4.6l4.2-2M1054 330l-1.1-13.2l1.4-13l1.5-4.6l5.2-8.4l17.8-23.8l20-24.9l5.4-6.2l3.4-2.1l15.2-5.7l6.9-3.9M1055.4 331.9l-1.4-14.7l1.5-12.4l1.5-5l5.6-9l17.3-23l20.2-25l4.8-5.5l3-2.1l15.3-5.8l12.4-6.2M1056.6 333.1l-1.3-16.3l1.1-9l1.3-6l5.3-9l17.2-23.1l21-26l5.6-5.9l2.8-1.6l13.2-5l17.9-8M1057.7 334.2l0.1-2.4l-1.1-15l1.1-8l1.4-6.7l5-8.5l18-23.9l20.6-25.3l5-5.2l3-1.6l12.4-4.9l11-5.1l11.2-3.8M1058.8 335.9l0.2-3.1l-0.8-16.6l1.8-10.4l1.4-4.6l4.4-7l16.4-21.7l21-26l4.6-5l3.6-2.3l12.4-5l12-5.5l13.3-3.6M1060.2 338.4l-0.4-22.2l1.8-9.4l1.6-5l4.1-6.6l16.5-21.7l21.2-26.3l3.7-4l2.5-1.7l22-10.1l6.3-2.2l13.8-2.9M1062.1 341.6l-0.7-14.4l0.1-10.4l1.3-7l2.1-7l4-6.6l16.3-21.3l21.3-26.1l3.3-3.6l2.6-2l22.4-10.5l8.4-2.6l13.7-2.2M1063.8 344.8l0.1-4l-0.9-11.6l0.3-11.5l0.9-5.9l2.6-8l4-6.4l16-20.8l21.4-26.4l3-3.2l3-2.1l21.6-10.7l8.4-2.4l16.3-2.3M1065.5 348l0.2-4.8l-1-13l0.4-10.4l1.1-7l2.8-8l2-3.6l3.2-4.3l16-20.5l20-24.6l3-3l3.6-2.6l14.8-8l5.2-2.3l8.4-2.3l18.7-2.2M1067.2 350.9l0.2-5.1l-0.9-14l0.2-7l1.3-9.6l2.8-7.6l2-3.8l3.4-4.9l36.3-45.1l3.3-3.3l4.4-3.3l12-6.9l5.6-2.6l5.4-1.6l5.6-1l18.3-1.5M1068.8 354.3l0.4-4.5l-0.8-15.6l0.1-6.4l1.4-9.6l2.3-6.9l2.6-4.5l3.9-5.6l36.6-45.4l3.9-4l4.6-3.5l9-5.7l6-2.9l5.4-1.6l7.6-1.2l18.4-1.2M1070.5 357.5l0.4-5.3l-0.6-16.4l0.2-6.6l1.4-8l2.5-7l2.8-4.7l6.4-8.3l36.1-45l4.5-4.4l5.9-4.6l5.7-3.5l5-2.2l5.4-1.4l8-1.3l16-0.6l3.5-0.5M1072.2 360.2l0.4-3.4l-0.3-18l0.3-7l1.2-7l2.4-6.7l3-4.8l9.3-12.1l36.2-45l4.6-4.5l5-3.9l4.3-2.6l4.6-1.8l6-1.5l6.6-1l18-0.6l3-0.5M1073.8 363.8l0.5-4.6l-0.1-15.4l0.5-9.6l1.2-6.4l2.3-6l3-4.7l12.7-16.3l35.4-44l4.4-4.6l3.8-3l3.7-2l5-1.8l6-1.5l5.6-0.7l22.3-1.1M1075.4 366.9l0.6-4.7l0-13l0.8-11.4l1.3-7l2.1-5.3l3.1-4.7l15.5-20l35.4-44l3.5-3.6l3.5-2.5l4.6-2.1l5.4-1.7l7-1.2l9.6-0.9l7-0.2l7.7 0.4M1077 370l0.6-4.2l0.3-15.6l0.9-8.6l1.4-7.4l2.3-5.4l3.1-4.6l18.6-24l34.2-42.4l3.1-3l3.7-2.4l4.6-2l5.4-1.4l8-1.3l9-0.8l12.8 1.1M1078.7 372.7l0.5-3.5l1.3-23l1.7-8.1l2.5-5.9l3.1-4.3l21.4-27.7l32.6-40.4l3.4-3.2l4-2.4l5.3-2l6.3-1.4l7-1.1l5.4-0.3l12 1.7l2.4 0M1080 376.5l1-5.3l0.8-13.7l0.9-9.3l1.6-6.4l2.5-5.7l3-4.4l23.9-30.9l31-38.6l3.5-3.2l4.6-2.6l5.4-2l7-1.6l4.6-0.7l4 0l13.4 2l2.9 0M1081.3 379.8l1.4-6.6l1.1-13.8l1.1-8.6l1.4-5.6l2.5-5.3l3.1-4.7l26.8-34.4l29-36l3.5-3.3l4-2.4l5.6-2.2l6-1.5l4-0.4l4.4 0.1l14.6 2.1l2.8-0.1M1082.8 383.2l1.2-5.4l3-23.6l1.6-6l2.2-4.6l3.4-4.8l29.4-38l27-33.6l3.3-3l3.9-2.4l5-2.1l5-1.2l4.4-0.4l5.6 0.1l14.4 2l2.6 0M1084.2 386.5l1.2-4.8l3.5-23.5l1.8-6.4l2.1-4.4l3.2-4.6l32.2-41.6l25.4-31.4l3.3-3l3.9-2.5l4-1.6l5-1.1l5-0.4l5.4 0l14.6 2l2.4-0.1M1085.8 389.8l0.9-3.6l4.5-25.4l1.8-5.6l2.2-4.6l38-49.4l23-28.4l3.3-3l3.7-2.3l4-1.6l5-1.2l5-0.4l5.6 0l14.4 1.8l2.4 0M1087.2 393.2l5.7-27l2.2-7l2.7-5.2l4.7-6.8l34.9-45l20.8-25.9l3.4-3.1l3.6-2.3l4.6-1.9l5-1.2l5-0.5l5.4 0l14 1.7l2.8 0M1088.6 397.1l1.1-3.9l2.5-13.3l2.1-8.1l2.5-7.6l3-5.9l8.8-12.5l35.3-45.6l16.9-20.8l3.4-3.1l3.6-2.3l4.4-1.9l5-1.2l5-0.6l5.6 0l14 1.6l2.6 0M1090.2 400.6l5.6-23.9l2.8-7.9l3.2-6.1l10.6-15.5l36-46.4l14.6-18l3.3-3l3.9-2.6l4.6-2l5-1.2l5-0.6l5.4-0.1l14 1.6l2.6-0.1M1092 404l5.8-23.9l2.4-6.6l3.4-6.3l13.4-19.4l36.4-47l11.8-14.6l3.6-3.3l4-2.6l4.4-2l5-1.3l5-0.6l5.6-0.1l14 1.5l2.4-0.1M1093.8 407.7l3.4-14.9l2.6-8.8l2.3-6.2l3.1-5.7l16.3-23.9l36.5-47l9.8-11.9l3.4-3.3l4-2.6l4.6-2l5-1.3l5-0.7l6-0.1l15.6 1.6M1095.6 411.1l5.4-20.9l2.8-7.4l3-5.6l19.3-28.4l43.8-56l3.7-3.6l4.2-2.7l4.4-2l5-1.4l5.6-0.7l6-0.1l5.4 0.5l7 1.4l2.4-0.1M1097.5 415l5.8-21.2l2.9-7.3l3.8-6.7l20.7-30.6l41.8-53.4l3.7-3.6l4-2.6l4.6-2l5.4-1.6l5-0.6l5-0.1l4.6 0.4l8.4 1.7l2.6-0.1M1099.3 418.8l3.9-14.4l2.7-7.6l3.3-7.4l5.4-9.2l21.1-31l39.1-50.1l4-3.8l4-2.6l5-2.3l5-1.3l4.4-0.6l5 0l5.6 0.7l7.4 1.4l2.4 0M1101.2 422.9l4-14.1l3-8.3l3.6-7l7.8-13.3l21-31l37.1-47.4l3.5-3.4l4.1-2.6l4.5-2.1l5-1.3l4.4-0.5l5 0l13 2l2.6-0.1M1103.2 427.2l3.8-13.4l3.2-8.5l3.6-6.8l10.7-18.3l21.1-31l34.2-43.8l3.4-3.3l4.1-2.9l4.5-2l4.9-1.4l4.5-0.6l5 0l13 1.9l2.6 0M1105.1 431.6l3.5-12.4l3.6-9l3.6-6.7l13.7-23.3l20.7-30.4l31.6-40.6l3.5-3.4l4.2-3l4.3-2.1l5-1.5l5-0.6l5-0.1l5.4 0.6l7.6 1.4l2.1-0.1M1107 436l3.8-12.6l3.4-8.4l19.9-34.2l21-31l28.9-37l3.8-3.7l4-2.9l4.4-2.1l5-1.5l5-0.7l5 0l5 0.5l7.6 1.5l2.1 0M1108.8 440.8l4-12.8l3.3-7.8l23-39.4l21-31l26.1-33.6l3.6-3.4l4.2-3l4.2-2.2l5-1.5l5-0.7l5 0l5 0.5l7.6 1.5l2.1 0M1110.8 445.3l3.6-11.6l3.6-8.5l26-44.4l21.1-31l23.1-29.8l3.9-3.8l4.1-3l4.6-2.2l4.4-1.4l5-0.7l5 0l5 0.5l7.6 1.6l2.4-0.1M1113.2 449.2l3-10.5l3.6-8l28.9-49.5l21-31l20.5-26.4l4-4l4-2.9l4.6-2.3l4.4-1.4l4.6-0.7l5-0.1l5.4 0.6l7.6 1.5l2.4-0.1M1115.5 453.5l2.8-10.3l3.1-7l32.3-55l20.9-31l17.6-22.6l4-4l4-3l4.6-2.3l4.4-1.5l5-0.7l5-0.1l5 0.5l7.6 1.5l2.4-0.1M1117.9 457.4l2.8-10.2l2.9-6.4l34.7-59l21.2-31.6l14.7-18.8l4-4.1l4-3l4.6-2.3l4.4-1.5l5-0.8l5-0.1l5.6 0.5l7 1.4l2.4-0.1M1120.3 461.8l2.7-10l2.8-6.6l37.2-63l21.4-32l11.8-15l4-4.1l4-3.1l4.6-2.4l4.4-1.5l5-0.8l5-0.2l5.6 0.6l7.4 1.4l2-0.1M1122.9 465.9l2.6-10.1l2.7-6.4l39.1-66.2l21.3-32l9.4-12l4.2-4.4l4-3.1l4.6-2.4l5-1.7l5.4-0.8l5.6-0.1l5 0.7l6 1.6l2 0M1125.3 470.3l2.9-11.2l3.8-7.9l42.1-71l18.3-27.4l7.4-9.5l4.3-4.5l4.1-3.4l4.6-2.5l5-1.7l5-0.8l5-0.1l4.4 0.8l7 2.1l2 0M1128 474l2.8-10.8l4-8.4l44-74l15-22.9l7.4-10.1l4.6-4.9l4-3.3l4.4-2.7l5-1.8l4.6-0.7l5 0.1l5 0.9l6.4 2l2 0.1M1131 477.5l2.8-11.2l4.8-9.5l45.4-76.6l11.6-18l8.5-11.4l3.8-4l4.3-3.5l4.6-2.5l4.4-1.5l4-0.6l4.6 0.1l5 0.8l7 2l2 0M1134 481l1.5-7.2l1.3-4.2l6.2-11.8l46.8-79l8-12.6l8.4-11.4l3.8-4l3.8-3.1l4.4-2.5l4.6-1.5l4.4-0.7l4.6 0.1l4.4 0.8l6.6 1.8l2 0.1M1136.9 484.9l2.2-10.1l3.7-8l41.4-70.2l11.4-19.8l4.9-7.6l6.7-8.8l4-4.5l4-3.6l4-2.4l4.6-1.7l4.4-0.8l4.6 0l4.4 0.7l7 1.8l2-0.1M1140.2 488.2l1.7-9.4l3.3-7.6l9.5-16.4l34.1-57.4l10.1-18.6l8.3-11.6l5-5.9l4-3.7l4-2.8l4.6-1.9l4.4-1l4.6-0.2l4.4 0.6l7 1.6l2.2 0M1143.5 491.5l1.6-9.7l2.5-6l11.7-20.6l32.1-54l10.6-20l4.2-6l6-7.2l4.6-4.7l4-3.1l4.4-2.3l4.6-1.3l5-0.5l4 0.3l7.4 1.8l2 0M1146.8 494.8l1.7-10l2.7-6.6l13.1-23l28.6-48l10.9-21l4.6-7l5.4-6.3l4.5-4.7l3.9-3.1l4.6-2.5l4.4-1.4l4.6-0.5l5 0.4l6.4 1.4l2-0.1M1150.2 498.2l1.7-10.4l3.4-8l13.9-24.6l26.8-45l10.6-20.4l5-7.6l4.6-5.4l4.6-4.5l4-3l4-2.1l4-1.2l4.4-0.6l4.6 0.2l6.4 1.2l2-0.1M1153.8 500.8l1.7-10.6l4.2-9.4l14.5-25.6l23.3-39l4.3-7.8l6.4-13.2l4.6-7l5-6.3l3.4-3.8l4.2-3.3l4.4-2.6l4-1.4l4.4-0.7l4.6 0l6.4 0.9l2-0.2M1157.4 503.4l1.1-7.7l0.8-3.5l5.4-11.4l14.5-25.6l20.9-35l9.8-19.4l4.3-6.9l9.6-11.5l3.4-3.1l3.6-2.1l4-1.6l4.4-0.9l4.6-0.2l6.4 0.7l2-0.3M1161 505.8l1.2-7.6l0.9-3.4l6.3-13.6l14.4-25.4l18.6-31l9.8-19.6l3.8-6l9.3-11.4l3.8-3.6l3.7-2.4l4-1.7l4-0.9l4.4-0.3l6 0.5l2-0.4M1164.7 508.2l1.2-7.4l1.1-4l7.3-15.5l14.5-25.5l16.2-27l9.2-18.4l3.9-6.2l9.1-11.5l3.6-3.3l3.6-2.6l3.8-1.9l4-1l4-0.4l6 0.1l2-0.4M1168.1 511.1l1.4-7.9l1.4-4.4l8.4-17.6l14.5-25.4l14.3-24l8.2-16l3.9-6.5l8.9-11.5l3.6-3.6l3.4-2.4l3.7-1.9l4-1.3l11-1M1171.4 514.2l1.4-7.4l1.4-4.8l9.8-20.2l14.4-25.6l12.4-20.6l8-15.4l3.9-6.4l8.5-11.3l3.3-3.3l3.3-2.5l3.4-1.9l3.6-1.3l11-1.7M1174.8 517.3l1.5-8.1l1.4-4.4l11.3-23l24.8-43l7.8-14.6l3.7-6l7.9-10.8l3.1-3.2l3.5-2.8l3-1.8l3.4-1.4l10.6-2.1M1178.1 520.1l1.6-7.9l1.6-5l12.9-26l29-51l5.3-8.4l7.3-10l5.9-5.6l6.1-3.2l10-2.6M1181.3 523.3l1.9-8.5l1.7-5l14.2-28.6l25.7-44.9l6.4-10.5l6.6-9l5.6-5.6l5.8-3.3l9.3-2.9M1184.5 526.5l2.5-10.3l2.9-7l15.5-30.4l26.1-45l7.1-10.6l5.6-6l6-4.1l9-3.3M1187.6 529.6l2.5-9.8l3.2-7.6l17.1-33.4l23.1-40l6.8-10l5.9-6.6l5.6-3.9l8.4-3.6M1190.8 532.8l2.5-9.6l3.5-8.2l18.3-35.8l19.8-34.4l6.3-9.6l6-7l5.6-4.3l8-4M1193.9 535.9l2.6-9.7l3.3-7.5l10-18.9l10-20l16.4-29l6.6-10l5.4-6.6l5.6-4.6l7.8-4.5M1196.9 539.4l2.7-9.6l2.6-6.5l12.3-22.6l10.6-21.5l14.1-25l5.9-9l5.1-6l5-4.3l7-4.2M1200 542.5l2.5-8.7l2.3-5.5l13.2-23.5l12.2-25l12.9-23.6l4.4-6.4l4.7-5.6l4.5-4l6.5-4.3M1202.9 545.9l4.3-11.1l10-16.6l4.9-9l5.6-11l9.1-20l10.8-20.4l3.2-4.6l4-4.5l3.4-3.1l6.1-4.3M1225.3 516.2l8.5-16.2l9.1-21.8l9-18.4l2.2-3l3.1-3.5l8.6-6.9M1224.1 518.4l1.1-2.1M1223.5 519.5l0.3-0.5M1222.9 520.6l0.3-0.7M1207.1 547.4l15.7-26.6M1206.4 548.6l0.4-0.6M1246.2 485.8l10.4-24l3.5-4l6.7-5.7M1257.4 474.6l4-10.4l1.6-2l4.9-4.3M1264.1 471.8l2.1-4.7l3-3.5M1270.6 469.8l0.2-0.3M1208 546.5l-4.2-4.5l-7.6-3.7M1210.3 542.7l-4.5-7.4l-3-2.9l-10.6-6.1l-11.4-5.1l-6-3.9M1212.8 539.2l-4.6-8l-4-4.6l-32.7-23.8l-13.7-12l-7.1-5.6l-5.9-4.3l-4-2.1l-3.6-1.1l-5-0.6l-2.4-0.9M1215.3 535.7l-5.5-9.2l-5-5.5l-27.6-21.2l-24.4-20l-11.6-8.1l-7.4-4.3l-4-1.3l-5 0.2l-1.8-0.3M1217.6 531.9l-6.1-9.7l-5.7-6.4l-20.8-16l-25.1-20.5l-21.7-15.5l-7.4-4.7l-3-1.3l-3-0.8l-5 0.4l-2-0.3M1219.6 527.9l-6.9-10.7l-4.9-5.7l-40.9-32.7l-30.7-22l-8-5.1l-4-2l-3.4-1l-2.6 0l-3.4 0.6l-1.7-0.2M1221.3 523.7l-6.3-10.5l-4.8-5.6l-36.2-29.3l-32.3-23.1l-17.5-11.4l-4-2l-3-0.7l-2.4 0l-3.6 1l-1.6 0M1223.4 519.6l-5.7-9.8l-5-6.1l-25.2-20.9l-7.9-6l-30.9-22l-26.9-18l-4-1.8l-3-0.7l-2.6 0.1l-4 1.3l-1.4 0M1225.8 515.7l-6.6-11.1l-3-3.8l-4-3.9l-20.8-17.1l-31.4-22.6l-34.8-23.5l-7-4.3l-3.4-1.4l-3-0.5l-2.6 0.4l-3.4 1.4l-1.8 0.2M1228.3 511.7l-7.1-11.8l-3.3-4.1l-3.5-3.6l-15.9-13l-33.6-24l-43.1-29.2l-5.6-3.3l-3.4-1.4l-3.6-0.4l-2.1 0.3l-3.9 1.9l-1.8 0.3M1230.7 507.8l-7.5-12.8l-3-3.7l-3.4-3.5l-11.9-9.6l-35.2-25l-49.9-33.9l-5-3l-4-1.6l-3.6-0.3l-2.4 0.6l-4 2.4l-2 0.4M1233.2 503.8l-1.4-2.1l-3.8-7.5l-2.8-4.2l-4-4.6l-5-4.4l-35.8-25.8l-62.6-42.6l-6.6-3.7l-2.4-0.8l-2.6-0.3l-3.4 0.8l-4.6 3.4l-2 0.7M1235.7 499.8l-4.5-8.9l-2.4-4l-3.6-4.3l-4-3.6l-33.8-24.2l-72.2-49.3l-6.4-3.5l-2.6-0.6l-2.4-0.1l-3.6 1.3l-4.4 4.4l-1.9 0.9M1238.6 495.9l-4.4-8.7l-2.4-4.1l-3-3.6l-4-3.6l-29.7-21.1l-37-25l-45.3-31.4l-6.6-3.2l-2.4-0.4l-2.6 0.2l-3.4 1.9l-4.3 5.3l-1.7 1.2M1241.5 492l-4.4-8.8l-2.2-3.4l-3.1-3.7l-4.6-3.9l-24.3-17.4l-37.1-25l-55.6-38.4l-3-1.7l-3-1l-2.4-0.3l-2.6 0.5l-3.4 2.5l-4.6 6.4l-1.6 1.3M1244.2 488l-3.7-7.8l-2.2-3.4l-4-4.6l-4.5-3.8l-19.2-13.6l-37-25l-65.4-45.1l-3-1.6l-3-0.9l-2.4 0l-2 0.6l-3.6 2.9l-4.5 7.5l-1.9 1.8M1247.5 484.5l-3.6-7.3l-2.7-4l-4-4.4l-5-4.2l-13.1-9.4l-37.8-25.5l-73.5-50.6l-4-2l-3-0.7l-2.6 0l-2.4 0.9l-2 1.5l-1.6 1.8l-4.2 8.6l-1.8 2M1250.9 481.1l-4.1-7.5l-3.1-4.4l-4.1-4.4l-5.4-4.4l-9.4-6.8l-36.5-24.3l-67.9-47.1l-13.6-8.4l-4-2l-3-0.9l-3-0.1l-2.6 1l-2 1.7l-2 2.7l-4 9.3l-1.4 1.8M1254.1 477.9l-4.6-8.1l-2.9-4l-4.2-4.6l-5.6-4.5l-12-8.4l-28.8-19.1l-68.6-47.4l-23.2-14.1l-4-1.9l-3-0.7l-2.4 0.1l-2.6 1.2l-2 2.2l-1.4 2.4l-4 10.4l-1.6 2.3M1257.3 474.7l-4.4-7.9l-2.8-4l-4.3-4.6l-5.6-4.4l-17.4-12.4l-23.6-15.3l-64.8-44.9l-32.6-19.6l-4-1.9l-3-0.8l-2.6 0.1l-2.4 1.3l-1.6 1.8l-1 2.1l-4 13.4l-1.6 2.5M1261.8 472.7l-1.1-1.5l-3.9-7.4l-5.6-6.2l-7.4-6.4l-18.6-13.5l-26-17l-58.6-40.5l-42.4-25.3l-4-1.8l-3-0.5l-2.4 0.6l-2 1.6l-1.3 2l-1.1 3l-2.4 13l-0.8 2.4l-1 1.5M1266.7 470.8l-6-8.6l-9.5-9.6l-9-7.6l-22-16.5l-23-14.5l-49.6-34.2l-50.4-30.1l-4.4-2l-4-0.9l-3 0.6l-2 1.8l-1.1 2l-0.9 3.6l-1.8 15.4l-1.2 2.9M1270.2 468.3l-12-13.5l-9-8.7l-8-6.8l-24-18.8l-21-12.7l-42.5-29l-44.1-26.6l-13.4-7.2l-5.4-2.6l-4-1l-3 0.4l-2.5 2l-1.3 2.4l-1 3.6l-1 16l-0.5 2.4l-0.7 1.4M1268.8 462l-12-13.2l-9.6-9.2l-32-26.3l-20-11.6l-29.1-19.9l-7.9-5l-42.6-25.6l-23.4-12.4l-5-2.2l-3.4-0.7l-3 0.4l-2.2 1.9l-1.3 3l-0.9 4.6l-0.4 5l0 11l-0.3 2.4l-0.8 1.7M1267.8 456.5l-13.6-14.6l-9-8.8l-27-23.1l-5.4-4.2l-17.6-9.6l-25.2-17l-44.9-27l-36.9-19.5l-5-2l-3.4-0.5l-2.6 0.7l-2 2.3l-0.8 2.6l-0.5 4l-0.2 9.9l0.3 8.5l-0.2 2.5l-0.7 1.4M1266.2 450.7l-13.4-14.6l-11-10.9l-25-21.6l-6-4.6l-17-9.2l-17.7-11.6l-46.8-28l-41.5-21.9l-7.6-3.3l-3-0.4l-2.4 0.7l-2 1.8l-1.4 3.1l-0.5 5.6l0.9 19l-0.6 3.6M1265.2 445.6l-17-18.5l-8-8l-24-21l-7.4-5.8l-16-8.7l-56.6-33.8l-51.4-27.1l-7-3l-3-0.2l-2.6 0.9l-2 2.1l-1.5 3.7l-0.6 6l1.6 17l0 3.6l-0.6 1.8M1264.2 440.6l-16.4-18.3l-9-9.2l-22.6-19.8l-9-7.1l-5-3l-17-8.9l-43.1-25.5l-59.3-31.2l-7-3l-3.6-0.2l-2.4 1.2l-2 2.6l-1.4 4l-0.6 4.3l-0.2 4.3l2 15l0.1 3l-0.5 2.1M1263.2 435.7l-16-18.1l-9-9.3l-20.4-18.6l-11-8.7l-5-3l-16.6-8.3l-36.3-21.5l-67.7-35.5l-6-2.7l-3.4-0.3l-3 1.1l-2.6 2.4l-1.7 3.6l-0.7 5l-0.3 7l0.3 4l1.6 10l-0.3 4.3M1262.2 431l-16-18.6l-9.4-9.8l-18-16.7l-10.6-8.4l-7-4.2l-16.4-8.6l-28.2-16.5l-75.4-39.6l-5.4-2.5l-4-0.6l-2 0.4l-1.8 0.9l-3.2 3.2l-2.5 4.8l-0.7 4l0 7.4l0.4 6l1.2 8l-0.3 3.2M1261.8 426.7l-15.6-18.1l-14-14.6l-13.4-12.8l-10.6-7.9l-7.4-4.7l-15.6-8.3l-20.9-12.1l-86.1-45.1l-2.4-0.9l-2.6-0.3l-2.4 0.2l-2.6 0.7l-2 1.1l-1.4 1.3l-2.8 4.6l-1.8 4.1l-0.6 3.9l1.2 18.4l-0.2 2.9M1261.2 422.4l-17-19.7l-16-16.9l-9-8.4l-11.5-8.7l-8.9-5.6l-26.7-14.9l-91.9-48.1l-5-1.3l-5 0.5l-5.4 2.5l-2.8 3l-2.8 6.4l-1.4 5.6l0.1 4.4l1.3 11.6l-0.4 3.4M1260.8 418.3l-16.6-19.2l-16.4-18l-10.6-9.5l-10-7.6l-9.4-5.9l-15.1-8.3l-100.5-52.6l-3-0.9l-2.4-0.3l-6 0.7l-3 1.1l-3.6 1.9l-2.4 1.9l-1.4 1.6l-2.6 6.8l-1.6 6.8l0.2 4l1.6 11l-0.1 2.6M1259.8 413.9l-30.6-35.1l-12.4-11.7l-11-8.4l-15-8.9l-106.6-55.5l-3-0.9l-3-0.3l-3.4 0.3l-3.6 0.9l-6.4 2.9l-3.6 2.6l-2.3 2.4l-2.1 5.5l-1.9 8.5l0.1 3.6l1.9 11l0 2.6M1259.2 410l-23.4-27.6l-6.6-7.1l-12.4-12.2l-12-9.4l-10.6-6.3l-89.3-46.6l-19.1-9.6l-3-0.8l-3.6-0.1l-4 0.7l-4 1.2l-7 3.4l-4 3l-2.5 2.6l-1.9 4.4l-2.1 10.6l0.1 3.6l1.8 9.4l0.2 3.1M1258.8 406.2l-4-4.3l-18.6-22.4l-10-10.9l-9.9-9.9l-10.5-8.6l-12-6.9l-82.2-43l-23.8-11.9l-3-0.8l-3.6 0l-4 0.7l-5 1.6l-8.4 4.3l-7.1 6.1l-1.3 2l-0.8 2l-1.9 11l0.1 4l1.7 11.3M1257.8 402.1l-4.6-4.9l-15.4-19.1l-13.6-15.3l-10.4-10.2l-7.6-6l-6-3.8l-8-4.4l-72.8-38.2l-29.6-14.8l-3.6-0.8l-3.4 0l-4 0.8l-4.6 1.6l-6 2.8l-5 2.9l-7.4 6.7l-1.4 1.8l-1 2.6l-1.6 10.4l-0.1 4l1.1 7.6l-0.1 2.9M1257.2 398.5l-4-4.2l-13-16.3l-15.1-17.8l-10.3-10.5l-9.6-7.5l-7-4.4l-9-5l-63.1-33l-34.3-17.3l-3-0.7l-3.6-0.1l-4 0.7l-4.4 1.6l-7.6 3.6l-5.4 3.2l-3.6 2.6l-4.4 4.3l-2.5 3.1l-1.1 3.4l-1.5 11.6l0.2 7.4l-0.3 1.9M1256.2 394.6l-3.4-3.7l-12.6-15.9l-14.4-17.4l-9.6-9.9l-10.4-8.8l-9-5.8l-9.6-5.4l-53.4-27.9l-40-20.2l-3-0.7l-3.6-0.1l-3.4 0.6l-4 1.3l-4.6 2l-8 4.4l-8 5.7l-5.4 5.4l-2 3l-0.7 3l-1.9 14.9l-0.9 2.2M1255.8 391.2l-3.6-3.8l-21-26.7l-7.4-8.7l-10.6-10.5l-8.4-6.7l-10-6.7l-10-5.7l-44.2-23.2l-44.8-22.4l-3-0.8l-3.6-0.1l-3.4 0.6l-4 1.3l-8 3.9l-9 5.5l-5 3.6l-5.6 5.5l-3 3.9l-0.8 2.6l-1.6 10.9l-1 2.8l-1 1.1M1254.8 387.3l-3.6-3.9l-19-24.6l-9-10.5l-10.4-10.5l-11-8.5l-10-6.8l-10.6-6l-34.8-18.3l-48.2-24.1l-3.4-0.8l-3.6-0.1l-4 0.6l-4 1.3l-9 4.6l-14 9.3l-4.4 4.2l-5.3 6.6l-0.9 2.4l-1.8 9.2l-1 1.9l-1 0.7M1254.2 383.9l-4.4-5.1l-16.6-21.7l-11-12.9l-8.4-8.6l-15-11.9l-10.6-7.1l-10.4-6l-25.7-13.4l-51.3-25.8l-3.6-0.8l-3.4-0.2l-4 0.6l-4.6 1.3l-8.4 4.2l-13 8.7l-6.6 5.1l-6.8 7.9l-1.4 2.6l-2.1 7.4l-1 1.6l-1.1 0.7M1253.2 380.1l-4.4-5.2l-17.6-23.2l-11.4-13.3l-8.6-7.9l-14.4-11.6l-11-7.5l-11-6.4l-71.6-36.2l-5.4-1.1l-6.6 0.8l-7.4 2.5l-7 3.9l-14 9.7l-5.8 4.6l-7.7 9l-3.5 7.1l-2 1.6M1252.8 376.8l-4.6-5.1l-15.9-21.5l-12.1-14.2l-12-10.9l-13-10.5l-12-8.4l-10-6l-68-34.3l-5-0.9l-6 0.6l-7.4 2.3l-7 3.5l-9 6l-13 10.1l-13 14.6l-2 1.3M1251.8 373.1l-4-4.7l-14-19.1l-12.5-15.1l-13.5-12.4l-14-11.5l-12.6-9l-10.4-6.2l-63.1-31.9l-4.9-0.9l-6 0.5l-7 2.1l-8.6 4l-9 6l-10.4 8.2l-5.6 4.7l-8 8.2l-4 3l-2.4 1.2M1251.2 369.8l-3.4-4l-12.6-17.2l-12.8-15.8l-17.6-16.4l-15-12.3l-9.6-6.8l-14-8.4l-51.2-26.1l-5.2-2.4l-5.6-0.9l-6 0.8l-7.4 2.4l-8.6 4.1l-5.5 3.4l-7.5 5.7l-12.5 10.3l-7.9 7.4l-4.6 2.7l-3.1 1.3M1250.2 366l-3-3.5l-14.4-19.7l-8.9-11l-18.7-17.7l-16-13.4l-13-9.2l-13.4-8.3l-45.6-23.2l-5.4-2.5l-5-0.8l-5.6 0.6l-7.4 2.4l-8.6 4l-6 3.4l-5 3.6l-24 19.8l-6 3.3l-3.9 1.5M1249.2 362.2l-24-31.5l-19-18.3l-17-14.6l-16-11.4l-13.4-8.6l-37.2-19l-8.8-4l-5-0.9l-5.6 0.6l-7 2.4l-8.4 4l-11.6 6.9l-15 12.6l-9 6.8l-8.4 4.5l-4 1.4M1248.8 358.8l-22.2-29l-19.8-19.5l-18-15.7l-18.6-13.4l-14-9l-27.9-14.4l-13.1-5.7l-4.4-0.9l-5.6 0.6l-5.4 1.7l-8 3.8l-7.6 4.1l-7.4 4.7l-15 12.8l-6 4.4l-13 6.5l-3.6 1.2M1247.8 354.9l-4-4.7l-16.1-21.4l-19.9-20l-18.1-16l-20.9-15.6l-13.6-9.1l-21.4-11.4l-9.2-3.9l-8.4-3l-4.4-1l-3.6 0.1l-5 1.3l-5.4 2.4l-12 6.5l-8.6 5.4l-15 12.8l-4 2.9l-4 2.2l-13 5.7l-2.4 0.7M1246.2 350.6l-4-4.8l-10.4-14.6l-2.9-3.4l-19.7-20l-18.3-16.6l-21.7-16.5l-13.4-9.5l-18.8-10.4l-6.1-2.6l-10.4-3.4l-6.7-1.9l-3.6-0.4l-4.1 0.7l-5.3 2.1l-12.6 7l-11 7.1l-14 11.9l-3.4 2.5l-3.6 1.8l-8.5 3.2l-7.5 3.3l-2 0.5M1245.2 346.8l-3-3.5l-9.4-13.1l-2.9-3.4l-19.1-19.8l-17.6-16.2l-34-26.3l-18.1-10.7l-4.9-2.3l-5.4-1.9l-18.6-4.9l-3.4 0l-4 1.1l-7.6 3.6l-15.4 9.7l-6.6 4.7l-9.4 8.2l-5 3.6l-22.6 8.7M1243.8 342.5l-13-16.9l-19.6-20.4l-17-15.8l-33.4-26.5l-17.6-10.7l-5-2.5l-5-1.7l-20.4-4.9l-3.6-0.2l-3.4 0.8l-8 3.8l-15 9.8l-8 5.8l-8.6 7.2l-4 2.6l-4.4 2.1l-20 7M1242.8 338.6l-9-11.7l-11-11.9l-13-13.4l-14.6-13.6l-33.2-26.8l-17.2-10.6l-5.6-2.7l-4.4-1.7l-22-4.6l-3.6-0.3l-3 0.5l-5.4 2.5l-6 3.6l-14 9.7l-16 12.2l-8.2 3.4l-18.8 6.5M1241.2 334.2l-6.7-8.4l-17.3-18.7l-7.4-7.6l-14-13.2l-32.6-26.5l-17.9-11l-5.1-2.6l-5-1.8l-23-4.3l-3.4-0.2l-3 0.5l-5 2.4l-5.6 3.4l-29 20.9l-12 4.9l-16.4 5.5M1240.2 330.3l-24.4-26.8l-19.6-18.8l-32-26.4l-17.9-11.1l-5.5-2.7l-5-1.8l-24-3.9l-3.6-0.3l-2.4 0.4l-5 2.4l-4.6 2.8l-20.4 15.2l-7.6 4.9l-16 6.4l-14.4 4.7M1238.8 325.9l-23.8-25.1l-14.2-14.1l-32.6-27.5l-4-3l-14.5-9l-7.7-4l-5.8-2l-24.4-3.7l-4-0.2l-2.6 0.4l-8.4 4.7l-19 14.3l-7 4.4l-20.6 8.1l-10 3.5l-3 0.6M1235.8 320.6l-5.6-5.4l-14.4-15.6l-14.5-14.4l-32.5-27.7l-4-2.9l-15-9.2l-7.6-3.8l-6-2l-24.4-3.2l-4-0.3l-2.6 0.3l-2.9 1.4l-5.5 3.3l-15.6 12.1l-7.4 4.8l-26 10l-7.6 2.5l-3 0.5M1232.8 315.4l-16.5-17.2l-14.1-14l-33-28.3l-18.4-11.7l-8-4l-6-2l-5-0.9l-20.6-2.1l-4-0.2l-2.4 0.4l-3 1.4l-5.6 3.4l-13 10.4l-7.4 4.8l-30 11.2l-7.3 1.9M1229.3 309.7l-26.5-26.8l-32.6-28.2l-19.2-11.9l-7.8-3.9l-6.4-2.2l-5-0.7l-21.6-1.9l-3.4-0.2l-2.6 0.5l-2.8 1.4l-5.2 3.3l-12 9.7l-6 3.8l-33 12l-5 1.2M1226.8 304.9l-23.4-23.1l-32.6-28.6l-19.6-11.9l-8-3.8l-6.4-2.1l-5-0.7l-21.6-1.6l-4-0.2l-2 0.3l-2.4 1.2l-5 3.2l-11.6 9.2l-5.4 3.4l-17 5.7l-17 6.3l-3.9 0.9M1223.6 299.6l-7.4-6.8l-12-12l-33-29l-19-11.6l-8.5-4l-6.5-2l-5.4-0.8l-23-1.3l-4.8 0.1l-4.8 2.6l-13 10l-4.4 2.7l-20.4 6.7l-13.6 5.1l-4.1 1M1220.2 294.4l-15.3-14.6l-32.8-29l-19.3-11.7l-8.6-4l-7-2.2l-5.4-0.6l-9-0.2l-15.6-1.1l-3.4 0.3l-3.6 1.8l-13 9.6l-4 2.3l-33.4 11.4l-4.1 0.9M1216.5 289l-10.8-10.2l-32.9-29.2l-19.6-11.7l-9-4.1l-6.4-2l-6.6-0.7l-9-0.1l-16-0.9l-2.4 0.2l-3 1.4l-12 8.6l-4.6 2.3l-35.2 11.4M1213.8 284.4l-40.6-36.1l-19.4-11.5l-9-4.1l-7-2.1l-6-0.6l-9.6 0.1l-16-1.1l-2.4 0.2l-2.6 1.2l-11 7.4l-4 2l-14.2 5l-19.5 5.7M1102.9 228.2l-9.1 6l-5 2.4l-19.2 6.7l-11.3 3.5l-3.2 0.6M1210.2 279.1l-13-11l-22.4-20.3l-15.7-9.6l-6.3-3.3l-8.6-3.7l-8-1.9l-5.4-0.4l-9.6 0.1l-15.4-1.2l-2.3 0.2M1099.3 229.2l-0.3 0.3M1098.6 229.8l-1 0.6M1097 230.8l-0.7 0.4M1096.2 231.2l-2.9 1.5M1093.1 232.8l-0.6 0.2M1206.2 273.8l-9.4-7.8l-21-18.9l-20-12l-10.6-4.7l-7.4-2l-6-0.5l-10.6 0.1l-8.4-0.8M1201.6 268.1l-8.4-6.8l-17-15.4l-19.4-11.6l-11-4.9l-7-1.9l-5.6-0.6l-13.9-0.2M1196.7 262.2l-19.9-17.4l-19-11.3l-11-4.8l-6.6-1.9l-5.4-0.9l-10.4-0.3M1191.1 255.6l-13.8-11.8l-19.1-11.3l-7.4-3.4l-7-2.6l-7-1.5l-8.6-0.7M1186.2 249.4l-8.4-6.9l-19-11.1l-13-5.5l-6.6-1.7l-5.2-1M1181.1 243.1l-3.9-2.6l-17.4-10l-9-4l-7.6-2.7" stroke="#fff" stroke-width="0.8" fill="none"/></mask>
<clipPath id="meshc"><path d="M1037 270.5L1045 258L1055.8 246.6L1066 243L1078 239.8L1090 234L1101.8 227.9L1112 227L1122 226L1129 224L1135.9 222.8L1145 223.5L1153 226L1161 229.5L1168 233.9L1180 241.5L1195 260L1209.8 278L1224 300L1239 325.7L1248 355L1253.6 380L1259 406L1262.7 431.5L1268 457L1271 470L1266 471L1257 475L1246 486L1235 501L1224 519L1217 533.7L1206 549.5L1195 537.4L1180.6 522.8L1166 509.5L1150 498.4L1136 484L1126 471.7L1111 446L1100 420.6L1089 398.7L1078.4 373L1067 351L1058 335L1052 328L1047 319L1042 302L1037.9 286.7Z"/></clipPath>
<linearGradient id="cbB" x1="0" y1="0" x2="0" y2="1"><stop offset="0" stop-color="#800000"/><stop offset="0.0625" stop-color="#bf0000"/><stop offset="0.125" stop-color="#f00"/><stop offset="0.1875" stop-color="#ff4000"/><stop offset="0.25" stop-color="#ff8000"/><stop offset="0.3125" stop-color="#ffbf00"/><stop offset="0.375" stop-color="#ff0"/><stop offset="0.4375" stop-color="#bfff40"/><stop offset="0.5" stop-color="#80ff80"/><stop offset="0.5625" stop-color="#40ffbf"/><stop offset="0.625" stop-color="#0ff"/><stop offset="0.6875" stop-color="#00bfff"/><stop offset="0.75" stop-color="#0080ff"/><stop offset="0.8125" stop-color="#0040ff"/><stop offset="0.875" stop-color="#00f"/><stop offset="0.9375" stop-color="#0000bf"/><stop offset="1" stop-color="#000080"/></linearGradient>
<linearGradient id="heaT" gradientUnits="userSpaceOnUse" x1="1564.8" x2="2070.8" y1="0" y2="0"/>
<linearGradient id="hea0" href="#heaT"><stop offset=".004" stop-color="#838383"/><stop offset=".238" stop-color="#6d6d6d"/><stop offset=".316" stop-color="#5b5b5b"/><stop offset=".418" stop-color="#595959"/><stop offset=".473" stop-color="#616161"/><stop offset=".512" stop-color="#727272"/><stop offset=".598" stop-color="#606060"/><stop offset=".738" stop-color="#2f2f2f"/><stop offset=".77" stop-color="#2a2a2a"/><stop offset=".832" stop-color="#353535"/><stop offset=".895" stop-color="#545454"/><stop offset=".973" stop-color="#5a5a5a"/><stop offset=".996" stop-color="#585858"/></linearGradient>
<linearGradient id="hea1" href="#heaT"><stop offset=".004" stop-color="#848484"/><stop offset=".09" stop-color="#7d7d7d"/><stop offset=".254" stop-color="#696969"/><stop offset=".324" stop-color="#5a5a5a"/><stop offset=".418" stop-color="#595959"/><stop offset=".473" stop-color="#616161"/><stop offset=".512" stop-color="#727272"/><stop offset=".598" stop-color="#606060"/><stop offset=".738" stop-color="#2f2f2f"/><stop offset=".77" stop-color="#2a2a2a"/><stop offset=".832" stop-color="#353535"/><stop offset=".895" stop-color="#545454"/><stop offset=".973" stop-color="#5a5a5a"/><stop offset=".996" stop-color="#585858"/></linearGradient>
<linearGradient id="hea2" href="#heaT"><stop offset=".004" stop-color="#868686"/><stop offset=".082" stop-color="#7f7f7f"/><stop offset=".254" stop-color="#696969"/><stop offset=".324" stop-color="#5a5a5a"/><stop offset=".418" stop-color="#595959"/><stop offset=".473" stop-color="#616161"/><stop offset=".512" stop-color="#727272"/><stop offset=".598" stop-color="#606060"/><stop offset=".738" stop-color="#303030"/><stop offset=".777" stop-color="#2c2c2c"/><stop offset=".832" stop-color="#363636"/><stop offset=".895" stop-color="#555"/><stop offset=".98" stop-color="#595959"/><stop offset=".996" stop-color="#585858"/></linearGradient>
<linearGradient id="hea3" href="#heaT"><stop offset=".004" stop-color="#878787"/><stop offset=".074" stop-color="#828282"/><stop offset=".262" stop-color="#666"/><stop offset=".324" stop-color="#5a5a5a"/><stop offset=".418" stop-color="#595959"/><stop offset=".473" stop-color="#606060"/><stop offset=".512" stop-color="#727272"/><stop offset=".598" stop-color="#606060"/><stop offset=".738" stop-color="#313131"/><stop offset=".777" stop-color="#2e2e2e"/><stop offset=".832" stop-color="#373737"/><stop offset=".895" stop-color="#555"/><stop offset=".98" stop-color="#5a5a5a"/><stop offset=".996" stop-color="#585858"/></linearGradient>
<linearGradient id="hea4" href="#heaT"><stop offset=".004" stop-color="#878787"/><stop offset=".074" stop-color="#818181"/><stop offset=".254" stop-color="#676767"/><stop offset=".324" stop-color="#595959"/><stop offset=".418" stop-color="#595959"/><stop offset=".473" stop-color="#606060"/><stop offset=".512" stop-color="#727272"/><stop offset=".598" stop-color="#606060"/><stop offset=".738" stop-color="#333"/><stop offset=".777" stop-color="#303030"/><stop offset=".832" stop-color="#383838"/><stop offset=".895" stop-color="#565656"/><stop offset=".98" stop-color="#595959"/><stop offset=".996" stop-color="#585858"/></linearGradient>
<linearGradient id="hea5" href="#heaT"><stop offset=".004" stop-color="#868686"/><stop offset=".074" stop-color="#808080"/><stop offset=".254" stop-color="#646464"/><stop offset=".316" stop-color="#585858"/><stop offset=".426" stop-color="#595959"/><stop offset=".473" stop-color="#606060"/><stop offset=".512" stop-color="#717171"/><stop offset=".598" stop-color="#606060"/><stop offset=".738" stop-color="#353535"/><stop offset=".777" stop-color="#323232"/><stop offset=".832" stop-color="#3a3a3a"/><stop offset=".895" stop-color="#565656"/><stop offset=".98" stop-color="#595959"/><stop offset=".996" stop-color="#585858"/></linearGradient>
<linearGradient id="hea6" href="#heaT"><stop offset=".004" stop-color="#838383"/><stop offset=".074" stop-color="#7e7e7e"/><stop offset=".254" stop-color="#606060"/><stop offset=".316" stop-color="#565656"/><stop offset=".426" stop-color="#585858"/><stop offset=".473" stop-color="#5f5f5f"/><stop offset=".512" stop-color="#717171"/><stop offset=".605" stop-color="#5d5d5d"/><stop offset=".738" stop-color="#363636"/><stop offset=".777" stop-color="#333"/><stop offset=".84" stop-color="#3d3d3d"/><stop offset=".895" stop-color="#565656"/><stop offset=".988" stop-color="#585858"/><stop offset=".996" stop-color="#575757"/></linearGradient>
<linearGradient id="hea7" href="#heaT"><stop offset=".004" stop-color="#808080"/><stop offset=".082" stop-color="#787878"/><stop offset=".238" stop-color="#606060"/><stop offset=".293" stop-color="#535353"/><stop offset=".434" stop-color="#585858"/><stop offset=".48" stop-color="#626262"/><stop offset=".512" stop-color="#6f6f6f"/><stop offset=".605" stop-color="#5b5b5b"/><stop offset=".738" stop-color="#373737"/><stop offset=".785" stop-color="#353535"/><stop offset=".84" stop-color="#3c3c3c"/><stop offset=".879" stop-color="#4b4b4b"/><stop offset=".902" stop-color="#565656"/><stop offset=".996" stop-color="#565656"/></linearGradient>
<linearGradient id="hea8" href="#heaT"><stop offset=".004" stop-color="#7b7b7b"/><stop offset=".098" stop-color="#707070"/><stop offset=".215" stop-color="#606060"/><stop offset=".285" stop-color="#4d4d4d"/><stop offset=".465" stop-color="#5a5a5a"/><stop offset=".512" stop-color="#6d6d6d"/><stop offset=".613" stop-color="#575757"/><stop offset=".738" stop-color="#373737"/><stop offset=".793" stop-color="#353535"/><stop offset=".848" stop-color="#3c3c3c"/><stop offset=".879" stop-color="#474747"/><stop offset=".895" stop-color="#535353"/><stop offset=".996" stop-color="#545454"/></linearGradient>
<linearGradient id="hea9" href="#heaT"><stop offset=".004" stop-color="#747474"/><stop offset=".207" stop-color="#5b5b5b"/><stop offset=".277" stop-color="#454545"/><stop offset=".473" stop-color="#5a5a5a"/><stop offset=".512" stop-color="#696969"/><stop offset=".637" stop-color="#4d4d4d"/><stop offset=".762" stop-color="#333"/><stop offset=".84" stop-color="#373737"/><stop offset=".879" stop-color="#414141"/><stop offset=".895" stop-color="#505050"/><stop offset=".996" stop-color="#515151"/></linearGradient>
<linearGradient id="hea10" href="#heaT"><stop offset=".004" stop-color="#6b6b6b"/><stop offset=".145" stop-color="#595959"/><stop offset=".199" stop-color="#555"/><stop offset=".27" stop-color="#3c3c3c"/><stop offset=".379" stop-color="#4b4b4b"/><stop offset=".473" stop-color="#565656"/><stop offset=".512" stop-color="#646464"/><stop offset=".738" stop-color="#353535"/><stop offset=".84" stop-color="#343434"/><stop offset=".879" stop-color="#3b3b3b"/><stop offset=".895" stop-color="#4d4d4d"/><stop offset=".996" stop-color="#4e4e4e"/></linearGradient>
<linearGradient id="hea11" href="#heaT"><stop offset=".004" stop-color="#626262"/><stop offset=".098" stop-color="#535353"/><stop offset=".145" stop-color="#4f4f4f"/><stop offset=".199" stop-color="#4e4e4e"/><stop offset=".262" stop-color="#343434"/><stop offset=".371" stop-color="#474747"/><stop offset=".48" stop-color="#545454"/><stop offset=".52" stop-color="#5c5c5c"/><stop offset=".73" stop-color="#353535"/><stop offset=".848" stop-color="#323232"/><stop offset=".879" stop-color="#363636"/><stop offset=".895" stop-color="#4a4a4a"/><stop offset=".996" stop-color="#4b4b4b"/></linearGradient>
<linearGradient id="hea12" href="#heaT"><stop offset=".004" stop-color="#595959"/><stop offset=".098" stop-color="#484848"/><stop offset=".137" stop-color="#434343"/><stop offset=".191" stop-color="#494949"/><stop offset=".262" stop-color="#2d2d2d"/><stop offset=".363" stop-color="#444"/><stop offset=".48" stop-color="#4e4e4e"/><stop offset=".52" stop-color="#545454"/><stop offset=".73" stop-color="#343434"/><stop offset=".855" stop-color="#303030"/><stop offset=".879" stop-color="#323232"/><stop offset=".895" stop-color="#484848"/><stop offset=".996" stop-color="#494949"/></linearGradient>
<linearGradient id="hea13" href="#heaT"><stop offset=".004" stop-color="#525252"/><stop offset=".09" stop-color="#424242"/><stop offset=".129" stop-color="#393939"/><stop offset=".191" stop-color="#444"/><stop offset=".262" stop-color="#292929"/><stop offset=".355" stop-color="#414141"/><stop offset=".488" stop-color="#4b4b4b"/><stop offset=".527" stop-color="#4d4d4d"/><stop offset=".738" stop-color="#333"/><stop offset=".863" stop-color="#2e2e2e"/><stop offset=".879" stop-color="#2f2f2f"/><stop offset=".895" stop-color="#474747"/><stop offset=".996" stop-color="#474747"/></linearGradient>
<linearGradient id="hea14" href="#heaT"><stop offset=".004" stop-color="#4d4d4d"/><stop offset=".09" stop-color="#3c3c3c"/><stop offset=".121" stop-color="#323232"/><stop offset=".191" stop-color="#414141"/><stop offset=".262" stop-color="#272727"/><stop offset=".355" stop-color="#404040"/><stop offset=".527" stop-color="#484848"/><stop offset=".77" stop-color="#303030"/><stop offset=".879" stop-color="#2d2d2d"/><stop offset=".895" stop-color="#464646"/><stop offset=".996" stop-color="#464646"/></linearGradient>
<linearGradient id="hea15" href="#heaT"><stop offset=".004" stop-color="#494949"/><stop offset=".082" stop-color="#3c3c3c"/><stop offset=".121" stop-color="#2e2e2e"/><stop offset=".191" stop-color="#3f3f3f"/><stop offset=".262" stop-color="#262626"/><stop offset=".363" stop-color="#414141"/><stop offset=".535" stop-color="#434343"/><stop offset=".848" stop-color="#2c2c2c"/><stop offset=".879" stop-color="#2c2c2c"/><stop offset=".895" stop-color="#454545"/><stop offset=".996" stop-color="#464646"/></linearGradient>
<linearGradient id="hea16" href="#heaT"><stop offset=".004" stop-color="#474747"/><stop offset=".082" stop-color="#3a3a3a"/><stop offset=".121" stop-color="#2d2d2d"/><stop offset=".191" stop-color="#3e3e3e"/><stop offset=".262" stop-color="#272727"/><stop offset=".363" stop-color="#414141"/><stop offset=".52" stop-color="#434343"/><stop offset=".855" stop-color="#2b2b2b"/><stop offset=".879" stop-color="#2b2b2b"/><stop offset=".895" stop-color="#454545"/><stop offset=".996" stop-color="#454545"/></linearGradient>
<linearGradient id="hea17" href="#heaT"><stop offset=".004" stop-color="#464646"/><stop offset=".09" stop-color="#373737"/><stop offset=".121" stop-color="#2e2e2e"/><stop offset=".191" stop-color="#3e3e3e"/><stop offset=".262" stop-color="#292929"/><stop offset=".371" stop-color="#424242"/><stop offset=".465" stop-color="#424242"/><stop offset=".598" stop-color="#3a3a3a"/><stop offset=".863" stop-color="#2a2a2a"/><stop offset=".879" stop-color="#2b2b2b"/><stop offset=".895" stop-color="#454545"/><stop offset=".996" stop-color="#454545"/></linearGradient>
<linearGradient id="hea18" href="#heaT"><stop offset=".004" stop-color="#454545"/><stop offset=".09" stop-color="#383838"/><stop offset=".129" stop-color="#313131"/><stop offset=".191" stop-color="#3e3e3e"/><stop offset=".262" stop-color="#2b2b2b"/><stop offset=".379" stop-color="#434343"/><stop offset=".551" stop-color="#3f3f3f"/><stop offset=".855" stop-color="#282828"/><stop offset=".879" stop-color="#2a2a2a"/><stop offset=".895" stop-color="#444"/><stop offset=".996" stop-color="#454545"/></linearGradient>
<linearGradient id="hea19" href="#heaT"><stop offset=".004" stop-color="#454545"/><stop offset=".129" stop-color="#343434"/><stop offset=".199" stop-color="#3e3e3e"/><stop offset=".262" stop-color="#2d2d2d"/><stop offset=".387" stop-color="#434343"/><stop offset=".59" stop-color="#3c3c3c"/><stop offset=".801" stop-color="#2a2a2a"/><stop offset=".855" stop-color="#262626"/><stop offset=".879" stop-color="#292929"/><stop offset=".895" stop-color="#444"/><stop offset=".996" stop-color="#454545"/></linearGradient>
<linearGradient id="hea20" href="#heaT"><stop offset=".004" stop-color="#454545"/><stop offset=".129" stop-color="#373737"/><stop offset=".199" stop-color="#3e3e3e"/><stop offset=".27" stop-color="#303030"/><stop offset=".387" stop-color="#434343"/><stop offset=".59" stop-color="#3e3e3e"/><stop offset=".793" stop-color="#2b2b2b"/><stop offset=".848" stop-color="#232323"/><stop offset=".879" stop-color="#282828"/><stop offset=".895" stop-color="#434343"/><stop offset=".996" stop-color="#454545"/></linearGradient>
<linearGradient id="hea21" href="#heaT"><stop offset=".004" stop-color="#454545"/><stop offset=".129" stop-color="#393939"/><stop offset=".207" stop-color="#3d3d3d"/><stop offset=".27" stop-color="#313131"/><stop offset=".395" stop-color="#424242"/><stop offset=".52" stop-color="#434343"/><stop offset=".582" stop-color="#444"/><stop offset=".684" stop-color="#373737"/><stop offset=".793" stop-color="#2b2b2b"/><stop offset=".84" stop-color="#222"/><stop offset=".879" stop-color="#272727"/><stop offset=".895" stop-color="#434343"/><stop offset=".996" stop-color="#454545"/></linearGradient>
<linearGradient id="hea22" href="#heaT"><stop offset=".004" stop-color="#464646"/><stop offset=".145" stop-color="#3c3c3c"/><stop offset=".207" stop-color="#3d3d3d"/><stop offset=".27" stop-color="#323232"/><stop offset=".395" stop-color="#414141"/><stop offset=".512" stop-color="#434343"/><stop offset=".574" stop-color="#4d4d4d"/><stop offset=".652" stop-color="#3c3c3c"/><stop offset=".793" stop-color="#2c2c2c"/><stop offset=".84" stop-color="#232323"/><stop offset=".879" stop-color="#282828"/><stop offset=".895" stop-color="#434343"/><stop offset=".996" stop-color="#464646"/></linearGradient>
<linearGradient id="hea23" href="#heaT"><stop offset=".004" stop-color="#474747"/><stop offset=".152" stop-color="#3e3e3e"/><stop offset=".207" stop-color="#3d3d3d"/><stop offset=".27" stop-color="#333"/><stop offset=".387" stop-color="#3f3f3f"/><stop offset=".504" stop-color="#424242"/><stop offset=".566" stop-color="#595959"/><stop offset=".645" stop-color="#424242"/><stop offset=".793" stop-color="#303030"/><stop offset=".84" stop-color="#272727"/><stop offset=".879" stop-color="#2a2a2a"/><stop offset=".895" stop-color="#434343"/><stop offset=".996" stop-color="#464646"/></linearGradient>
<linearGradient id="hea24" href="#heaT"><stop offset=".004" stop-color="#494949"/><stop offset=".168" stop-color="#3f3f3f"/><stop offset=".215" stop-color="#3c3c3c"/><stop offset=".27" stop-color="#343434"/><stop offset=".387" stop-color="#3f3f3f"/><stop offset=".496" stop-color="#424242"/><stop offset=".535" stop-color="#585858"/><stop offset=".566" stop-color="#656565"/><stop offset=".598" stop-color="#5b5b5b"/><stop offset=".645" stop-color="#4a4a4a"/><stop offset=".809" stop-color="#333"/><stop offset=".855" stop-color="#303030"/><stop offset=".879" stop-color="#2f2f2f"/><stop offset=".895" stop-color="#454545"/><stop offset=".996" stop-color="#484848"/></linearGradient>
<linearGradient id="hea25" href="#heaT"><stop offset=".004" stop-color="#4c4c4c"/><stop offset=".168" stop-color="#3f3f3f"/><stop offset=".223" stop-color="#3b3b3b"/><stop offset=".27" stop-color="#343434"/><stop offset=".387" stop-color="#3e3e3e"/><stop offset=".488" stop-color="#414141"/><stop offset=".512" stop-color="#515151"/><stop offset=".527" stop-color="#5e5e5e"/><stop offset=".574" stop-color="#6f6f6f"/><stop offset=".613" stop-color="#5e5e5e"/><stop offset=".684" stop-color="#4d4d4d"/><stop offset=".848" stop-color="#393939"/><stop offset=".871" stop-color="#3b3b3b"/><stop offset=".879" stop-color="#373737"/><stop offset=".895" stop-color="#484848"/><stop offset=".996" stop-color="#4a4a4a"/></linearGradient>
<linearGradient id="hea26" href="#heaT"><stop offset=".004" stop-color="#515151"/><stop offset=".152" stop-color="#404040"/><stop offset=".215" stop-color="#3d3d3d"/><stop offset=".27" stop-color="#353535"/><stop offset=".387" stop-color="#3e3e3e"/><stop offset=".48" stop-color="#414141"/><stop offset=".504" stop-color="#505050"/><stop offset=".52" stop-color="#616161"/><stop offset=".574" stop-color="#767676"/><stop offset=".605" stop-color="#6b6b6b"/><stop offset=".652" stop-color="#5b5b5b"/><stop offset=".746" stop-color="#4e4e4e"/><stop offset=".855" stop-color="#464646"/><stop offset=".871" stop-color="#464646"/><stop offset=".879" stop-color="#414141"/><stop offset=".895" stop-color="#4c4c4c"/><stop offset=".996" stop-color="#4f4f4f"/></linearGradient>
<linearGradient id="hea27" href="#heaT"><stop offset=".004" stop-color="#585858"/><stop offset=".145" stop-color="#424242"/><stop offset=".215" stop-color="#3e3e3e"/><stop offset=".27" stop-color="#353535"/><stop offset=".387" stop-color="#3e3e3e"/><stop offset=".473" stop-color="#414141"/><stop offset=".496" stop-color="#4e4e4e"/><stop offset=".52" stop-color="#666"/><stop offset=".574" stop-color="#797979"/><stop offset=".605" stop-color="#707070"/><stop offset=".684" stop-color="#5d5d5d"/><stop offset=".84" stop-color="#4f4f4f"/><stop offset=".887" stop-color="#4d4d4d"/><stop offset=".902" stop-color="#535353"/><stop offset=".996" stop-color="#565656"/></linearGradient>
<linearGradient id="hea28" href="#heaT"><stop offset=".004" stop-color="#5e5e5e"/><stop offset=".152" stop-color="#444"/><stop offset=".223" stop-color="#3e3e3e"/><stop offset=".27" stop-color="#373737"/><stop offset=".387" stop-color="#404040"/><stop offset=".465" stop-color="#424242"/><stop offset=".488" stop-color="#4d4d4d"/><stop offset=".52" stop-color="#696969"/><stop offset=".582" stop-color="#797979"/><stop offset=".676" stop-color="#636363"/><stop offset=".762" stop-color="#5a5a5a"/><stop offset=".887" stop-color="#565656"/><stop offset=".996" stop-color="#5e5e5e"/></linearGradient>
<linearGradient id="hea29" href="#heaT"><stop offset=".004" stop-color="#646464"/><stop offset=".168" stop-color="#484848"/><stop offset=".23" stop-color="#404040"/><stop offset=".277" stop-color="#3a3a3a"/><stop offset=".395" stop-color="#424242"/><stop offset=".465" stop-color="#454545"/><stop offset=".496" stop-color="#5c5c5c"/><stop offset=".52" stop-color="#6b6b6b"/><stop offset=".59" stop-color="#787878"/><stop offset=".715" stop-color="#5f5f5f"/><stop offset=".879" stop-color="#5d5d5d"/><stop offset=".996" stop-color="#666"/></linearGradient>
<linearGradient id="hea30" href="#heaT"><stop offset=".004" stop-color="#686868"/><stop offset=".238" stop-color="#434343"/><stop offset=".285" stop-color="#3d3d3d"/><stop offset=".379" stop-color="#454545"/><stop offset=".457" stop-color="#434343"/><stop offset=".512" stop-color="#6a6a6a"/><stop offset=".59" stop-color="#787878"/><stop offset=".738" stop-color="#616161"/><stop offset=".871" stop-color="#5e5e5e"/><stop offset=".91" stop-color="#686868"/><stop offset=".996" stop-color="#6c6c6c"/></linearGradient>
<linearGradient id="hea31" href="#heaT"><stop offset=".004" stop-color="#6c6c6c"/><stop offset=".238" stop-color="#4a4a4a"/><stop offset=".285" stop-color="#3e3e3e"/><stop offset=".363" stop-color="#4b4b4b"/><stop offset=".426" stop-color="#464646"/><stop offset=".457" stop-color="#444"/><stop offset=".512" stop-color="#6b6b6b"/><stop offset=".59" stop-color="#7b7b7b"/><stop offset=".746" stop-color="#686868"/><stop offset=".871" stop-color="#626262"/><stop offset=".91" stop-color="#6e6e6e"/><stop offset=".957" stop-color="#707070"/><stop offset=".996" stop-color="#707070"/></linearGradient>
<linearGradient id="hea32" href="#heaT"><stop offset=".004" stop-color="#767676"/><stop offset=".246" stop-color="#4f4f4f"/><stop offset=".285" stop-color="#434343"/><stop offset=".348" stop-color="#525252"/><stop offset=".418" stop-color="#4d4d4d"/><stop offset=".449" stop-color="#474747"/><stop offset=".48" stop-color="#5a5a5a"/><stop offset=".551" stop-color="#808080"/><stop offset=".598" stop-color="#878787"/><stop offset=".855" stop-color="#6f6f6f"/><stop offset=".879" stop-color="#6c6c6c"/><stop offset=".918" stop-color="#7c7c7c"/><stop offset=".934" stop-color="#828282"/><stop offset=".988" stop-color="#737373"/><stop offset=".996" stop-color="#737373"/></linearGradient>
<linearGradient id="hea33" href="#heaT"><stop offset=".004" stop-color="#8d8d8d"/><stop offset=".176" stop-color="#646464"/><stop offset=".246" stop-color="#5a5a5a"/><stop offset=".285" stop-color="#4f4f4f"/><stop offset=".355" stop-color="#5b5b5b"/><stop offset=".426" stop-color="#565656"/><stop offset=".457" stop-color="#555"/><stop offset=".52" stop-color="#7a7a7a"/><stop offset=".543" stop-color="#939393"/><stop offset=".59" stop-color="#a4a4a4"/><stop offset=".754" stop-color="#9a9a9a"/><stop offset=".848" stop-color="#8a8a8a"/><stop offset=".879" stop-color="#7b7b7b"/><stop offset=".902" stop-color="#8d8d8d"/><stop offset=".934" stop-color="#9c9c9c"/><stop offset=".988" stop-color="#7c7c7c"/><stop offset=".996" stop-color="#7a7a7a"/></linearGradient>
<linearGradient id="hea34" href="#heaT"><stop offset=".004" stop-color="#adadad"/><stop offset=".184" stop-color="#757575"/><stop offset=".293" stop-color="#656565"/><stop offset=".465" stop-color="#6b6b6b"/><stop offset=".504" stop-color="#7b7b7b"/><stop offset=".543" stop-color="#a9a9a9"/><stop offset=".59" stop-color="#bebebe"/><stop offset=".707" stop-color="#bfbfbf"/><stop offset=".762" stop-color="#b3b3b3"/><stop offset=".816" stop-color="#a3a3a3"/><stop offset=".855" stop-color="#989898"/><stop offset=".879" stop-color="#8d8d8d"/><stop offset=".895" stop-color="#a5a5a5"/><stop offset=".934" stop-color="#b2b2b2"/><stop offset=".965" stop-color="#a1a1a1"/><stop offset=".996" stop-color="#888"/></linearGradient>
<linearGradient id="hea35" href="#heaT"><stop offset=".004" stop-color="#c2c2c2"/><stop offset=".113" stop-color="#a9a9a9"/><stop offset=".199" stop-color="#8e8e8e"/><stop offset=".324" stop-color="#7e7e7e"/><stop offset=".48" stop-color="#808080"/><stop offset=".512" stop-color="#8f8f8f"/><stop offset=".543" stop-color="#b3b3b3"/><stop offset=".59" stop-color="#cacaca"/><stop offset=".699" stop-color="#cfcfcf"/><stop offset=".754" stop-color="#c3c3c3"/><stop offset=".801" stop-color="#afafaf"/><stop offset=".879" stop-color="#959595"/><stop offset=".887" stop-color="#a3a3a3"/><stop offset=".895" stop-color="#b7b7b7"/><stop offset=".941" stop-color="#bcbcbc"/><stop offset=".965" stop-color="#b3b3b3"/><stop offset=".996" stop-color="#9c9c9c"/></linearGradient>
<linearGradient id="hea36" href="#heaT"><stop offset=".004" stop-color="#cacaca"/><stop offset=".113" stop-color="#bcbcbc"/><stop offset=".27" stop-color="#999"/><stop offset=".41" stop-color="#8f8f8f"/><stop offset=".488" stop-color="#8d8d8d"/><stop offset=".512" stop-color="#959595"/><stop offset=".551" stop-color="#b7b7b7"/><stop offset=".598" stop-color="#ccc"/><stop offset=".691" stop-color="#d5d5d5"/><stop offset=".754" stop-color="#c6c6c6"/><stop offset=".801" stop-color="#b1b1b1"/><stop offset=".879" stop-color="#959595"/><stop offset=".887" stop-color="#a6a6a6"/><stop offset=".895" stop-color="#bfbfbf"/><stop offset=".957" stop-color="#c0c0c0"/><stop offset=".996" stop-color="#ababab"/></linearGradient>
<linearGradient id="hea37" href="#heaT"><stop offset=".004" stop-color="#cdcdcd"/><stop offset=".129" stop-color="#c1c1c1"/><stop offset=".285" stop-color="#a2a2a2"/><stop offset=".488" stop-color="#8e8e8e"/><stop offset=".512" stop-color="#939393"/><stop offset=".559" stop-color="#b4b4b4"/><stop offset=".605" stop-color="#c9c9c9"/><stop offset=".684" stop-color="#d7d7d7"/><stop offset=".746" stop-color="#cacaca"/><stop offset=".801" stop-color="#b0b0b0"/><stop offset=".879" stop-color="#929292"/><stop offset=".887" stop-color="#a6a6a6"/><stop offset=".895" stop-color="#c2c2c2"/><stop offset=".965" stop-color="#c0c0c0"/><stop offset=".996" stop-color="#b3b3b3"/></linearGradient>
<linearGradient id="hea38" href="#heaT"><stop offset=".004" stop-color="#cfcfcf"/><stop offset=".137" stop-color="#c4c4c4"/><stop offset=".293" stop-color="#a5a5a5"/><stop offset=".457" stop-color="#8f8f8f"/><stop offset=".496" stop-color="#8b8b8b"/><stop offset=".52" stop-color="#929292"/><stop offset=".613" stop-color="#c6c6c6"/><stop offset=".676" stop-color="#d6d6d6"/><stop offset=".738" stop-color="#cdcdcd"/><stop offset=".801" stop-color="#afafaf"/><stop offset=".879" stop-color="#8e8e8e"/><stop offset=".887" stop-color="#a5a5a5"/><stop offset=".895" stop-color="#c4c4c4"/><stop offset=".965" stop-color="#c3c3c3"/><stop offset=".996" stop-color="#b8b8b8"/></linearGradient>
<linearGradient id="hea39" href="#heaT"><stop offset=".004" stop-color="#cfcfcf"/><stop offset=".152" stop-color="#c4c4c4"/><stop offset=".301" stop-color="#a5a5a5"/><stop offset=".457" stop-color="#8f8f8f"/><stop offset=".496" stop-color="#8a8a8a"/><stop offset=".52" stop-color="#8f8f8f"/><stop offset=".637" stop-color="#cecece"/><stop offset=".691" stop-color="#d7d7d7"/><stop offset=".746" stop-color="#cacaca"/><stop offset=".801" stop-color="#aeaeae"/><stop offset=".879" stop-color="#8b8b8b"/><stop offset=".887" stop-color="#a3a3a3"/><stop offset=".895" stop-color="#c6c6c6"/><stop offset=".965" stop-color="#c5c5c5"/><stop offset=".996" stop-color="#bcbcbc"/></linearGradient>
<linearGradient id="hea40" href="#heaT"><stop offset=".004" stop-color="#d0d0d0"/><stop offset=".16" stop-color="#c6c6c6"/><stop offset=".301" stop-color="#a6a6a6"/><stop offset=".488" stop-color="#8c8c8c"/><stop offset=".52" stop-color="#949494"/><stop offset=".629" stop-color="#cecece"/><stop offset=".691" stop-color="#d7d7d7"/><stop offset=".746" stop-color="#c9c9c9"/><stop offset=".793" stop-color="#afafaf"/><stop offset=".863" stop-color="#909090"/><stop offset=".879" stop-color="#878787"/><stop offset=".887" stop-color="#a2a2a2"/><stop offset=".895" stop-color="#c8c8c8"/><stop offset=".973" stop-color="#c6c6c6"/><stop offset=".996" stop-color="#c0c0c0"/></linearGradient>
<linearGradient id="hea41" href="#heaT"><stop offset=".004" stop-color="#d1d1d1"/><stop offset=".168" stop-color="#c7c7c7"/><stop offset=".301" stop-color="#a7a7a7"/><stop offset=".48" stop-color="#8e8e8e"/><stop offset=".52" stop-color="#9a9a9a"/><stop offset=".629" stop-color="#d1d1d1"/><stop offset=".691" stop-color="#d8d8d8"/><stop offset=".746" stop-color="#c9c9c9"/><stop offset=".793" stop-color="#aeaeae"/><stop offset=".863" stop-color="#8d8d8d"/><stop offset=".879" stop-color="#838383"/><stop offset=".887" stop-color="#a1a1a1"/><stop offset=".895" stop-color="#cacaca"/><stop offset=".973" stop-color="#c9c9c9"/><stop offset=".996" stop-color="#c4c4c4"/></linearGradient>
<linearGradient id="hea42" href="#heaT"><stop offset=".004" stop-color="#d1d1d1"/><stop offset=".176" stop-color="#c8c8c8"/><stop offset=".301" stop-color="#a8a8a8"/><stop offset=".48" stop-color="#909090"/><stop offset=".527" stop-color="#a1a1a1"/><stop offset=".629" stop-color="#d3d3d3"/><stop offset=".691" stop-color="#d8d8d8"/><stop offset=".746" stop-color="#c8c8c8"/><stop offset=".793" stop-color="#adadad"/><stop offset=".863" stop-color="#8a8a8a"/><stop offset=".879" stop-color="#7f7f7f"/><stop offset=".887" stop-color="#9f9f9f"/><stop offset=".895" stop-color="#cbcbcb"/><stop offset=".98" stop-color="#cacaca"/><stop offset=".996" stop-color="#c8c8c8"/></linearGradient>
<linearGradient id="hea43" href="#heaT"><stop offset=".004" stop-color="#d2d2d2"/><stop offset=".176" stop-color="#cbcbcb"/><stop offset=".301" stop-color="#a9a9a9"/><stop offset=".48" stop-color="#909090"/><stop offset=".543" stop-color="#a8a8a8"/><stop offset=".637" stop-color="#d5d5d5"/><stop offset=".691" stop-color="#d9d9d9"/><stop offset=".746" stop-color="#c8c8c8"/><stop offset=".793" stop-color="#acacac"/><stop offset=".863" stop-color="#878787"/><stop offset=".879" stop-color="#7b7b7b"/><stop offset=".887" stop-color="#9e9e9e"/><stop offset=".895" stop-color="#cdcdcd"/><stop offset=".996" stop-color="#ccc"/></linearGradient>
<linearGradient id="hea44" href="#heaT"><stop offset=".004" stop-color="#d3d3d3"/><stop offset=".176" stop-color="#cdcdcd"/><stop offset=".301" stop-color="#a9a9a9"/><stop offset=".48" stop-color="#909090"/><stop offset=".566" stop-color="#b2b2b2"/><stop offset=".637" stop-color="#d5d5d5"/><stop offset=".691" stop-color="#d9d9d9"/><stop offset=".746" stop-color="#c7c7c7"/><stop offset=".793" stop-color="#aaa"/><stop offset=".855" stop-color="#8b8b8b"/><stop offset=".879" stop-color="#777"/><stop offset=".887" stop-color="#9c9c9c"/><stop offset=".895" stop-color="#cfcfcf"/><stop offset=".996" stop-color="#d0d0d0"/></linearGradient>
<linearGradient id="hea45" href="#heaT"><stop offset=".004" stop-color="#d3d3d3"/><stop offset=".184" stop-color="#cdcdcd"/><stop offset=".301" stop-color="#aaa"/><stop offset=".48" stop-color="#909090"/><stop offset=".559" stop-color="#acacac"/><stop offset=".637" stop-color="#d5d5d5"/><stop offset=".691" stop-color="#d9d9d9"/><stop offset=".746" stop-color="#c7c7c7"/><stop offset=".785" stop-color="#adadad"/><stop offset=".855" stop-color="#888"/><stop offset=".879" stop-color="#747474"/><stop offset=".887" stop-color="#9b9b9b"/><stop offset=".895" stop-color="#d0d0d0"/><stop offset=".996" stop-color="#d4d4d4"/></linearGradient>
<linearGradient id="hea46" href="#heaT"><stop offset=".004" stop-color="#d4d4d4"/><stop offset=".176" stop-color="#d0d0d0"/><stop offset=".301" stop-color="#ababab"/><stop offset=".48" stop-color="#8f8f8f"/><stop offset=".559" stop-color="#ababab"/><stop offset=".637" stop-color="#d5d5d5"/><stop offset=".691" stop-color="#d9d9d9"/><stop offset=".746" stop-color="#c7c7c7"/><stop offset=".785" stop-color="#acacac"/><stop offset=".855" stop-color="#878787"/><stop offset=".879" stop-color="#727272"/><stop offset=".887" stop-color="#9a9a9a"/><stop offset=".895" stop-color="#d1d1d1"/><stop offset=".996" stop-color="#d6d6d6"/></linearGradient>
<filter id="heFa" filterUnits="userSpaceOnUse" x="1558.8" y="70" width="518" height="155" color-interpolation-filters="sRGB"><feGaussianBlur in="SourceGraphic" stdDeviation="1.2 1.5" result="b"/><feTurbulence type="fractalNoise" baseFrequency="0.05 0.05" numOctaves="2" seed="2" result="n"/><feColorMatrix in="n" type="matrix" values="1 0 0 0 0 1 0 0 0 0 1 0 0 0 0 0 0 0 0 1" result="m"/><feComposite in="b" in2="m" operator="arithmetic" k1="0" k2="1" k3="0.1" k4="-0.05" result="s"/><feComponentTransfer in="s"><feFuncR type="table" tableValues="0 0 0 0 .5 1 1 1 .5"/><feFuncG type="table" tableValues="0 0 .5 1 1 1 .5 0 0"/><feFuncB type="table" tableValues=".5 1 1 1 .5 0 0 0 0"/></feComponentTransfer></filter>
<clipPath id="heCa"><rect x="1564.8" y="76" width="506" height="137.3"/></clipPath>
<linearGradient id="cbE" x1="0" y1="0" x2="0" y2="1"><stop offset="0" stop-color="#800000"/><stop offset="0.0625" stop-color="#bf0000"/><stop offset="0.125" stop-color="#f00"/><stop offset="0.1875" stop-color="#ff4000"/><stop offset="0.25" stop-color="#ff8000"/><stop offset="0.3125" stop-color="#ffbf00"/><stop offset="0.375" stop-color="#ff0"/><stop offset="0.4375" stop-color="#bfff40"/><stop offset="0.5" stop-color="#80ff80"/><stop offset="0.5625" stop-color="#40ffbf"/><stop offset="0.625" stop-color="#0ff"/><stop offset="0.6875" stop-color="#00bfff"/><stop offset="0.75" stop-color="#0080ff"/><stop offset="0.8125" stop-color="#0040ff"/><stop offset="0.875" stop-color="#00f"/><stop offset="0.9375" stop-color="#0000bf"/><stop offset="1" stop-color="#000080"/></linearGradient>
</defs>
<rect width="2128" height="822" fill="#fff"/>
<text font-size="31.5" font-weight="bold" fill="#000" x="1.5" y="29.5">a</text>
<g clip-path="url(#haCa)"><g filter="url(#haFa)"><rect x="105" y="30.5" width="583" height="10.42" fill="url(#haa0)"/><rect x="105" y="39.72" width="583" height="4.42" fill="url(#haa1)"/><rect x="105" y="42.95" width="583" height="4.42" fill="url(#haa2)"/><rect x="105" y="46.17" width="583" height="4.42" fill="url(#haa3)"/><rect x="105" y="49.4" width="583" height="4.42" fill="url(#haa4)"/><rect x="105" y="52.62" width="583" height="4.42" fill="url(#haa5)"/><rect x="105" y="55.85" width="583" height="4.42" fill="url(#haa6)"/><rect x="105" y="59.07" width="583" height="4.42" fill="url(#haa7)"/><rect x="105" y="62.29" width="583" height="4.42" fill="url(#haa8)"/><rect x="105" y="65.52" width="583" height="4.42" fill="url(#haa9)"/><rect x="105" y="68.74" width="583" height="4.42" fill="url(#haa10)"/><rect x="105" y="71.97" width="583" height="4.42" fill="url(#haa11)"/><rect x="105" y="75.19" width="583" height="4.42" fill="url(#haa12)"/><rect x="105" y="78.42" width="583" height="4.42" fill="url(#haa13)"/><rect x="105" y="81.64" width="583" height="4.42" fill="url(#haa14)"/><rect x="105" y="84.86" width="583" height="4.42" fill="url(#haa15)"/><rect x="105" y="88.09" width="583" height="4.42" fill="url(#haa16)"/><rect x="105" y="91.31" width="583" height="4.42" fill="url(#haa17)"/><rect x="105" y="94.54" width="583" height="4.42" fill="url(#haa18)"/><rect x="105" y="97.76" width="583" height="4.42" fill="url(#haa19)"/><rect x="105" y="100.98" width="583" height="4.42" fill="url(#haa20)"/><rect x="105" y="104.21" width="583" height="4.42" fill="url(#haa21)"/><rect x="105" y="107.43" width="583" height="4.42" fill="url(#haa22)"/><rect x="105" y="110.66" width="583" height="4.42" fill="url(#haa23)"/><rect x="105" y="113.88" width="583" height="4.42" fill="url(#haa24)"/><rect x="105" y="117.11" width="583" height="4.42" fill="url(#haa25)"/><rect x="105" y="120.33" width="583" height="4.42" fill="url(#haa26)"/><rect x="105" y="123.55" width="583" height="4.42" fill="url(#haa27)"/><rect x="105" y="126.78" width="583" height="4.42" fill="url(#haa28)"/><rect x="105" y="130" width="583" height="4.42" fill="url(#haa29)"/><rect x="105" y="133.23" width="583" height="4.42" fill="url(#haa30)"/><rect x="105" y="136.45" width="583" height="4.42" fill="url(#haa31)"/><rect x="105" y="139.68" width="583" height="4.42" fill="url(#haa32)"/><rect x="105" y="142.9" width="583" height="12" fill="url(#haa33)"/></g></g><g clip-path="url(#haCb)"><g filter="url(#haFb)"><rect x="105" y="130.9" width="583" height="13.2" fill="url(#hab0)"/><rect x="105" y="142.9" width="583" height="2.7" fill="url(#hab1)"/><rect x="105" y="144.4" width="583" height="2.7" fill="url(#hab2)"/><rect x="105" y="145.91" width="583" height="2.7" fill="url(#hab3)"/><rect x="105" y="147.41" width="583" height="2.7" fill="url(#hab4)"/><rect x="105" y="148.92" width="583" height="2.7" fill="url(#hab5)"/><rect x="105" y="150.42" width="583" height="2.7" fill="url(#hab6)"/><rect x="105" y="151.93" width="583" height="2.7" fill="url(#hab7)"/><rect x="105" y="153.43" width="583" height="2.7" fill="url(#hab8)"/><rect x="105" y="154.94" width="583" height="2.7" fill="url(#hab9)"/><rect x="105" y="156.44" width="583" height="2.7" fill="url(#hab10)"/><rect x="105" y="157.95" width="583" height="2.7" fill="url(#hab11)"/><rect x="105" y="159.45" width="583" height="2.7" fill="url(#hab12)"/><rect x="105" y="160.95" width="583" height="2.7" fill="url(#hab13)"/><rect x="105" y="162.46" width="583" height="2.7" fill="url(#hab14)"/><rect x="105" y="163.96" width="583" height="2.7" fill="url(#hab15)"/><rect x="105" y="165.47" width="583" height="2.7" fill="url(#hab16)"/><rect x="105" y="166.97" width="583" height="2.7" fill="url(#hab17)"/><rect x="105" y="168.48" width="583" height="2.7" fill="url(#hab18)"/><rect x="105" y="169.98" width="583" height="2.7" fill="url(#hab19)"/><rect x="105" y="171.49" width="583" height="2.7" fill="url(#hab20)"/><rect x="105" y="172.99" width="583" height="2.7" fill="url(#hab21)"/><rect x="105" y="174.5" width="583" height="7.5" fill="url(#hab22)"/></g></g>
<line x1="111" y1="131.4" x2="682" y2="131.4" stroke="#14241c" stroke-width="1.8" stroke-dasharray="8.2 7.3" stroke-dashoffset="-1"/>
<rect x="111" y="36.5" width="571" height="139.5" fill="none" stroke="#0a4a5a" stroke-width="1"/>
<line x1="168.2" y1="176" x2="168.2" y2="170.5" stroke="#123" stroke-width="0.9"/>
<line x1="168.2" y1="36.5" x2="168.2" y2="42" stroke="#123" stroke-width="0.9"/>
<line x1="225.2" y1="176" x2="225.2" y2="170.5" stroke="#123" stroke-width="0.9"/>
<line x1="225.2" y1="36.5" x2="225.2" y2="42" stroke="#123" stroke-width="0.9"/>
<line x1="282.3" y1="176" x2="282.3" y2="170.5" stroke="#123" stroke-width="0.9"/>
<line x1="282.3" y1="36.5" x2="282.3" y2="42" stroke="#123" stroke-width="0.9"/>
<line x1="339.4" y1="176" x2="339.4" y2="170.5" stroke="#123" stroke-width="0.9"/>
<line x1="339.4" y1="36.5" x2="339.4" y2="42" stroke="#123" stroke-width="0.9"/>
<line x1="396.4" y1="176" x2="396.4" y2="170.5" stroke="#123" stroke-width="0.9"/>
<line x1="396.4" y1="36.5" x2="396.4" y2="42" stroke="#123" stroke-width="0.9"/>
<line x1="453.4" y1="176" x2="453.4" y2="170.5" stroke="#123" stroke-width="0.9"/>
<line x1="453.4" y1="36.5" x2="453.4" y2="42" stroke="#123" stroke-width="0.9"/>
<line x1="510.5" y1="176" x2="510.5" y2="170.5" stroke="#123" stroke-width="0.9"/>
<line x1="510.5" y1="36.5" x2="510.5" y2="42" stroke="#123" stroke-width="0.9"/>
<line x1="567.5" y1="176" x2="567.5" y2="170.5" stroke="#123" stroke-width="0.9"/>
<line x1="567.5" y1="36.5" x2="567.5" y2="42" stroke="#123" stroke-width="0.9"/>
<line x1="624.6" y1="176" x2="624.6" y2="170.5" stroke="#123" stroke-width="0.9"/>
<line x1="624.6" y1="36.5" x2="624.6" y2="42" stroke="#123" stroke-width="0.9"/>
<line x1="111" y1="85.2" x2="116" y2="85.2" stroke="#123" stroke-width="0.9"/>
<line x1="682" y1="85.2" x2="677" y2="85.2" stroke="#123" stroke-width="0.9"/>
<line x1="111" y1="131.4" x2="116" y2="131.4" stroke="#123" stroke-width="0.9"/>
<line x1="682" y1="131.4" x2="677" y2="131.4" stroke="#123" stroke-width="0.9"/>
<rect x="282.3" y="17.7" width="114.7" height="18.6" fill="#ff7a0f" stroke="#5a2a00" stroke-width="1"/>
<g clip-path="url(#hbCa)"><g filter="url(#hbFa)"><rect x="105.6" y="225.2" width="583" height="10.42" fill="url(#hba0)"/><rect x="105.6" y="234.42" width="583" height="4.42" fill="url(#hba1)"/><rect x="105.6" y="237.65" width="583" height="4.42" fill="url(#hba2)"/><rect x="105.6" y="240.87" width="583" height="4.42" fill="url(#hba3)"/><rect x="105.6" y="244.1" width="583" height="4.42" fill="url(#hba4)"/><rect x="105.6" y="247.32" width="583" height="4.42" fill="url(#hba5)"/><rect x="105.6" y="250.55" width="583" height="4.42" fill="url(#hba6)"/><rect x="105.6" y="253.77" width="583" height="4.42" fill="url(#hba7)"/><rect x="105.6" y="256.99" width="583" height="4.42" fill="url(#hba8)"/><rect x="105.6" y="260.22" width="583" height="4.42" fill="url(#hba9)"/><rect x="105.6" y="263.44" width="583" height="4.42" fill="url(#hba10)"/><rect x="105.6" y="266.67" width="583" height="4.42" fill="url(#hba11)"/><rect x="105.6" y="269.89" width="583" height="4.42" fill="url(#hba12)"/><rect x="105.6" y="273.12" width="583" height="4.42" fill="url(#hba13)"/><rect x="105.6" y="276.34" width="583" height="4.42" fill="url(#hba14)"/><rect x="105.6" y="279.56" width="583" height="4.42" fill="url(#hba15)"/><rect x="105.6" y="282.79" width="583" height="4.42" fill="url(#hba16)"/><rect x="105.6" y="286.01" width="583" height="4.42" fill="url(#hba17)"/><rect x="105.6" y="289.24" width="583" height="4.42" fill="url(#hba18)"/><rect x="105.6" y="292.46" width="583" height="4.42" fill="url(#hba19)"/><rect x="105.6" y="295.68" width="583" height="4.42" fill="url(#hba20)"/><rect x="105.6" y="298.91" width="583" height="4.42" fill="url(#hba21)"/><rect x="105.6" y="302.13" width="583" height="4.42" fill="url(#hba22)"/><rect x="105.6" y="305.36" width="583" height="4.42" fill="url(#hba23)"/><rect x="105.6" y="308.58" width="583" height="4.42" fill="url(#hba24)"/><rect x="105.6" y="311.81" width="583" height="4.42" fill="url(#hba25)"/><rect x="105.6" y="315.03" width="583" height="4.42" fill="url(#hba26)"/><rect x="105.6" y="318.25" width="583" height="4.42" fill="url(#hba27)"/><rect x="105.6" y="321.48" width="583" height="4.42" fill="url(#hba28)"/><rect x="105.6" y="324.7" width="583" height="4.42" fill="url(#hba29)"/><rect x="105.6" y="327.93" width="583" height="4.42" fill="url(#hba30)"/><rect x="105.6" y="331.15" width="583" height="4.42" fill="url(#hba31)"/><rect x="105.6" y="334.38" width="583" height="4.42" fill="url(#hba32)"/><rect x="105.6" y="337.6" width="583" height="12" fill="url(#hba33)"/></g></g><g clip-path="url(#hbCb)"><g filter="url(#hbFb)"><rect x="105.6" y="325.6" width="583" height="13.2" fill="url(#hbb0)"/><rect x="105.6" y="337.6" width="583" height="2.73" fill="url(#hbb1)"/><rect x="105.6" y="339.13" width="583" height="2.73" fill="url(#hbb2)"/><rect x="105.6" y="340.65" width="583" height="2.73" fill="url(#hbb3)"/><rect x="105.6" y="342.18" width="583" height="2.73" fill="url(#hbb4)"/><rect x="105.6" y="343.71" width="583" height="2.73" fill="url(#hbb5)"/><rect x="105.6" y="345.24" width="583" height="2.73" fill="url(#hbb6)"/><rect x="105.6" y="346.76" width="583" height="2.73" fill="url(#hbb7)"/><rect x="105.6" y="348.29" width="583" height="2.73" fill="url(#hbb8)"/><rect x="105.6" y="349.82" width="583" height="2.73" fill="url(#hbb9)"/><rect x="105.6" y="351.35" width="583" height="2.73" fill="url(#hbb10)"/><rect x="105.6" y="352.87" width="583" height="2.73" fill="url(#hbb11)"/><rect x="105.6" y="354.4" width="583" height="2.73" fill="url(#hbb12)"/><rect x="105.6" y="355.93" width="583" height="2.73" fill="url(#hbb13)"/><rect x="105.6" y="357.45" width="583" height="2.73" fill="url(#hbb14)"/><rect x="105.6" y="358.98" width="583" height="2.73" fill="url(#hbb15)"/><rect x="105.6" y="360.51" width="583" height="2.73" fill="url(#hbb16)"/><rect x="105.6" y="362.04" width="583" height="2.73" fill="url(#hbb17)"/><rect x="105.6" y="363.56" width="583" height="2.73" fill="url(#hbb18)"/><rect x="105.6" y="365.09" width="583" height="2.73" fill="url(#hbb19)"/><rect x="105.6" y="366.62" width="583" height="2.73" fill="url(#hbb20)"/><rect x="105.6" y="368.15" width="583" height="2.73" fill="url(#hbb21)"/><rect x="105.6" y="369.67" width="583" height="7.53" fill="url(#hbb22)"/></g></g>
<line x1="111.6" y1="326.2" x2="682.6" y2="326.2" stroke="#14241c" stroke-width="1.8" stroke-dasharray="8.2 7.3" stroke-dashoffset="-1"/>
<rect x="111.6" y="231.2" width="571" height="140" fill="none" stroke="#0a4a5a" stroke-width="1"/>
<line x1="169.1" y1="371.2" x2="169.1" y2="365.7" stroke="#123" stroke-width="0.9"/>
<line x1="169.1" y1="231.2" x2="169.1" y2="236.7" stroke="#123" stroke-width="0.9"/>
<line x1="226.1" y1="371.2" x2="226.1" y2="365.7" stroke="#123" stroke-width="0.9"/>
<line x1="226.1" y1="231.2" x2="226.1" y2="236.7" stroke="#123" stroke-width="0.9"/>
<line x1="283.2" y1="371.2" x2="283.2" y2="365.7" stroke="#123" stroke-width="0.9"/>
<line x1="283.2" y1="231.2" x2="283.2" y2="236.7" stroke="#123" stroke-width="0.9"/>
<line x1="340.2" y1="371.2" x2="340.2" y2="365.7" stroke="#123" stroke-width="0.9"/>
<line x1="340.2" y1="231.2" x2="340.2" y2="236.7" stroke="#123" stroke-width="0.9"/>
<line x1="397.3" y1="371.2" x2="397.3" y2="365.7" stroke="#123" stroke-width="0.9"/>
<line x1="397.3" y1="231.2" x2="397.3" y2="236.7" stroke="#123" stroke-width="0.9"/>
<line x1="454.3" y1="371.2" x2="454.3" y2="365.7" stroke="#123" stroke-width="0.9"/>
<line x1="454.3" y1="231.2" x2="454.3" y2="236.7" stroke="#123" stroke-width="0.9"/>
<line x1="511.4" y1="371.2" x2="511.4" y2="365.7" stroke="#123" stroke-width="0.9"/>
<line x1="511.4" y1="231.2" x2="511.4" y2="236.7" stroke="#123" stroke-width="0.9"/>
<line x1="568.5" y1="371.2" x2="568.5" y2="365.7" stroke="#123" stroke-width="0.9"/>
<line x1="568.5" y1="231.2" x2="568.5" y2="236.7" stroke="#123" stroke-width="0.9"/>
<line x1="625.5" y1="371.2" x2="625.5" y2="365.7" stroke="#123" stroke-width="0.9"/>
<line x1="625.5" y1="231.2" x2="625.5" y2="236.7" stroke="#123" stroke-width="0.9"/>
<line x1="111.6" y1="280" x2="116.6" y2="280" stroke="#123" stroke-width="0.9"/>
<line x1="682.6" y1="280" x2="677.6" y2="280" stroke="#123" stroke-width="0.9"/>
<line x1="111.6" y1="326" x2="116.6" y2="326" stroke="#123" stroke-width="0.9"/>
<line x1="682.6" y1="326" x2="677.6" y2="326" stroke="#123" stroke-width="0.9"/>
<rect x="283.3" y="213.2" width="114.7" height="17.8" fill="#ff7a0f" stroke="#5a2a00" stroke-width="1"/>
<text font-size="16.1" text-anchor="middle" fill="#4a2000" x="340.8" y="33.4">cue sampling</text>
<text font-size="16.1" text-anchor="middle" fill="#4a2000" x="341.8" y="228.4">cue sampling</text>
<text font-size="20.5" text-anchor="end" x="104.5" y="43.8">60</text>
<text font-size="20.5" text-anchor="end" x="104.5" y="92.5">40</text>
<text font-size="20.5" text-anchor="end" x="104.5" y="138.7">20</text>
<text font-size="20.5" text-anchor="end" x="104.5" y="183.8">0</text>
<text font-size="20.5" text-anchor="end" x="104.5" y="238.8">60</text>
<text font-size="20.5" text-anchor="end" x="104.5" y="287.3">40</text>
<text font-size="20.5" text-anchor="end" x="104.5" y="333.5">20</text>
<text font-size="20.5" text-anchor="end" x="104.5" y="378.8">0</text>
<text font-size="20.5" text-anchor="middle" x="168.7" y="198.5">−1</text>
<text font-size="20.5" text-anchor="middle" x="169.6" y="393.5">−1</text>
<text font-size="20.5" text-anchor="middle" x="282.8" y="198.5">0</text>
<text font-size="20.5" text-anchor="middle" x="283.7" y="393.5">0</text>
<text font-size="20.5" text-anchor="middle" x="396.9" y="198.5">1</text>
<text font-size="20.5" text-anchor="middle" x="397.8" y="393.5">1</text>
<text font-size="20.5" text-anchor="middle" x="511" y="198.5">2</text>
<text font-size="20.5" text-anchor="middle" x="511.9" y="393.5">2</text>
<text font-size="20.5" text-anchor="middle" x="625.1" y="198.5">3</text>
<text font-size="20.5" text-anchor="middle" x="626" y="393.5">3</text>
<text font-size="24.8" text-anchor="middle" x="389" y="425">Time after poke onset (s)</text>
<text font-size="24.8" text-anchor="middle" transform="translate(65 192.5) rotate(-90)">Frequency (Hz)</text>
<text font-size="32.5" text-anchor="middle" font-weight="bold" fill="#000" transform="translate(33.5 102) rotate(-90)">dCA1</text>
<text font-size="32.5" text-anchor="middle" font-weight="bold" fill="#000" transform="translate(32.5 303) rotate(-90)">pCA1</text>
<rect x="688.3" y="132" width="15.8" height="139.7" fill="url(#cbA)"/>
<text font-size="20.5" x="709.5" y="145.3">200</text>
<text font-size="20.5" x="709.5" y="189.9">100</text>
<text font-size="20.5" x="709.5" y="232.3">0</text>
<text font-size="20.5" x="709.5" y="276.1">−100</text>
<text font-size="24.8" text-anchor="middle" transform="translate(760 211) rotate(90)">% Change in power</text>
<text font-size="33" font-weight="bold" fill="#000" x="808" y="28">b</text>
<g>
<line x1="931.7" y1="380.7" x2="931.8" y2="242.7" stroke="#1c1c1c" stroke-width="1.4" stroke-dasharray="3.6 5.4"/>
<line x1="976.4" y1="324.2" x2="976.6" y2="186.3" stroke="#1c1c1c" stroke-width="1.4" stroke-dasharray="3.6 5.4"/>
<line x1="1021.2" y1="267.8" x2="1021.3" y2="129.8" stroke="#1c1c1c" stroke-width="1.4" stroke-dasharray="3.6 5.4"/>
<line x1="1065.9" y1="211.3" x2="1066" y2="170.4" stroke="#1c1c1c" stroke-width="1.4" stroke-dasharray="3.6 5.4"/>
<line x1="887" y1="396.2" x2="1066" y2="170.4" stroke="#1c1c1c" stroke-width="1.4" stroke-dasharray="3.6 5.4"/>
<line x1="887" y1="347.7" x2="1066" y2="121.8" stroke="#1c1c1c" stroke-width="1.4" stroke-dasharray="3.6 5.4"/>
<line x1="887.1" y1="299.2" x2="1066.1" y2="73.3" stroke="#1c1c1c" stroke-width="1.4" stroke-dasharray="3.6 5.4"/>
<line x1="1101.2" y1="229.4" x2="1101.3" y2="91.5" stroke="#1c1c1c" stroke-width="1.4" stroke-dasharray="3.6 5.4"/>
<line x1="1171.7" y1="265.6" x2="1171.8" y2="127.7" stroke="#1c1c1c" stroke-width="1.4" stroke-dasharray="3.6 5.4"/>
<line x1="1242.2" y1="301.9" x2="1242.3" y2="163.9" stroke="#1c1c1c" stroke-width="1.4" stroke-dasharray="3.6 5.4"/>
<line x1="1312.6" y1="338.1" x2="1312.8" y2="200.1" stroke="#1c1c1c" stroke-width="1.4" stroke-dasharray="3.6 5.4"/>
<line x1="1383.1" y1="374.3" x2="1383.3" y2="236.4" stroke="#1c1c1c" stroke-width="1.4" stroke-dasharray="3.6 5.4"/>
<line x1="1066" y1="170.4" x2="1397.3" y2="340.6" stroke="#1c1c1c" stroke-width="1.4" stroke-dasharray="3.6 5.4"/>
<line x1="1066" y1="121.8" x2="1397.3" y2="292.1" stroke="#1c1c1c" stroke-width="1.4" stroke-dasharray="3.6 5.4"/>
<line x1="1066.1" y1="73.3" x2="1397.4" y2="243.6" stroke="#1c1c1c" stroke-width="1.4" stroke-dasharray="3.6 5.4"/>
<line x1="922.2" y1="455.2" x2="1101.2" y2="229.4" stroke="#1c1c1c" stroke-width="1.4" stroke-dasharray="3.6 5.4"/>
<line x1="992.7" y1="491.5" x2="1171.7" y2="265.6" stroke="#1c1c1c" stroke-width="1.4" stroke-dasharray="3.6 5.4"/>
<line x1="1063.2" y1="527.7" x2="1242.2" y2="301.9" stroke="#1c1c1c" stroke-width="1.4" stroke-dasharray="3.6 5.4"/>
<line x1="1133.7" y1="563.9" x2="1312.6" y2="338.1" stroke="#1c1c1c" stroke-width="1.4" stroke-dasharray="3.6 5.4"/>
<line x1="1204.2" y1="600.2" x2="1383.1" y2="374.3" stroke="#1c1c1c" stroke-width="1.4" stroke-dasharray="3.6 5.4"/>
<line x1="931.7" y1="380.7" x2="1263" y2="551" stroke="#1c1c1c" stroke-width="1.4" stroke-dasharray="3.6 5.4"/>
<line x1="976.4" y1="324.2" x2="1307.8" y2="494.5" stroke="#1c1c1c" stroke-width="1.4" stroke-dasharray="3.6 5.4"/>
<line x1="1021.2" y1="267.8" x2="1352.5" y2="438" stroke="#1c1c1c" stroke-width="1.4" stroke-dasharray="3.6 5.4"/>
<line x1="1065.9" y1="211.3" x2="1397.2" y2="381.6" stroke="#1c1c1c" stroke-width="1.4" stroke-dasharray="3.6 5.4"/>
</g>
<path d="M887.1 299.2L887 437.1L1218.3 607.4L1397.2 381.6" stroke="#1a1a1a" stroke-width="1.6" fill="none"/>
<line x1="887" y1="396.2" x2="878.5" y2="392.7" stroke="#222" stroke-width="1"/>
<line x1="887" y1="347.7" x2="878.5" y2="344.2" stroke="#222" stroke-width="1"/>
<line x1="887.1" y1="299.2" x2="878.6" y2="295.7" stroke="#222" stroke-width="1"/>
<line x1="922.2" y1="455.2" x2="916.8" y2="462.1" stroke="#222" stroke-width="1"/>
<line x1="992.7" y1="491.5" x2="987.3" y2="498.4" stroke="#222" stroke-width="1"/>
<line x1="1063.2" y1="527.7" x2="1057.8" y2="534.6" stroke="#222" stroke-width="1"/>
<line x1="1133.7" y1="563.9" x2="1128.3" y2="570.8" stroke="#222" stroke-width="1"/>
<line x1="1204.2" y1="600.2" x2="1198.8" y2="607.1" stroke="#222" stroke-width="1"/>
<line x1="1218.3" y1="607.4" x2="1226.9" y2="611.8" stroke="#222" stroke-width="1"/>
<line x1="1263" y1="551" x2="1271.6" y2="555.4" stroke="#222" stroke-width="1"/>
<line x1="1307.8" y1="494.5" x2="1316.4" y2="498.9" stroke="#222" stroke-width="1"/>
<line x1="1352.5" y1="438" x2="1361.1" y2="442.4" stroke="#222" stroke-width="1"/>
<line x1="1397.2" y1="381.6" x2="1405.8" y2="386" stroke="#222" stroke-width="1"/>
<text font-size="22.5" text-anchor="end" x="860.3" y="404.2">0</text>
<text font-size="22.5" text-anchor="end" x="869" y="355.7">500</text>
<text font-size="22.5" text-anchor="end" x="872.5" y="307.2">1000</text>
<text font-size="23" text-anchor="middle" x="904" y="487.6">0</text>
<text font-size="23" text-anchor="middle" x="969" y="524">1000</text>
<text font-size="23" text-anchor="middle" x="1038.5" y="560.7">2000</text>
<text font-size="23" text-anchor="middle" x="1108.9" y="596.8">3000</text>
<text font-size="23" text-anchor="middle" x="1178.8" y="633.1">4000</text>
<text font-size="23.7" x="1229.9" y="629.9">−2000</text>
<text font-size="23.7" x="1275.2" y="573">−1000</text>
<text font-size="23.7" x="1319.5" y="514.7">0</text>
<text font-size="23.7" x="1366.2" y="458.8">1000</text>
<text font-size="23.7" x="1409.8" y="401.5">2000</text>
<text font-size="21.5" x="824" y="276">(µm)</text>
<line x1="1066" y1="170.4" x2="1066.1" y2="69.1" stroke="#000" stroke-width="3.3" stroke-linecap="round"/>
<path d="M1066.1 53.5L1072.2 73L1066.1 70.3L1059.8 73Z" fill="#000"/>
<line x1="1066" y1="170.4" x2="1178.6" y2="228.3" stroke="#000" stroke-width="2.8" stroke-linecap="round"/>
<path d="M1191.8 235L1172.7 231.7L1177.6 227.8L1178 221.4Z" fill="#000"/>
<line x1="1066" y1="170.4" x2="992.4" y2="263.2" stroke="#000" stroke-width="2.8" stroke-linecap="round"/>
<path d="M983.2 274.8L990.1 256.7L993.1 262.3L999.2 263.9Z" fill="#000"/>
<text font-size="24.8" x="1072.5" y="60.3">Dorsal</text>
<text font-size="24.5" x="1192" y="230.8">Lateral</text>
<text font-size="24.6" x="905" y="300">Posterior</text>
<path d="M1037 270.5L1045 258L1055.8 246.6L1066 243L1078 239.8L1090 234L1101.8 227.9L1112 227L1122 226L1129 224L1135.9 222.8L1145 223.5L1153 226L1161 229.5L1168 233.9L1180 241.5L1195 260L1209.8 278L1224 300L1239 325.7L1248 355L1253.6 380L1259 406L1262.7 431.5L1268 457L1271 470L1266 471L1257 475L1246 486L1235 501L1224 519L1217 533.7L1206 549.5L1195 537.4L1180.6 522.8L1166 509.5L1150 498.4L1136 484L1126 471.7L1111 446L1100 420.6L1089 398.7L1078.4 373L1067 351L1058 335L1052 328L1047 319L1042 302L1037.9 286.7Z" fill="#fff"/>
<g mask="url(#meshm)"><g clip-path="url(#meshc)"><g filter="url(#msF)"><rect x="1028" y="216" width="250" height="5.2" fill="url(#ms0)"/><rect x="1028" y="220" width="250" height="5.2" fill="url(#ms1)"/><rect x="1028" y="224" width="250" height="5.2" fill="url(#ms2)"/><rect x="1028" y="228" width="250" height="5.2" fill="url(#ms3)"/><rect x="1028" y="232" width="250" height="5.2" fill="url(#ms4)"/><rect x="1028" y="236" width="250" height="5.2" fill="url(#ms5)"/><rect x="1028" y="240" width="250" height="5.2" fill="url(#ms6)"/><rect x="1028" y="244" width="250" height="5.2" fill="url(#ms7)"/><rect x="1028" y="248" width="250" height="5.2" fill="url(#ms8)"/><rect x="1028" y="252" width="250" height="5.2" fill="url(#ms9)"/><rect x="1028" y="256" width="250" height="5.2" fill="url(#ms10)"/><rect x="1028" y="260" width="250" height="5.2" fill="url(#ms11)"/><rect x="1028" y="264" width="250" height="5.2" fill="url(#ms12)"/><rect x="1028" y="268" width="250" height="5.2" fill="url(#ms13)"/><rect x="1028" y="272" width="250" height="5.2" fill="url(#ms14)"/><rect x="1028" y="276" width="250" height="5.2" fill="url(#ms15)"/><rect x="1028" y="280" width="250" height="5.2" fill="url(#ms16)"/><rect x="1028" y="284" width="250" height="5.2" fill="url(#ms17)"/><rect x="1028" y="288" width="250" height="5.2" fill="url(#ms18)"/><rect x="1028" y="292" width="250" height="5.2" fill="url(#ms19)"/><rect x="1028" y="296" width="250" height="5.2" fill="url(#ms20)"/><rect x="1028" y="300" width="250" height="5.2" fill="url(#ms21)"/><rect x="1028" y="304" width="250" height="5.2" fill="url(#ms22)"/><rect x="1028" y="308" width="250" height="5.2" fill="url(#ms23)"/><rect x="1028" y="312" width="250" height="5.2" fill="url(#ms24)"/><rect x="1028" y="316" width="250" height="5.2" fill="url(#ms25)"/><rect x="1028" y="320" width="250" height="5.2" fill="url(#ms26)"/><rect x="1028" y="324" width="250" height="5.2" fill="url(#ms27)"/><rect x="1028" y="328" width="250" height="5.2" fill="url(#ms28)"/><rect x="1028" y="332" width="250" height="5.2" fill="url(#ms29)"/><rect x="1028" y="336" width="250" height="5.2" fill="url(#ms30)"/><rect x="1028" y="340" width="250" height="5.2" fill="url(#ms31)"/><rect x="1028" y="344" width="250" height="5.2" fill="url(#ms32)"/><rect x="1028" y="348" width="250" height="5.2" fill="url(#ms33)"/><rect x="1028" y="352" width="250" height="5.2" fill="url(#ms34)"/><rect x="1028" y="356" width="250" height="5.2" fill="url(#ms35)"/><rect x="1028" y="360" width="250" height="5.2" fill="url(#ms36)"/><rect x="1028" y="364" width="250" height="5.2" fill="url(#ms37)"/><rect x="1028" y="368" width="250" height="5.2" fill="url(#ms38)"/><rect x="1028" y="372" width="250" height="5.2" fill="url(#ms39)"/><rect x="1028" y="376" width="250" height="5.2" fill="url(#ms40)"/><rect x="1028" y="380" width="250" height="5.2" fill="url(#ms41)"/><rect x="1028" y="384" width="250" height="5.2" fill="url(#ms42)"/><rect x="1028" y="388" width="250" height="5.2" fill="url(#ms43)"/><rect x="1028" y="392" width="250" height="5.2" fill="url(#ms44)"/><rect x="1028" y="396" width="250" height="5.2" fill="url(#ms45)"/><rect x="1028" y="400" width="250" height="5.2" fill="url(#ms46)"/><rect x="1028" y="404" width="250" height="5.2" fill="url(#ms47)"/><rect x="1028" y="408" width="250" height="5.2" fill="url(#ms48)"/><rect x="1028" y="412" width="250" height="5.2" fill="url(#ms49)"/><rect x="1028" y="416" width="250" height="5.2" fill="url(#ms50)"/><rect x="1028" y="420" width="250" height="5.2" fill="url(#ms51)"/><rect x="1028" y="424" width="250" height="5.2" fill="url(#ms52)"/><rect x="1028" y="428" width="250" height="5.2" fill="url(#ms53)"/><rect x="1028" y="432" width="250" height="5.2" fill="url(#ms54)"/><rect x="1028" y="436" width="250" height="5.2" fill="url(#ms55)"/><rect x="1028" y="440" width="250" height="5.2" fill="url(#ms56)"/><rect x="1028" y="444" width="250" height="5.2" fill="url(#ms57)"/><rect x="1028" y="448" width="250" height="5.2" fill="url(#ms58)"/><rect x="1028" y="452" width="250" height="5.2" fill="url(#ms59)"/><rect x="1028" y="456" width="250" height="5.2" fill="url(#ms60)"/><rect x="1028" y="460" width="250" height="5.2" fill="url(#ms61)"/><rect x="1028" y="464" width="250" height="5.2" fill="url(#ms62)"/><rect x="1028" y="468" width="250" height="5.2" fill="url(#ms63)"/><rect x="1028" y="472" width="250" height="5.2" fill="url(#ms64)"/><rect x="1028" y="476" width="250" height="5.2" fill="url(#ms65)"/><rect x="1028" y="480" width="250" height="5.2" fill="url(#ms66)"/><rect x="1028" y="484" width="250" height="5.2" fill="url(#ms67)"/><rect x="1028" y="488" width="250" height="5.2" fill="url(#ms68)"/><rect x="1028" y="492" width="250" height="5.2" fill="url(#ms69)"/><rect x="1028" y="496" width="250" height="5.2" fill="url(#ms70)"/><rect x="1028" y="500" width="250" height="5.2" fill="url(#ms71)"/><rect x="1028" y="504" width="250" height="5.2" fill="url(#ms72)"/><rect x="1028" y="508" width="250" height="5.2" fill="url(#ms73)"/><rect x="1028" y="512" width="250" height="5.2" fill="url(#ms74)"/><rect x="1028" y="516" width="250" height="5.2" fill="url(#ms75)"/><rect x="1028" y="520" width="250" height="5.2" fill="url(#ms76)"/><rect x="1028" y="524" width="250" height="5.2" fill="url(#ms77)"/><rect x="1028" y="528" width="250" height="5.2" fill="url(#ms78)"/><rect x="1028" y="532" width="250" height="5.2" fill="url(#ms79)"/><rect x="1028" y="536" width="250" height="5.2" fill="url(#ms80)"/><rect x="1028" y="540" width="250" height="5.2" fill="url(#ms81)"/><rect x="1028" y="544" width="250" height="5.2" fill="url(#ms82)"/><rect x="1028" y="548" width="250" height="5.2" fill="url(#ms83)"/><rect x="1028" y="552" width="250" height="4" fill="url(#ms84)"/></g></g></g>
<text font-size="29" font-weight="bold" fill="#000" transform="translate(1030.5 357) rotate(71)">Distal</text>
<text font-size="29.5" font-weight="bold" fill="#000" transform="translate(1242.5 290) rotate(72)">Proximal</text>
<circle cx="1129.5" cy="286.5" r="4.9" fill="#10e010" stroke="#111" stroke-width="1.1"/>
<circle cx="1140.2" cy="292.7" r="4.9" fill="#10e010" stroke="#111" stroke-width="1.1"/>
<circle cx="1132.7" cy="300.1" r="4.9" fill="#10e010" stroke="#111" stroke-width="1.1"/>
<circle cx="1123.1" cy="302.6" r="4.9" fill="#10e010" stroke="#111" stroke-width="1.1"/>
<circle cx="1115.1" cy="301.8" r="4.9" fill="#10e010" stroke="#111" stroke-width="1.1"/>
<circle cx="1139.7" cy="305.8" r="4.9" fill="#10e010" stroke="#111" stroke-width="1.1"/>
<circle cx="1120.4" cy="312.5" r="4.9" fill="#10e010" stroke="#111" stroke-width="1.1"/>
<circle cx="1127.9" cy="315.1" r="4.9" fill="#10e010" stroke="#111" stroke-width="1.1"/>
<circle cx="1138.3" cy="324" r="4.9" fill="#10e010" stroke="#111" stroke-width="1.1"/>
<circle cx="1158.1" cy="325.3" r="4.9" fill="#10e010" stroke="#111" stroke-width="1.1"/>
<circle cx="1158.7" cy="281.4" r="4.9" fill="#10e010" stroke="#111" stroke-width="1.1"/>
<circle cx="1162.7" cy="294.5" r="4.9" fill="#10e010" stroke="#111" stroke-width="1.1"/>
<circle cx="1171.5" cy="295.9" r="4.9" fill="#10e010" stroke="#111" stroke-width="1.1"/>
<circle cx="1183.3" cy="327.7" r="4.9" fill="#10e010" stroke="#111" stroke-width="1.1"/>
<circle cx="1179.8" cy="324.5" r="4.9" fill="#10e010" stroke="#111" stroke-width="1.1"/>
<circle cx="1107.8" cy="295.1" r="4.9" fill="#f01010" stroke="#111" stroke-width="1.1"/>
<circle cx="1103.3" cy="312.5" r="4.9" fill="#f01010" stroke="#111" stroke-width="1.1"/>
<circle cx="1100.3" cy="319.7" r="4.9" fill="#f01010" stroke="#111" stroke-width="1.1"/>
<circle cx="1086.4" cy="317.5" r="4.9" fill="#f01010" stroke="#111" stroke-width="1.1"/>
<circle cx="1096.3" cy="324.5" r="4.9" fill="#f01010" stroke="#111" stroke-width="1.1"/>
<circle cx="1078.1" cy="336.8" r="4.9" fill="#f01010" stroke="#111" stroke-width="1.1"/>
<circle cx="1073.6" cy="364.6" r="4.9" fill="#f01010" stroke="#111" stroke-width="1.1"/>
<circle cx="1093.4" cy="363.8" r="4.9" fill="#f01010" stroke="#111" stroke-width="1.1"/>
<circle cx="1169.1" cy="280.1" r="4.9" fill="#1478f0" stroke="#111" stroke-width="1.1"/>
<circle cx="1196.1" cy="302.3" r="4.9" fill="#1478f0" stroke="#111" stroke-width="1.1"/>
<circle cx="1205.2" cy="299.1" r="4.9" fill="#1478f0" stroke="#111" stroke-width="1.1"/>
<circle cx="1209.5" cy="308.4" r="4.9" fill="#1478f0" stroke="#111" stroke-width="1.1"/>
<circle cx="1216.8" cy="311.1" r="4.9" fill="#1478f0" stroke="#111" stroke-width="1.1"/>
<circle cx="1205.8" cy="318.6" r="4.9" fill="#1478f0" stroke="#111" stroke-width="1.1"/>
<circle cx="1229.6" cy="317.5" r="4.9" fill="#1478f0" stroke="#111" stroke-width="1.1"/>
<circle cx="1228" cy="326.9" r="4.9" fill="#1478f0" stroke="#111" stroke-width="1.1"/>
<circle cx="1204.2" cy="339.2" r="4.9" fill="#1478f0" stroke="#111" stroke-width="1.1"/>
<circle cx="1213.3" cy="335.7" r="4.9" fill="#1478f0" stroke="#111" stroke-width="1.1"/>
<circle cx="1222.1" cy="334.4" r="4.9" fill="#1478f0" stroke="#111" stroke-width="1.1"/>
<circle cx="1229.3" cy="341.9" r="4.9" fill="#1478f0" stroke="#111" stroke-width="1.1"/>
<circle cx="1241.1" cy="344.6" r="4.9" fill="#1478f0" stroke="#111" stroke-width="1.1"/>
<circle cx="1219.2" cy="353.7" r="4.9" fill="#1478f0" stroke="#111" stroke-width="1.1"/>
<rect x="1392.5" y="534.8" width="18.5" height="130" fill="url(#cbB)"/>
<text font-size="16.5" x="1418.3" y="551.3">800</text>
<text font-size="16.5" x="1418.3" y="574.8">600</text>
<text font-size="16.5" x="1418.3" y="598.6">400</text>
<text font-size="16.5" x="1418.3" y="621.8">200</text>
<text font-size="16.5" x="1418.3" y="645.3">0</text>
<text font-size="16.5" x="1417.3" y="668.2">−200</text>
<text font-size="27.9" x="1375.5" y="527.5">Dorsal</text>
<text font-size="27.9" x="1375.5" y="690">Ventral</text>
<text font-size="22" x="1451.5" y="549.8">(µm)</text>
<text font-size="33" font-weight="bold" fill="#000" x="2.5" y="498.5">c</text>
<path d="M103.3 705.6L104.4 710.7L105.6 714.3L106.7 716.5L107.8 717.5L108.9 717.3L110.1 716.1L111.2 713.8L112.3 709.7L113.5 702.5L114.6 691L115.7 674.2L116.9 653L118 628.9L119.1 603.6L120.2 579L121.4 557.6L122.5 541.4L123.6 531.2L124.8 527L125.9 528.3L127 534.6L128.1 545L129.3 558.6L130.4 574.5L131.5 592.2L132.7 610.5L133.8 628.5L134.9 645L136.1 659.5L137.2 671.7L138.3 681.8L139.4 689.7L140.6 695.3L141.7 698.6L142.8 699.5L144 697.9L145.1 694.2L146.2 688.9L147.4 682.6L148.5 675.8L149.6 669.3L150.7 663.5L151.9 659L153 655.7L154.1 653.6L155.3 652.5L156.4 652.4L157.5 653L158.6 654.4L159.8 656.3L160.9 658.6L162 661.1L163.2 663.6L164.3 665.7L165.4 667.4L166.6 668.5L167.7 669.2L168.8 669.3L169.9 669L171.1 668.3L172.2 667.2L173.3 665.8L174.5 664.1L175.6 662.1L176.7 660.1L177.8 657.9L179 655.8L180.1 653.7L181.2 651.7L182.4 649.9L183.5 648.2L184.6 646.7L185.8 645.2L186.9 643.9L188 642.7L189.1 641.6L190.3 640.7L191.4 639.8L192.5 639.2L193.7 638.6L194.8 638.3L195.9 638.1L197 638.1L198.2 638.3L199.3 638.7L200.4 639.2L201.6 639.7L202.7 640.4L203.8 641.1L205 641.8L206.1 642.6L207.2 643.4L208.3 644.1L209.5 644.9L210.6 645.6L211.7 646.3L212.9 646.9L214 647.5L215.1 648.1L216.2 648.6L217.4 649.1L218.5 649.5L219.6 649.9L220.8 650.2L221.9 650.5L223 650.8L224.2 651L225.3 651.1L226.4 651.2L227.5 651.3L228.7 651.4L229.8 651.4L230.9 651.4L232.1 651.4L233.2 651.5L234.3 651.5L235.5 651.5L236.6 651.5L237.7 651.6L238.8 651.7L240 651.8L241.1 651.9L242.2 652.1L243.4 652.3L244.5 652.5L245.6 652.8L246.7 653.1L247.9 653.3L249 653.6L250.1 654L251.3 654.3L252.4 654.6L253.5 654.9L254.7 655.3L255.8 655.6L256.9 655.9L258 656.3L259.2 656.6L260.3 656.9L261.4 657.3L262.6 657.6L263.7 657.9L264.8 658.2L265.9 658.5L267.1 658.8L268.2 659.1L269.3 659.4L270.5 659.7L271.6 659.9L272.7 660.2L273.9 660.4L275 660.7L276.1 660.9L277.2 661.2L278.4 661.5L279.5 661.7L280.6 662L281.8 662.2L282.9 662.5L284 662.7L285.1 663L286.3 663.3L287.4 663.6L288.5 663.9L289.7 664.1L290.8 664.4L291.9 664.7L293.1 665L294.2 665.3L295.3 665.6L296.4 665.8L297.6 666.1L298.7 666.4L299.8 666.6L301 666.9L302.1 667.2L303.2 667.4L304.4 667.7L305.5 667.9L306.6 668.1L307.7 668.4L308.9 668.6L310 668.9L311.1 669.1L312.3 669.4L313.4 669.7L314.5 670L315.6 670.3L316.8 670.6L317.9 670.9L319 671.3L320.2 671.7L321.3 672.1L322.4 672.5L323.6 673L324.7 673.4L325.8 674L326.9 674.5L328.1 675.1L329.2 675.6L330.3 676.3L331.5 676.9L332.6 677.6L333.7 678.3L334.8 679L336 679.7L337.1 680.4L338.2 681.1L339.4 681.8L340.5 682.4L341.6 683.1L342.8 683.7L343.9 684.3L345 684.8L346.1 685.4L347.3 685.9L348.4 686.3L349.5 686.8L350.7 687.2L351.8 687.6L352.9 687.9L354 688.3L355.2 688.6L356.3 688.9L357.4 689.2L358.6 689.5L359.7 689.8L360.8 690L362 690.3L363.1 690.5L364.2 690.7L365.3 690.9L366.5 691.1L367.6 691.3L368.7 691.5L369.9 691.7L371 691.9L372.1 692.1L373.3 692.3L374.4 692.5L374.4 697.3L373.3 697.1L372.1 696.9L371 696.7L369.9 696.5L368.7 696.3L367.6 696.1L366.5 695.9L365.3 695.7L364.2 695.5L363.1 695.3L362 695.1L360.8 694.8L359.7 694.6L358.6 694.3L357.4 694.1L356.3 693.8L355.2 693.5L354 693.2L352.9 692.8L351.8 692.5L350.7 692.1L349.5 691.7L348.4 691.3L347.3 690.8L346.1 690.3L345 689.8L343.9 689.3L342.8 688.7L341.6 688.1L340.5 687.5L339.4 686.8L338.2 686.2L337.1 685.5L336 684.8L334.8 684.1L333.7 683.5L332.6 682.8L331.5 682.2L330.3 681.5L329.2 680.9L328.1 680.4L326.9 679.8L325.8 679.3L324.7 678.9L323.6 678.4L322.4 678L321.3 677.6L320.2 677.3L319 676.9L317.9 676.6L316.8 676.3L315.6 676L314.5 675.8L313.4 675.5L312.3 675.3L311.1 675.1L310 674.9L308.9 674.7L307.7 674.5L306.6 674.3L305.5 674.2L304.4 674L303.2 673.8L302.1 673.6L301 673.4L299.8 673.2L298.7 673L297.6 672.8L296.4 672.6L295.3 672.3L294.2 672.1L293.1 671.9L291.9 671.7L290.8 671.4L289.7 671.2L288.5 671L287.4 670.8L286.3 670.5L285.1 670.3L284 670.1L282.9 669.9L281.8 669.7L280.6 669.5L279.5 669.2L278.4 669L277.2 668.8L276.1 668.6L275 668.4L273.9 668.2L272.7 667.9L271.6 667.7L270.5 667.5L269.3 667.2L268.2 667L267.1 666.7L265.9 666.4L264.8 666.1L263.7 665.8L262.6 665.5L261.4 665.2L260.3 664.8L259.2 664.5L258 664.2L256.9 663.8L255.8 663.5L254.7 663.1L253.5 662.8L252.4 662.4L251.3 662.1L250.1 661.7L249 661.4L247.9 661L246.7 660.7L245.6 660.4L244.5 660.1L243.4 659.9L242.2 659.6L241.1 659.4L240 659.2L238.8 659L237.7 658.9L236.6 658.8L235.5 658.7L234.3 658.6L233.2 658.6L232.1 658.5L230.9 658.4L229.8 658.4L228.7 658.3L227.5 658.2L226.4 658.1L225.3 657.9L224.2 657.8L223 657.6L221.9 657.3L220.8 657.1L219.6 656.8L218.5 656.5L217.4 656.2L216.2 655.9L215.1 655.5L214 655.2L212.9 654.8L211.7 654.5L210.6 654.1L209.5 653.7L208.3 653.3L207.2 653L206.1 652.6L205 652.3L203.8 652L202.7 651.7L201.6 651.5L200.4 651.3L199.3 651.1L198.2 651.1L197 651.1L195.9 651.2L194.8 651.5L193.7 651.8L192.5 652.3L191.4 652.8L190.3 653.5L189.1 654.1L188 654.9L186.9 655.7L185.8 656.5L184.6 657.5L183.5 658.6L182.4 659.8L181.2 661.1L180.1 662.5L179 664.2L177.8 665.9L176.7 667.6L175.6 669.3L174.5 670.9L173.3 672.3L172.2 673.4L171.1 674.3L169.9 674.9L168.8 675.1L167.7 674.9L166.6 674.2L165.4 673.2L164.3 671.7L163.2 669.8L162 667.7L160.9 665.6L159.8 663.7L158.6 662.2L157.5 661.2L156.4 660.7L155.3 660.9L154.1 661.9L153 663.8L151.9 666.7L150.7 670.8L149.6 676.1L148.5 682.3L147.4 688.6L146.2 694.5L145.1 699.6L144 703.1L142.8 704.6L141.7 703.7L140.6 700.6L139.4 695.5L138.3 688.7L137.2 680.6L136.1 671.4L134.9 661.6L133.8 651.4L132.7 641.4L131.5 632.1L130.4 623.9L129.3 616.8L128.1 610.4L127 604.4L125.9 599.2L124.8 595.5L123.6 594.1L122.5 596.2L121.4 602.9L120.2 614.7L119.1 630.4L118 648.3L116.9 666.8L115.7 684.2L114.6 698.6L113.5 708.7L112.3 715.1L111.2 718.8L110.1 721L108.9 722.1L107.8 722.2L106.7 721.2L105.6 719.1L104.4 715.5L103.3 710.3Z" fill="#ffb4b4"/>
<path d="M103.3 714.3L104.4 716L105.6 717.5L106.7 718.5L107.8 719.1L108.9 719.1L110.1 718.5L111.2 717.6L112.3 716.3L113.5 714.6L114.6 712L115.7 708.1L116.9 702.4L118 694.3L119.1 683.6L120.2 670.3L121.4 654.2L122.5 635.4L123.6 615.6L124.8 596.7L125.9 580.8L127 569.6L128.1 563L129.3 560.7L130.4 562.5L131.5 567.9L132.7 576.7L133.8 588.4L134.9 602.3L136.1 617.9L137.2 634.2L138.3 650.7L139.4 666.3L140.6 679.9L141.7 690.5L142.8 697.2L144 700.7L145.1 701.6L146.2 700.8L147.4 698.8L148.5 696.5L149.6 694.4L150.7 692.7L151.9 691.1L153 689.8L154.1 688.5L155.3 687.3L156.4 686.3L157.5 685.5L158.6 684.9L159.8 684.6L160.9 684.6L162 684.8L163.2 685.2L164.3 685.8L165.4 686.4L166.6 686.9L167.7 687.3L168.8 687.4L169.9 687.1L171.1 686.5L172.2 685.7L173.3 684.7L174.5 683.6L175.6 682.6L176.7 681.6L177.8 680.7L179 679.9L180.1 679.1L181.2 678.4L182.4 677.8L183.5 677.1L184.6 676.6L185.8 676L186.9 675.4L188 674.9L189.1 674.4L190.3 673.9L191.4 673.4L192.5 672.9L193.7 672.4L194.8 672L195.9 671.5L197 671.1L198.2 670.6L199.3 670.1L200.4 669.5L201.6 668.9L202.7 668.2L203.8 667.4L205 666.5L206.1 665.6L207.2 664.7L208.3 663.8L209.5 662.8L210.6 661.9L211.7 660.9L212.9 660.1L214 659.2L215.1 658.4L216.2 657.6L217.4 656.9L218.5 656.1L219.6 655.3L220.8 654.5L221.9 653.7L223 652.9L224.2 652L225.3 651.1L226.4 650.2L227.5 649.2L228.7 648.3L229.8 647.3L230.9 646.3L232.1 645.3L233.2 644.2L234.3 643.2L235.5 642.2L236.6 641.2L237.7 640.2L238.8 639.2L240 638.3L241.1 637.3L242.2 636.4L243.4 635.5L244.5 634.6L245.6 633.8L246.7 632.9L247.9 632.1L249 631.3L250.1 630.5L251.3 629.7L252.4 629L253.5 628.3L254.7 627.6L255.8 626.9L256.9 626.3L258 625.7L259.2 625.1L260.3 624.6L261.4 624.1L262.6 623.7L263.7 623.3L264.8 623L265.9 622.8L267.1 622.6L268.2 622.5L269.3 622.5L270.5 622.5L271.6 622.7L272.7 622.8L273.9 623.1L275 623.4L276.1 623.7L277.2 624.2L278.4 624.6L279.5 625.1L280.6 625.7L281.8 626.3L282.9 626.9L284 627.6L285.1 628.3L286.3 629L287.4 629.8L288.5 630.6L289.7 631.5L290.8 632.4L291.9 633.3L293.1 634.2L294.2 635.2L295.3 636.2L296.4 637.2L297.6 638.2L298.7 639.3L299.8 640.3L301 641.4L302.1 642.5L303.2 643.6L304.4 644.7L305.5 645.8L306.6 646.9L307.7 648L308.9 649.1L310 650.2L311.1 651.3L312.3 652.4L313.4 653.5L314.5 654.6L315.6 655.7L316.8 656.8L317.9 657.9L319 659.1L320.2 660.2L321.3 661.4L322.4 662.6L323.6 663.7L324.7 664.9L325.8 666.1L326.9 667.3L328.1 668.4L329.2 669.6L330.3 670.7L331.5 671.8L332.6 672.8L333.7 673.9L334.8 674.9L336 675.8L337.1 676.8L338.2 677.7L339.4 678.6L340.5 679.4L341.6 680.2L342.8 681L343.9 681.8L345 682.5L346.1 683.2L347.3 683.9L348.4 684.6L349.5 685.2L350.7 685.8L351.8 686.4L352.9 687L354 687.6L355.2 688.1L356.3 688.6L357.4 689.1L358.6 689.6L359.7 690L360.8 690.5L362 690.9L363.1 691.2L364.2 691.6L365.3 691.9L366.5 692.2L367.6 692.5L368.7 692.8L369.9 693L371 693.2L372.1 693.4L373.3 693.6L374.4 693.7L374.4 696.9L373.3 696.8L372.1 696.6L371 696.5L369.9 696.3L368.7 696L367.6 695.8L366.5 695.5L365.3 695.2L364.2 694.9L363.1 694.6L362 694.2L360.8 693.8L359.7 693.4L358.6 693L357.4 692.6L356.3 692.1L355.2 691.6L354 691.1L352.9 690.6L351.8 690.1L350.7 689.5L349.5 688.9L348.4 688.3L347.3 687.7L346.1 687.1L345 686.4L343.9 685.8L342.8 685.1L341.6 684.4L340.5 683.7L339.4 682.9L338.2 682.1L337.1 681.3L336 680.5L334.8 679.6L333.7 678.8L332.6 677.8L331.5 676.9L330.3 675.9L329.2 675L328.1 674L326.9 673L325.8 672L324.7 671L323.6 670L322.4 669L321.3 668L320.2 667.1L319 666.1L317.9 665.2L316.8 664.3L315.6 663.4L314.5 662.6L313.4 661.7L312.3 660.8L311.1 660L310 659.2L308.9 658.3L307.7 657.5L306.6 656.7L305.5 655.8L304.4 655L303.2 654.2L302.1 653.4L301 652.5L299.8 651.7L298.7 650.9L297.6 650.2L296.4 649.4L295.3 648.6L294.2 647.9L293.1 647.2L291.9 646.5L290.8 645.8L289.7 645.2L288.5 644.6L287.4 644L286.3 643.4L285.1 642.8L284 642.3L282.9 641.8L281.8 641.3L280.6 640.9L279.5 640.4L278.4 640.1L277.2 639.7L276.1 639.4L275 639.1L273.9 638.8L272.7 638.6L271.6 638.5L270.5 638.4L269.3 638.3L268.2 638.3L267.1 638.4L265.9 638.5L264.8 638.7L263.7 638.9L262.6 639.1L261.4 639.4L260.3 639.8L259.2 640.1L258 640.5L256.9 641L255.8 641.4L254.7 641.9L253.5 642.4L252.4 642.9L251.3 643.4L250.1 644L249 644.5L247.9 645.1L246.7 645.6L245.6 646.2L244.5 646.8L243.4 647.4L242.2 648.1L241.1 648.7L240 649.4L238.8 650.1L237.7 650.8L236.6 651.5L235.5 652.2L234.3 653L233.2 653.7L232.1 654.5L230.9 655.2L229.8 656L228.7 656.7L227.5 657.4L226.4 658.2L225.3 658.9L224.2 659.5L223 660.2L221.9 660.8L220.8 661.4L219.6 662L218.5 662.5L217.4 663.1L216.2 663.7L215.1 664.3L214 665L212.9 665.6L211.7 666.4L210.6 667.1L209.5 667.9L208.3 668.8L207.2 669.6L206.1 670.4L205 671.2L203.8 671.9L202.7 672.6L201.6 673.2L200.4 673.7L199.3 674.2L198.2 674.7L197 675.1L195.9 675.5L194.8 675.9L193.7 676.3L192.5 676.7L191.4 677.1L190.3 677.5L189.1 678L188 678.5L186.9 679L185.8 679.5L184.6 680L183.5 680.6L182.4 681.2L181.2 681.8L180.1 682.5L179 683.2L177.8 684.1L176.7 684.9L175.6 685.9L174.5 686.9L173.3 688L172.2 688.9L171.1 689.7L169.9 690.3L168.8 690.6L167.7 690.5L166.6 690.1L165.4 689.6L164.3 689L163.2 688.5L162 688L160.9 687.8L159.8 687.8L158.6 688.1L157.5 688.7L156.4 689.5L155.3 690.5L154.1 691.7L153 692.9L151.9 694.3L150.7 695.8L149.6 697.6L148.5 699.7L147.4 702L146.2 703.9L145.1 704.8L144 703.9L142.8 700.5L141.7 693.8L140.6 683.4L139.4 670.1L138.3 655L137.2 639.3L136.1 623.8L134.9 609.4L133.8 596.6L132.7 586L131.5 578.2L130.4 573.4L129.3 571.8L128.1 573.7L127 579.5L125.9 589.8L124.8 604.5L123.6 622.1L122.5 640.9L121.4 658.9L120.2 674.5L119.1 687.4L118 697.7L116.9 705.7L115.7 711.4L114.6 715.2L113.5 717.7L112.3 719.4L111.2 720.8L110.1 721.7L108.9 722.2L107.8 722.2L106.7 721.7L105.6 720.6L104.4 719.2L103.3 717.5Z" fill="#b4b4ff" fill-opacity="0.9"/>
<path d="M103.3 708L104.4 713.1L105.6 716.7L106.7 718.9L107.8 719.8L108.9 719.7L110.1 718.6L111.2 716.4L112.3 712.7L113.5 706.3L114.6 696.1L115.7 681.6L116.9 663.9L118 644.7L119.1 625.6L120.2 608L121.4 593.2L122.5 582.3L123.6 574.9L124.8 570.4L125.9 568.3L127 569L128.1 572.6L129.3 579.3L130.4 589.3L131.5 602.3L132.7 617.4L133.8 633.2L134.9 648.6L136.1 662.4L137.2 674.3L138.3 684.3L139.4 692.1L140.6 697.8L141.7 701.2L142.8 702.1L144 700.7L145.1 697.2L146.2 692.1L147.4 686.2L148.5 679.9L149.6 673.7L150.7 668.4L151.9 664.3L153 661.4L154.1 659.5L155.3 658.5L156.4 658.3L157.5 658.7L158.6 659.8L159.8 661.3L160.9 663.2L162 665.3L163.2 667.3L164.3 669.2L165.4 670.6L166.6 671.6L167.7 672.2L168.8 672.4L169.9 672.1L171.1 671.5L172.2 670.5L173.3 669.2L174.5 667.7L175.6 665.9L176.7 664.1L177.8 662.2L179 660.3L180.1 658.5L181.2 656.8L182.4 655.3L183.5 653.9L184.6 652.7L185.8 651.5L186.9 650.4L188 649.5L189.1 648.6L190.3 647.8L191.4 647.1L192.5 646.5L193.7 646L194.8 645.7L195.9 645.5L197 645.4L198.2 645.4L199.3 645.6L200.4 645.9L201.6 646.2L202.7 646.6L203.8 647.1L205 647.6L206.1 648L207.2 648.6L208.3 649.1L209.5 649.6L210.6 650.1L211.7 650.6L212.9 651.1L214 651.5L215.1 652L216.2 652.4L217.4 652.7L218.5 653.1L219.6 653.4L220.8 653.7L221.9 654L223 654.2L224.2 654.4L225.3 654.6L226.4 654.7L227.5 654.8L228.7 654.8L229.8 654.9L230.9 654.9L232.1 655L233.2 655L234.3 655L235.5 655.1L236.6 655.1L237.7 655.2L238.8 655.3L240 655.5L241.1 655.7L242.2 655.9L243.4 656.1L244.5 656.3L245.6 656.6L246.7 656.9L247.9 657.2L249 657.5L250.1 657.8L251.3 658.2L252.4 658.5L253.5 658.9L254.7 659.2L255.8 659.5L256.9 659.9L258 660.2L259.2 660.6L260.3 660.9L261.4 661.2L262.6 661.5L263.7 661.9L264.8 662.2L265.9 662.5L267.1 662.8L268.2 663L269.3 663.3L270.5 663.6L271.6 663.8L272.7 664.1L273.9 664.3L275 664.5L276.1 664.8L277.2 665L278.4 665.2L279.5 665.5L280.6 665.7L281.8 665.9L282.9 666.2L284 666.4L285.1 666.7L286.3 666.9L287.4 667.2L288.5 667.4L289.7 667.7L290.8 667.9L291.9 668.2L293.1 668.4L294.2 668.7L295.3 668.9L296.4 669.2L297.6 669.4L298.7 669.7L299.8 669.9L301 670.2L302.1 670.4L303.2 670.6L304.4 670.8L305.5 671L306.6 671.2L307.7 671.4L308.9 671.7L310 671.9L311.1 672.1L312.3 672.4L313.4 672.6L314.5 672.9L315.6 673.1L316.8 673.4L317.9 673.8L319 674.1L320.2 674.5L321.3 674.9L322.4 675.3L323.6 675.7L324.7 676.2L325.8 676.6L326.9 677.2L328.1 677.7L329.2 678.3L330.3 678.9L331.5 679.5L332.6 680.2L333.7 680.9L334.8 681.6L336 682.3L337.1 682.9L338.2 683.6L339.4 684.3L340.5 685L341.6 685.6L342.8 686.2L343.9 686.8L345 687.3L346.1 687.8L347.3 688.3L348.4 688.8L349.5 689.2L350.7 689.6L351.8 690L352.9 690.4L354 690.7L355.2 691L356.3 691.4L357.4 691.6L358.6 691.9L359.7 692.2L360.8 692.4L362 692.7L363.1 692.9L364.2 693.1L365.3 693.3L366.5 693.5L367.6 693.7L368.7 693.9L369.9 694.1L371 694.3L372.1 694.5L373.3 694.7L374.4 694.9" fill="none" stroke="#f01020" stroke-width="2.3" stroke-linejoin="round"/>
<path d="M103.3 715.9L104.4 717.6L105.6 719.1L106.7 720.1L107.8 720.6L108.9 720.6L110.1 720.1L111.2 719.2L112.3 717.9L113.5 716.1L114.6 713.6L115.7 709.7L116.9 704L118 696L119.1 685.5L120.2 672.4L121.4 656.5L122.5 638.2L123.6 618.9L124.8 600.6L125.9 585.3L127 574.6L128.1 568.3L129.3 566.3L130.4 567.9L131.5 573.1L132.7 581.3L133.8 592.5L134.9 605.9L136.1 620.8L137.2 636.7L138.3 652.9L139.4 668.2L140.6 681.7L141.7 692.1L142.8 698.9L144 702.3L145.1 703.2L146.2 702.3L147.4 700.4L148.5 698.1L149.6 696L150.7 694.3L151.9 692.7L153 691.4L154.1 690.1L155.3 688.9L156.4 687.9L157.5 687.1L158.6 686.5L159.8 686.2L160.9 686.2L162 686.4L163.2 686.9L164.3 687.4L165.4 688L166.6 688.5L167.7 688.9L168.8 689L169.9 688.7L171.1 688.1L172.2 687.3L173.3 686.3L174.5 685.3L175.6 684.2L176.7 683.3L177.8 682.4L179 681.6L180.1 680.8L181.2 680.1L182.4 679.5L183.5 678.9L184.6 678.3L185.8 677.7L186.9 677.2L188 676.7L189.1 676.2L190.3 675.7L191.4 675.2L192.5 674.8L193.7 674.3L194.8 673.9L195.9 673.5L197 673.1L198.2 672.6L199.3 672.1L200.4 671.6L201.6 671L202.7 670.4L203.8 669.7L205 668.9L206.1 668L207.2 667.1L208.3 666.3L209.5 665.4L210.6 664.5L211.7 663.7L212.9 662.9L214 662.1L215.1 661.4L216.2 660.7L217.4 660L218.5 659.3L219.6 658.6L220.8 658L221.9 657.3L223 656.5L224.2 655.8L225.3 655L226.4 654.2L227.5 653.3L228.7 652.5L229.8 651.6L230.9 650.8L232.1 649.9L233.2 649L234.3 648.1L235.5 647.2L236.6 646.4L237.7 645.5L238.8 644.7L240 643.8L241.1 643L242.2 642.2L243.4 641.5L244.5 640.7L245.6 640L246.7 639.3L247.9 638.6L249 637.9L250.1 637.2L251.3 636.6L252.4 636L253.5 635.3L254.7 634.7L255.8 634.2L256.9 633.6L258 633.1L259.2 632.6L260.3 632.2L261.4 631.8L262.6 631.4L263.7 631.1L264.8 630.8L265.9 630.6L267.1 630.5L268.2 630.4L269.3 630.4L270.5 630.5L271.6 630.6L272.7 630.7L273.9 631L275 631.2L276.1 631.6L277.2 631.9L278.4 632.3L279.5 632.8L280.6 633.3L281.8 633.8L282.9 634.3L284 634.9L285.1 635.6L286.3 636.2L287.4 636.9L288.5 637.6L289.7 638.3L290.8 639.1L291.9 639.9L293.1 640.7L294.2 641.5L295.3 642.4L296.4 643.3L297.6 644.2L298.7 645.1L299.8 646L301 647L302.1 647.9L303.2 648.9L304.4 649.9L305.5 650.8L306.6 651.8L307.7 652.7L308.9 653.7L310 654.7L311.1 655.6L312.3 656.6L313.4 657.6L314.5 658.6L315.6 659.6L316.8 660.6L317.9 661.6L319 662.6L320.2 663.7L321.3 664.7L322.4 665.8L323.6 666.9L324.7 668L325.8 669L326.9 670.1L328.1 671.2L329.2 672.3L330.3 673.3L331.5 674.3L332.6 675.3L333.7 676.3L334.8 677.3L336 678.2L337.1 679.1L338.2 679.9L339.4 680.7L340.5 681.5L341.6 682.3L342.8 683L343.9 683.8L345 684.5L346.1 685.2L347.3 685.8L348.4 686.5L349.5 687.1L350.7 687.7L351.8 688.3L352.9 688.8L354 689.3L355.2 689.9L356.3 690.4L357.4 690.8L358.6 691.3L359.7 691.7L360.8 692.1L362 692.5L363.1 692.9L364.2 693.2L365.3 693.6L366.5 693.9L367.6 694.1L368.7 694.4L369.9 694.6L371 694.8L372.1 695L373.3 695.2L374.4 695.3" fill="none" stroke="#1818f0" stroke-width="2.3" stroke-linejoin="round"/>
<path d="M103.3 521.5V735H375" stroke="#686868" stroke-width="1.5" fill="none"/>
<line x1="103.3" y1="715.9" x2="106.8" y2="715.9" stroke="#686868" stroke-width="1"/>
<line x1="103.3" y1="696.1" x2="106.8" y2="696.1" stroke="#686868" stroke-width="1"/>
<line x1="103.3" y1="676.3" x2="106.8" y2="676.3" stroke="#686868" stroke-width="1"/>
<line x1="103.3" y1="656.5" x2="106.8" y2="656.5" stroke="#686868" stroke-width="1"/>
<line x1="103.3" y1="636.7" x2="106.8" y2="636.7" stroke="#686868" stroke-width="1"/>
<line x1="103.3" y1="617" x2="106.8" y2="617" stroke="#686868" stroke-width="1"/>
<line x1="103.3" y1="597.2" x2="106.8" y2="597.2" stroke="#686868" stroke-width="1"/>
<line x1="103.3" y1="577.4" x2="106.8" y2="577.4" stroke="#686868" stroke-width="1"/>
<line x1="103.3" y1="557.6" x2="106.8" y2="557.6" stroke="#686868" stroke-width="1"/>
<line x1="103.3" y1="537.8" x2="106.8" y2="537.8" stroke="#686868" stroke-width="1"/>
<line x1="148.5" y1="735" x2="148.5" y2="731.5" stroke="#686868" stroke-width="1"/>
<line x1="193.7" y1="735" x2="193.7" y2="731.5" stroke="#686868" stroke-width="1"/>
<line x1="238.8" y1="735" x2="238.8" y2="731.5" stroke="#686868" stroke-width="1"/>
<line x1="284" y1="735" x2="284" y2="731.5" stroke="#686868" stroke-width="1"/>
<line x1="329.2" y1="735" x2="329.2" y2="731.5" stroke="#686868" stroke-width="1"/>
<line x1="374.4" y1="735" x2="374.4" y2="731.5" stroke="#686868" stroke-width="1"/>
<text font-size="20.6" text-anchor="end" x="101" y="740.9">−100</text>
<text font-size="20.6" text-anchor="end" x="99" y="703.3">0</text>
<text font-size="20.6" text-anchor="end" x="99" y="663.7">100</text>
<text font-size="20.6" text-anchor="end" x="99" y="624.2">200</text>
<text font-size="20.6" text-anchor="end" x="99" y="584.6">300</text>
<text font-size="20.6" text-anchor="end" x="99" y="545">400</text>
<text font-size="20.6" text-anchor="middle" x="103.3" y="754.5">0</text>
<text font-size="20.6" text-anchor="middle" x="148.5" y="754.5">10</text>
<text font-size="20.6" text-anchor="middle" x="193.7" y="754.5">20</text>
<text font-size="20.6" text-anchor="middle" x="238.8" y="754.5">30</text>
<text font-size="20.6" text-anchor="middle" x="284" y="754.5">40</text>
<text font-size="20.6" text-anchor="middle" x="329.2" y="754.5">50</text>
<text font-size="20.6" text-anchor="middle" x="375.9" y="754.5">60</text>
<text font-size="24.8" text-anchor="middle" x="244.5" y="779.5">Frequency (Hz)</text>
<text font-size="24.8" text-anchor="middle" transform="translate(45.8 629.5) rotate(-90)">% Change in power</text>
<circle cx="151.8" cy="597.3" r="1.9" fill="#2bee2b"/>
<circle cx="156.5" cy="597.3" r="1.9" fill="#2bee2b"/>
<circle cx="161.1" cy="597.3" r="1.9" fill="#2bee2b"/>
<circle cx="165.8" cy="597.3" r="1.9" fill="#2bee2b"/>
<circle cx="170.4" cy="597.3" r="1.9" fill="#2bee2b"/>
<circle cx="175.1" cy="597.3" r="1.9" fill="#2bee2b"/>
<circle cx="179.7" cy="597.3" r="1.9" fill="#2bee2b"/>
<circle cx="184.4" cy="597.3" r="1.9" fill="#2bee2b"/>
<circle cx="189" cy="597.3" r="1.9" fill="#2bee2b"/>
<circle cx="193.7" cy="597.3" r="1.9" fill="#2bee2b"/>
<circle cx="198.3" cy="597.3" r="1.9" fill="#2bee2b"/>
<circle cx="202.9" cy="597.3" r="1.9" fill="#2bee2b"/>
<circle cx="207.6" cy="597.3" r="1.9" fill="#2bee2b"/>
<circle cx="212.2" cy="597.3" r="1.9" fill="#2bee2b"/>
<circle cx="216.9" cy="597.3" r="1.9" fill="#2bee2b"/>
<circle cx="251.4" cy="597.3" r="1.9" fill="#2bee2b"/>
<circle cx="256.1" cy="597.3" r="1.9" fill="#2bee2b"/>
<circle cx="260.8" cy="597.3" r="1.9" fill="#2bee2b"/>
<circle cx="265.4" cy="597.3" r="1.9" fill="#2bee2b"/>
<circle cx="270.1" cy="597.3" r="1.9" fill="#2bee2b"/>
<circle cx="274.8" cy="597.3" r="1.9" fill="#2bee2b"/>
<circle cx="279.5" cy="597.3" r="1.9" fill="#2bee2b"/>
<circle cx="284.1" cy="597.3" r="1.9" fill="#2bee2b"/>
<circle cx="288.8" cy="597.3" r="1.9" fill="#2bee2b"/>
<circle cx="293.5" cy="597.3" r="1.9" fill="#2bee2b"/>
<circle cx="298.2" cy="597.3" r="1.9" fill="#2bee2b"/>
<circle cx="302.9" cy="597.3" r="1.9" fill="#2bee2b"/>
<circle cx="307.5" cy="597.3" r="1.9" fill="#2bee2b"/>
<circle cx="312.2" cy="597.3" r="1.9" fill="#2bee2b"/>
<circle cx="316.9" cy="597.3" r="1.9" fill="#2bee2b"/>
<text font-size="20.3" x="182" y="584" fill="#111">*<tspan font-style="italic">q</tspan> &lt; 0.05</text>
<text font-size="20.5" font-weight="bold" fill="#f01020" x="156.6" y="635.5">dCA1</text>
<text font-size="20.5" font-weight="bold" fill="#1818f0" x="315.3" y="646.5">pCA1</text>
<text font-size="33" font-weight="bold" fill="#000" x="443" y="499.5">d</text>
<path d="M557.6 522V735.8H829" stroke="#686868" stroke-width="1.5" fill="none"/>
<line x1="557.6" y1="735.8" x2="561" y2="735.8" stroke="#686868" stroke-width="1"/>
<line x1="557.6" y1="714.4" x2="561" y2="714.4" stroke="#686868" stroke-width="1"/>
<line x1="557.6" y1="693.1" x2="561" y2="693.1" stroke="#686868" stroke-width="1"/>
<line x1="557.6" y1="671.7" x2="561" y2="671.7" stroke="#686868" stroke-width="1"/>
<line x1="557.6" y1="650.4" x2="561" y2="650.4" stroke="#686868" stroke-width="1"/>
<line x1="557.6" y1="629" x2="561" y2="629" stroke="#686868" stroke-width="1"/>
<line x1="557.6" y1="607.6" x2="561" y2="607.6" stroke="#686868" stroke-width="1"/>
<line x1="557.6" y1="586.3" x2="561" y2="586.3" stroke="#686868" stroke-width="1"/>
<line x1="557.6" y1="564.9" x2="561" y2="564.9" stroke="#686868" stroke-width="1"/>
<line x1="557.6" y1="543.6" x2="561" y2="543.6" stroke="#686868" stroke-width="1"/>
<line x1="557.6" y1="522.2" x2="561" y2="522.2" stroke="#686868" stroke-width="1"/>
<line x1="570.5" y1="735.8" x2="570.5" y2="732.3" stroke="#686868" stroke-width="1"/>
<line x1="619.7" y1="735.8" x2="619.7" y2="732.3" stroke="#686868" stroke-width="1"/>
<line x1="668.9" y1="735.8" x2="668.9" y2="732.3" stroke="#686868" stroke-width="1"/>
<line x1="718.2" y1="735.8" x2="718.2" y2="732.3" stroke="#686868" stroke-width="1"/>
<line x1="767.4" y1="735.8" x2="767.4" y2="732.3" stroke="#686868" stroke-width="1"/>
<line x1="816.6" y1="735.8" x2="816.6" y2="732.3" stroke="#686868" stroke-width="1"/>
<text font-size="20.6" text-anchor="end" x="552" y="529.4">2</text>
<text font-size="20.6" text-anchor="end" x="552" y="636.6">1</text>
<text font-size="20.6" text-anchor="end" x="552" y="743">0</text>
<text font-size="20.6" text-anchor="middle" x="570.5" y="755">0</text>
<text font-size="20.6" text-anchor="middle" x="619.7" y="755">0.2</text>
<text font-size="20.6" text-anchor="middle" x="668.9" y="755">0.4</text>
<text font-size="20.6" text-anchor="middle" x="718.2" y="755">0.6</text>
<text font-size="20.6" text-anchor="middle" x="767.4" y="755">0.8</text>
<text font-size="20.6" text-anchor="middle" x="816.6" y="755">1</text>
<text font-size="24.8" text-anchor="middle" x="691" y="778.5">DP distance</text>
<text font-size="25" text-anchor="middle" transform="translate(499.5 633) rotate(-90)">20-25/33-40Hz</text>
<text font-size="24.8" text-anchor="middle" transform="translate(525.5 629.5) rotate(-90)">power ratio</text>
<circle cx="571.3" cy="578.8" r="2.9" fill="#f01020"/>
<circle cx="614.7" cy="557.9" r="2.9" fill="#f01020"/>
<circle cx="627.1" cy="617" r="2.9" fill="#f01020"/>
<circle cx="634.7" cy="621" r="2.9" fill="#f01020"/>
<circle cx="620.3" cy="626.6" r="2.9" fill="#f01020"/>
<circle cx="597.8" cy="635.8" r="2.9" fill="#f01020"/>
<circle cx="646.8" cy="634.6" r="2.9" fill="#f01020"/>
<circle cx="593" cy="653.5" r="2.9" fill="#f01020"/>
<circle cx="621.1" cy="659.5" r="2.9" fill="#f01020"/>
<circle cx="652.8" cy="567.2" r="2.9" fill="#22ee22"/>
<circle cx="652.4" cy="603.3" r="2.9" fill="#22ee22"/>
<circle cx="695" cy="586.4" r="2.9" fill="#22ee22"/>
<circle cx="680.9" cy="629.4" r="2.9" fill="#22ee22"/>
<circle cx="660.8" cy="645.5" r="2.9" fill="#22ee22"/>
<circle cx="674.9" cy="644.7" r="2.9" fill="#22ee22"/>
<circle cx="726.7" cy="641.5" r="2.9" fill="#22ee22"/>
<circle cx="651.2" cy="672.4" r="2.9" fill="#22ee22"/>
<circle cx="669.3" cy="666.3" r="2.9" fill="#22ee22"/>
<circle cx="678.9" cy="670" r="2.9" fill="#22ee22"/>
<circle cx="717.9" cy="663.5" r="2.9" fill="#22ee22"/>
<circle cx="729.1" cy="666.7" r="2.9" fill="#22ee22"/>
<circle cx="726.3" cy="676.8" r="2.9" fill="#22ee22"/>
<circle cx="720.3" cy="682.4" r="2.9" fill="#22ee22"/>
<circle cx="689.7" cy="694.9" r="2.9" fill="#22ee22"/>
<circle cx="660.4" cy="702.1" r="2.9" fill="#22ee22"/>
<circle cx="724.3" cy="702.1" r="2.9" fill="#22ee22"/>
<circle cx="780.5" cy="617.4" r="2.9" fill="#1818f0"/>
<circle cx="763.6" cy="644.7" r="2.9" fill="#1818f0"/>
<circle cx="798.6" cy="645.9" r="2.9" fill="#1818f0"/>
<circle cx="765.6" cy="663.1" r="2.9" fill="#1818f0"/>
<circle cx="815.8" cy="662.3" r="2.9" fill="#1818f0"/>
<circle cx="813.4" cy="668" r="2.9" fill="#1818f0"/>
<circle cx="779.3" cy="668.4" r="2.9" fill="#1818f0"/>
<circle cx="790.5" cy="671.2" r="2.9" fill="#1818f0"/>
<circle cx="740.7" cy="670.8" r="2.9" fill="#1818f0"/>
<circle cx="749.6" cy="670.8" r="2.9" fill="#1818f0"/>
<circle cx="780.9" cy="677.6" r="2.9" fill="#1818f0"/>
<circle cx="764.4" cy="688" r="2.9" fill="#1818f0"/>
<circle cx="763.6" cy="690.4" r="2.9" fill="#1818f0"/>
<circle cx="787.3" cy="701.7" r="2.9" fill="#1818f0"/>
<line x1="570.5" y1="615" x2="816.6" y2="681.2" stroke="#111" stroke-width="1.6"/>
<text font-size="33" font-weight="bold" fill="#000" x="1472" y="27">e</text>
<text font-size="29" text-anchor="middle" fill="#111" x="1798" y="36">dCA1-pCA1 coherence</text>
<g clip-path="url(#heCa)"><g filter="url(#heFa)"><rect x="1558.8" y="70" width="518" height="10.18" fill="url(#hea0)"/><rect x="1558.8" y="78.98" width="518" height="4.18" fill="url(#hea1)"/><rect x="1558.8" y="81.96" width="518" height="4.18" fill="url(#hea2)"/><rect x="1558.8" y="84.93" width="518" height="4.18" fill="url(#hea3)"/><rect x="1558.8" y="87.91" width="518" height="4.18" fill="url(#hea4)"/><rect x="1558.8" y="90.89" width="518" height="4.18" fill="url(#hea5)"/><rect x="1558.8" y="93.87" width="518" height="4.18" fill="url(#hea6)"/><rect x="1558.8" y="96.85" width="518" height="4.18" fill="url(#hea7)"/><rect x="1558.8" y="99.83" width="518" height="4.18" fill="url(#hea8)"/><rect x="1558.8" y="102.8" width="518" height="4.18" fill="url(#hea9)"/><rect x="1558.8" y="105.78" width="518" height="4.18" fill="url(#hea10)"/><rect x="1558.8" y="108.76" width="518" height="4.18" fill="url(#hea11)"/><rect x="1558.8" y="111.74" width="518" height="4.18" fill="url(#hea12)"/><rect x="1558.8" y="114.72" width="518" height="4.18" fill="url(#hea13)"/><rect x="1558.8" y="117.7" width="518" height="4.18" fill="url(#hea14)"/><rect x="1558.8" y="120.67" width="518" height="4.18" fill="url(#hea15)"/><rect x="1558.8" y="123.65" width="518" height="4.18" fill="url(#hea16)"/><rect x="1558.8" y="126.63" width="518" height="4.18" fill="url(#hea17)"/><rect x="1558.8" y="129.61" width="518" height="4.18" fill="url(#hea18)"/><rect x="1558.8" y="132.59" width="518" height="4.18" fill="url(#hea19)"/><rect x="1558.8" y="135.57" width="518" height="4.18" fill="url(#hea20)"/><rect x="1558.8" y="138.54" width="518" height="4.18" fill="url(#hea21)"/><rect x="1558.8" y="141.52" width="518" height="4.18" fill="url(#hea22)"/><rect x="1558.8" y="144.5" width="518" height="4.18" fill="url(#hea23)"/><rect x="1558.8" y="147.48" width="518" height="4.18" fill="url(#hea24)"/><rect x="1558.8" y="150.46" width="518" height="4.18" fill="url(#hea25)"/><rect x="1558.8" y="153.43" width="518" height="4.18" fill="url(#hea26)"/><rect x="1558.8" y="156.41" width="518" height="4.18" fill="url(#hea27)"/><rect x="1558.8" y="159.39" width="518" height="4.18" fill="url(#hea28)"/><rect x="1558.8" y="162.37" width="518" height="4.18" fill="url(#hea29)"/><rect x="1558.8" y="165.35" width="518" height="4.18" fill="url(#hea30)"/><rect x="1558.8" y="168.33" width="518" height="4.18" fill="url(#hea31)"/><rect x="1558.8" y="171.3" width="518" height="4.18" fill="url(#hea32)"/><rect x="1558.8" y="174.28" width="518" height="4.18" fill="url(#hea33)"/><rect x="1558.8" y="177.26" width="518" height="4.18" fill="url(#hea34)"/><rect x="1558.8" y="180.24" width="518" height="4.18" fill="url(#hea35)"/><rect x="1558.8" y="183.22" width="518" height="4.18" fill="url(#hea36)"/><rect x="1558.8" y="186.2" width="518" height="4.18" fill="url(#hea37)"/><rect x="1558.8" y="189.17" width="518" height="4.18" fill="url(#hea38)"/><rect x="1558.8" y="192.15" width="518" height="4.18" fill="url(#hea39)"/><rect x="1558.8" y="195.13" width="518" height="4.18" fill="url(#hea40)"/><rect x="1558.8" y="198.11" width="518" height="4.18" fill="url(#hea41)"/><rect x="1558.8" y="201.09" width="518" height="4.18" fill="url(#hea42)"/><rect x="1558.8" y="204.07" width="518" height="4.18" fill="url(#hea43)"/><rect x="1558.8" y="207.04" width="518" height="4.18" fill="url(#hea44)"/><rect x="1558.8" y="210.02" width="518" height="4.18" fill="url(#hea45)"/><rect x="1558.8" y="213" width="518" height="12" fill="url(#hea46)"/></g></g>
<rect x="1564.8" y="76" width="506" height="137" fill="none" stroke="#0a4a5a" stroke-width="1"/>
<line x1="1599.2" y1="213" x2="1599.2" y2="207.5" stroke="#123" stroke-width="0.9"/>
<line x1="1599.2" y1="76" x2="1599.2" y2="81.5" stroke="#123" stroke-width="0.9"/>
<line x1="1654" y1="213" x2="1654" y2="207.5" stroke="#123" stroke-width="0.9"/>
<line x1="1654" y1="76" x2="1654" y2="81.5" stroke="#123" stroke-width="0.9"/>
<line x1="1708.7" y1="213" x2="1708.7" y2="207.5" stroke="#123" stroke-width="0.9"/>
<line x1="1708.7" y1="76" x2="1708.7" y2="81.5" stroke="#123" stroke-width="0.9"/>
<line x1="1763.5" y1="213" x2="1763.5" y2="207.5" stroke="#123" stroke-width="0.9"/>
<line x1="1763.5" y1="76" x2="1763.5" y2="81.5" stroke="#123" stroke-width="0.9"/>
<line x1="1818.2" y1="213" x2="1818.2" y2="207.5" stroke="#123" stroke-width="0.9"/>
<line x1="1818.2" y1="76" x2="1818.2" y2="81.5" stroke="#123" stroke-width="0.9"/>
<line x1="1873" y1="213" x2="1873" y2="207.5" stroke="#123" stroke-width="0.9"/>
<line x1="1873" y1="76" x2="1873" y2="81.5" stroke="#123" stroke-width="0.9"/>
<line x1="1927.7" y1="213" x2="1927.7" y2="207.5" stroke="#123" stroke-width="0.9"/>
<line x1="1927.7" y1="76" x2="1927.7" y2="81.5" stroke="#123" stroke-width="0.9"/>
<line x1="1982.5" y1="213" x2="1982.5" y2="207.5" stroke="#123" stroke-width="0.9"/>
<line x1="1982.5" y1="76" x2="1982.5" y2="81.5" stroke="#123" stroke-width="0.9"/>
<line x1="2037.2" y1="213" x2="2037.2" y2="207.5" stroke="#123" stroke-width="0.9"/>
<line x1="2037.2" y1="76" x2="2037.2" y2="81.5" stroke="#123" stroke-width="0.9"/>
<line x1="1564.8" y1="121" x2="1569.8" y2="121" stroke="#123" stroke-width="0.9"/>
<line x1="2070.8" y1="121" x2="2065.8" y2="121" stroke="#123" stroke-width="0.9"/>
<line x1="1564.8" y1="167" x2="1569.8" y2="167" stroke="#123" stroke-width="0.9"/>
<line x1="2070.8" y1="167" x2="2065.8" y2="167" stroke="#123" stroke-width="0.9"/>
<rect x="1708.3" y="58.2" width="109.4" height="17.8" fill="#ff7a0f" stroke="#5a2a00" stroke-width="1"/>
<text font-size="14.7" text-anchor="middle" fill="#4a2000" x="1763" y="72.5">cue sampling</text>
<text font-size="20.2" text-anchor="end" x="1561.5" y="83.2">60</text>
<text font-size="20.2" text-anchor="end" x="1561.5" y="128.2">40</text>
<text font-size="20.2" text-anchor="end" x="1561.5" y="174.2">20</text>
<text font-size="20.2" text-anchor="end" x="1561.5" y="216.7">0</text>
<text font-size="20.2" text-anchor="middle" x="1600.4" y="232.2">−1</text>
<text font-size="20.2" text-anchor="middle" x="1709.9" y="232.2">0</text>
<text font-size="20.2" text-anchor="middle" x="1819.4" y="232.2">1</text>
<text font-size="20.2" text-anchor="middle" x="1928.9" y="232.2">2</text>
<text font-size="20.2" text-anchor="middle" x="2038.4" y="232.2">3</text>
<text font-size="24.8" text-anchor="middle" x="1828" y="261">Time after poke onset (s)</text>
<text font-size="24.8" text-anchor="middle" transform="translate(1509.5 134.5) rotate(-90)">Frequency (Hz)</text>
<rect x="2082.7" y="76" width="16" height="137" fill="url(#cbE)"/>
<text font-size="15.5" x="2102" y="84.5">0.9</text>
<text font-size="15.5" x="2102" y="219">0.5</text>
<text font-size="20.3" text-anchor="middle" transform="translate(2112 145.5) rotate(90)">Coherence</text>
<text font-size="33" font-weight="bold" fill="#000" x="1585" y="328.5">f</text>
<path d="M1677.2 355.7V676H1893.4" stroke="#686868" stroke-width="1.3" fill="none"/>
<line x1="1677.2" y1="630.2" x2="1680.5" y2="630.2" stroke="#686868" stroke-width="1"/>
<line x1="1677.2" y1="584.5" x2="1680.5" y2="584.5" stroke="#686868" stroke-width="1"/>
<line x1="1677.2" y1="538.7" x2="1680.5" y2="538.7" stroke="#686868" stroke-width="1"/>
<line x1="1677.2" y1="493" x2="1680.5" y2="493" stroke="#686868" stroke-width="1"/>
<line x1="1677.2" y1="447.2" x2="1680.5" y2="447.2" stroke="#686868" stroke-width="1"/>
<line x1="1677.2" y1="401.4" x2="1680.5" y2="401.4" stroke="#686868" stroke-width="1"/>
<line x1="1677.2" y1="355.7" x2="1680.5" y2="355.7" stroke="#686868" stroke-width="1"/>
<rect x="1703" y="397" width="52.8" height="279" fill="#fff" stroke="#333" stroke-width="1.1"/>
<rect x="1768.6" y="395.4" width="53" height="280.6" fill="#fff" stroke="#333" stroke-width="1.1"/>
<rect x="1834.4" y="395.7" width="53.1" height="280.3" fill="#fff" stroke="#333" stroke-width="1.1"/>
<line x1="1729.5" y1="385.2" x2="1729.5" y2="408.9" stroke="#111" stroke-width="4"/>
<line x1="1795.1" y1="383.6" x2="1795.1" y2="406.6" stroke="#111" stroke-width="4"/>
<line x1="1861.1" y1="385" x2="1861.1" y2="406.6" stroke="#111" stroke-width="4"/>
<line x1="1729" y1="339" x2="1861.5" y2="339" stroke="#000" stroke-width="4"/>
<text font-size="22.8" text-anchor="middle" fill="#111" x="1793.5" y="331.3">N.S.</text>
<text font-size="19.5" text-anchor="end" x="1667.5" y="366">0.7</text>
<text font-size="19.5" text-anchor="end" x="1664" y="679.5">0</text>
<text font-size="26.3" text-anchor="middle" transform="translate(1641.3 512.5) rotate(-90)">Coherence</text>
<text font-size="24" transform="translate(1722 689) rotate(60)">pre-cue</text>
<text font-size="24" transform="translate(1783 692) rotate(60)">cue-sampling</text>
<text font-size="24" transform="translate(1847 694) rotate(60)">run</text>
</svg>
</body></html>
